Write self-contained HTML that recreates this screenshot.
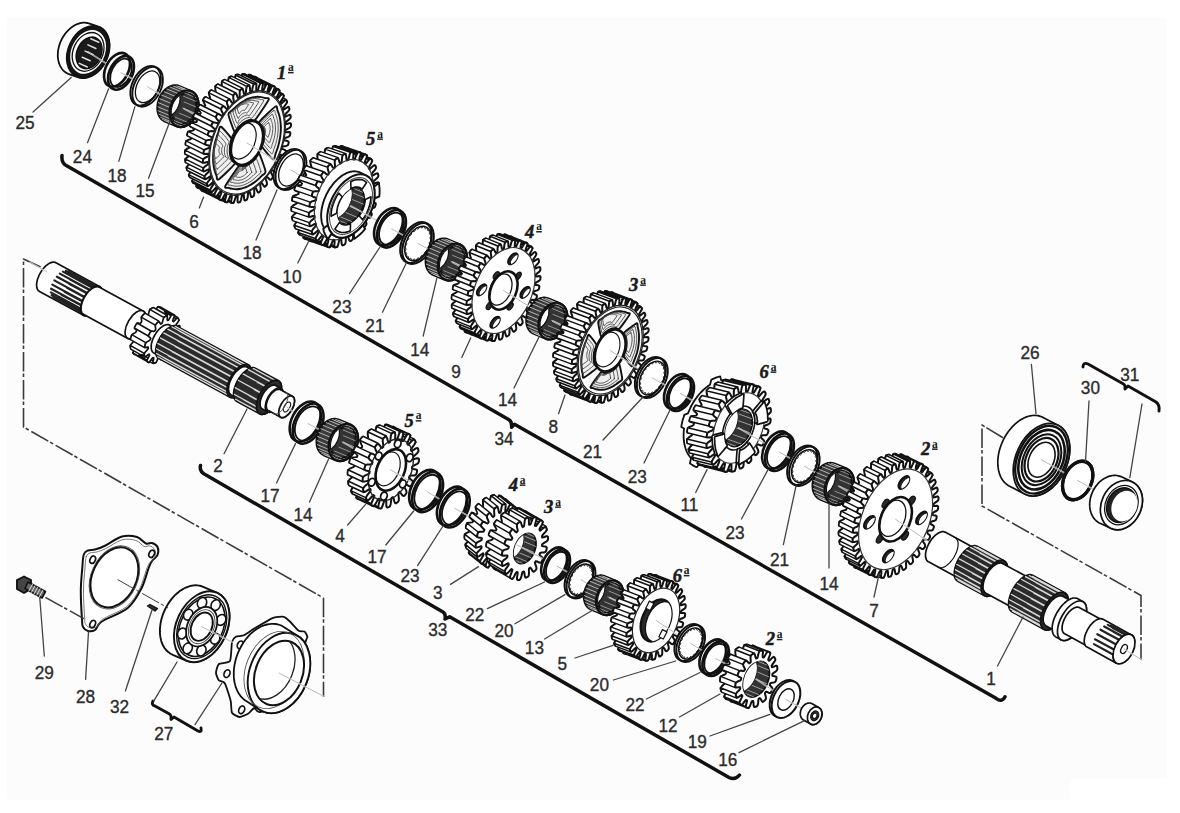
<!DOCTYPE html>
<html><head><meta charset="utf-8"><style>
html,body{margin:0;padding:0;background:#fff;}
svg{display:block;}
text{font-family:"Liberation Sans",sans-serif;}
</style></head><body>
<svg width="1180" height="813" viewBox="0 0 1180 813" stroke-linejoin="round" stroke-linecap="round">
<rect x="0" y="0" width="1180" height="813" fill="#fff"/>
<path d="M7,17.5 H1167 V778 H1070 V799.5 H7Z" fill="#fcfcfc"/>
<path d="M57.8,54.8 57.9,53 58,51.2 58.3,49.4 58.7,47.6 59.2,45.8 59.7,44 60.4,42.2 61.2,40.4 62,38.7 63,37.1 64,35.5 65,33.9 66.2,32.5 67.4,31.1 68.7,29.8 70,28.6 71.4,27.5 72.8,26.5 74.3,25.6 75.7,24.8 77.2,24.1 78.7,23.6 80.2,23.2 81.7,22.9 83.2,22.7 84.6,22.7 86.1,22.8 87.5,23 88.8,23.4 97.7,26.4 99,26.8 100.2,27.4 101.4,28.1 102.6,28.9 103.6,29.9 104.6,30.9 105.5,32 106.3,33.3 107.1,34.6 107.7,36 108.3,37.5 108.7,39.1 109.1,40.7 109.3,42.4 109.5,44.1 109.5,45.9 109.4,47.7 109.3,49.5 109,51.3 108.6,53.1 108.1,55 107.6,56.8 106.9,58.5 106.1,60.3 105.3,62 104.3,63.6 103.3,65.2 102.2,66.8 101.1,68.2 99.9,69.6 98.6,70.9 97.3,72.1 95.9,73.2 94.5,74.2 93,75.1 91.6,75.9 90.1,76.5 88.6,77.1 87.1,77.5 85.6,77.8 84.1,78 82.7,78 81.2,77.9 79.8,77.7 78.5,77.3 69.7,74.3 68.3,73.9 67.1,73.3 65.9,72.6 64.7,71.8 63.7,70.8 62.7,69.8 61.8,68.7 61,67.4 60.2,66.1 59.6,64.7 59,63.2 58.6,61.6 58.2,60 58,58.3 57.8,56.6Z" fill="#fff" stroke="#111" stroke-width="1.8" />
<ellipse cx="88.1" cy="51.9" rx="19.9" ry="27.3" transform="rotate(25 88.1 51.9)" fill="#151515" stroke="#111" stroke-width="1.6" />
<ellipse cx="88.1" cy="51.9" rx="16.7" ry="22.9" transform="rotate(25 88.1 51.9)" fill="#fff" stroke="none" stroke-width="0" />
<ellipse cx="88.1" cy="51.9" rx="14.8" ry="20.2" transform="rotate(25 88.1 51.9)" fill="none" stroke="#111" stroke-width="1.3" />
<ellipse cx="89.1" cy="52.9" rx="12" ry="16.4" transform="rotate(25 89.1 52.9)" fill="#1a1a1a" stroke="#111" stroke-width="1.6" />
<path d="M90.8,38.7 98.8,42.3M87.9,44.9 95.9,48.5M85.1,51.1 93.1,54.6M82.2,57.2 90.2,60.8M79.3,63.4 87.3,67" fill="none" stroke="#e0e0e0" stroke-width="1.5" />
<line x1="88.1" y1="51.9" x2="121" y2="72.8" stroke="#fff" stroke-width="1.8" opacity="0.6"/>
<line x1="88.1" y1="51.9" x2="121" y2="72.8" stroke="#a0a0a0" stroke-width="0.75" />
<ellipse cx="119" cy="71.3" rx="11.3" ry="18" transform="rotate(27 119 71.3)" fill="#fff" stroke="none" stroke-width="0" />
<ellipse cx="121" cy="72.8" rx="11.3" ry="18" transform="rotate(27 121 72.8)" fill="#fff" stroke="none" stroke-width="0" />
<ellipse cx="117" cy="69.8" rx="11.3" ry="18" transform="rotate(27 117 69.8)" fill="none" stroke="#111" stroke-width="2.6" />
<ellipse cx="121" cy="72.8" rx="11.3" ry="18" transform="rotate(27 121 72.8)" fill="none" stroke="#111" stroke-width="2.6" />
<ellipse cx="121" cy="72.8" rx="9.5" ry="15.1" transform="rotate(27 121 72.8)" fill="none" stroke="#111" stroke-width="1.8199999999999998" />
<line x1="121" y1="72.8" x2="147.6" y2="86.8" stroke="#fff" stroke-width="1.8" opacity="0.6"/>
<line x1="121" y1="72.8" x2="147.6" y2="86.8" stroke="#a0a0a0" stroke-width="0.75" />
<ellipse cx="146.6" cy="86.3" rx="13.3" ry="21.2" transform="rotate(27 146.6 86.3)" fill="#fff" stroke="none" stroke-width="0" />
<ellipse cx="147.6" cy="86.8" rx="13.3" ry="21.2" transform="rotate(27 147.6 86.8)" fill="#fff" stroke="none" stroke-width="0" />
<ellipse cx="145.6" cy="85.8" rx="13.3" ry="21.2" transform="rotate(27 145.6 85.8)" fill="none" stroke="#111" stroke-width="1.9" />
<ellipse cx="147.6" cy="86.8" rx="13.3" ry="21.2" transform="rotate(27 147.6 86.8)" fill="none" stroke="#111" stroke-width="1.9" />
<ellipse cx="147.6" cy="86.8" rx="10.7" ry="16.9" transform="rotate(27 147.6 86.8)" fill="none" stroke="#111" stroke-width="1.3299999999999998" />
<line x1="147.6" y1="86.8" x2="184" y2="108.7" stroke="#fff" stroke-width="1.8" opacity="0.6"/>
<line x1="147.6" y1="86.8" x2="184" y2="108.7" stroke="#a0a0a0" stroke-width="0.75" />
<path d="M157.5,107.4 157.6,106.2 157.7,104.9 157.9,103.6 158.1,102.3 158.5,101.1 158.9,99.8 159.3,98.6 159.9,97.4 160.4,96.2 161.1,95 161.8,93.9 162.5,92.9 163.3,91.9 164.2,90.9 165,90 165.9,89.2 166.9,88.5 167.8,87.8 168.8,87.2 169.8,86.7 170.8,86.3 171.8,85.9 172.8,85.7 173.8,85.5 174.8,85.4 175.8,85.4 176.8,85.5 177.7,85.7 178.7,86 179.5,86.3 191.5,91.3 192.4,91.8 193.2,92.3 193.9,92.9 194.7,93.6 195.3,94.3 195.9,95.2 196.5,96 196.9,97 197.4,98 197.7,99.1 198,100.2 198.2,101.3 198.4,102.5 198.5,103.7 198.5,105 198.4,106.2 198.3,107.5 198.1,108.8 197.8,110 197.5,111.3 197.1,112.6 196.6,113.8 196.1,115 195.5,116.2 194.9,117.3 194.2,118.5 193.4,119.5 192.7,120.5 191.8,121.5 191,122.3 190.1,123.2 189.1,123.9 188.2,124.6 187.2,125.2 186.2,125.7 185.2,126.1 184.2,126.5 183.2,126.7 182.2,126.9 181.2,127 180.2,127 179.2,126.9 178.2,126.7 177.3,126.4 176.5,126.1 164.5,121.1 163.6,120.6 162.8,120.1 162,119.5 161.3,118.8 160.7,118.1 160.1,117.2 159.5,116.4 159,115.4 158.6,114.4 158.2,113.3 158,112.2 157.7,111.1 157.6,109.9 157.5,108.7Z" fill="#3a3a3a" stroke="#111" stroke-width="2.4" />
<clipPath id="cl1"><path d="M157.5,107.4 157.6,106.2 157.7,104.9 157.9,103.6 158.1,102.3 158.5,101.1 158.9,99.8 159.3,98.6 159.9,97.4 160.4,96.2 161.1,95 161.8,93.9 162.5,92.9 163.3,91.9 164.2,90.9 165,90 165.9,89.2 166.9,88.5 167.8,87.8 168.8,87.2 169.8,86.7 170.8,86.3 171.8,85.9 172.8,85.7 173.8,85.5 174.8,85.4 175.8,85.4 176.8,85.5 177.7,85.7 178.7,86 179.5,86.3 191.5,91.3 192.4,91.8 193.2,92.3 193.9,92.9 194.7,93.6 195.3,94.3 195.9,95.2 196.5,96 196.9,97 197.4,98 197.7,99.1 198,100.2 198.2,101.3 198.4,102.5 198.5,103.7 198.5,105 198.4,106.2 198.3,107.5 198.1,108.8 197.8,110 197.5,111.3 197.1,112.6 196.6,113.8 196.1,115 195.5,116.2 194.9,117.3 194.2,118.5 193.4,119.5 192.7,120.5 191.8,121.5 191,122.3 190.1,123.2 189.1,123.9 188.2,124.6 187.2,125.2 186.2,125.7 185.2,126.1 184.2,126.5 183.2,126.7 182.2,126.9 181.2,127 180.2,127 179.2,126.9 178.2,126.7 177.3,126.4 176.5,126.1 164.5,121.1 163.6,120.6 162.8,120.1 162,119.5 161.3,118.8 160.7,118.1 160.1,117.2 159.5,116.4 159,115.4 158.6,114.4 158.2,113.3 158,112.2 157.7,111.1 157.6,109.9 157.5,108.7Z"/></clipPath>
<g clip-path="url(#cl1)">
<path d="M196.5,113.8 184.5,108.8M194.6,117.5 182.6,112.5M192.2,120.8 180.2,115.8M189.4,123.5 177.4,118.5M186.3,125.5 174.3,120.5M183.1,126.6 171.1,121.6M179.9,126.8 167.9,121.8M177,126.1 165,121.1M174.4,124.5 162.4,119.5M172.2,122.2 160.2,117.2M170.7,119.1 158.7,114.1M169.8,115.6 157.8,110.6M169.7,111.7 157.7,106.7M170.2,107.6 158.2,102.6M171.5,103.6 159.5,98.6M173.3,99.9 161.3,94.9M175.8,96.6 163.8,91.6M178.6,93.9 166.6,88.9M181.7,91.9 169.7,86.9M184.9,90.8 172.9,85.8M188.1,90.6 176.1,85.6M191,91.3 179,86.3M193.6,92.9 181.6,87.9M195.8,95.2 183.8,90.2M197.3,98.3 185.3,93.3M198.2,101.8 186.2,96.8M198.3,105.7 186.3,100.7M197.8,109.8 185.8,104.8" fill="none" stroke="#c4c4c4" stroke-width="0.9" />
</g>
<ellipse cx="184" cy="108.7" rx="13.6" ry="19" transform="rotate(22 184 108.7)" fill="none" stroke="#111" stroke-width="2.2" />
<ellipse cx="184" cy="108.7" rx="11.5" ry="15.9" transform="rotate(22 184 108.7)" fill="#333" stroke="#111" stroke-width="2.0" />
<clipPath id="cl2"><ellipse cx="184" cy="108.7" rx="11.5" ry="15.9" transform="rotate(22 184 108.7)" /></clipPath>
<g clip-path="url(#cl2)">
<path d="M194.6,113 182.6,108M191.5,118.3 179.5,113.3M187.3,122.2 175.3,117.2M182.5,124 170.5,119M178,123.5 166,118.5M174.4,120.7 162.4,115.7M172.3,116.1 160.3,111.1M171.9,110.4 159.9,105.4M173.4,104.4 161.4,99.4M176.5,99.1 164.5,94.1M180.7,95.2 168.7,90.2M185.4,93.4 173.4,88.4M190,93.9 178,88.9M193.6,96.7 181.6,91.7M195.7,101.3 183.7,96.3M196.1,107 184.1,102" fill="none" stroke="#b0b0b0" stroke-width="0.8" />
<ellipse cx="167.8" cy="102" rx="11.5" ry="15.9" transform="rotate(22 167.8 102)" fill="#fff" stroke="#111" stroke-width="1.2" />
</g>
<line x1="184" y1="108.7" x2="247" y2="143" stroke="#fff" stroke-width="1.8" opacity="0.6"/>
<line x1="184" y1="108.7" x2="247" y2="143" stroke="#a0a0a0" stroke-width="0.75" />
<defs><path id="g3" d="M278.8,156.5 279.8,157.5 281.6,159 282.4,160.1 282.4,161 281.4,163 280.7,163.6 279.5,163.6 277.3,162.9 275.9,162.8 275.1,164.3 275.9,165.5 277.4,167.4 278,168.8 277.8,169.8 276.7,171.6 276,172.1 274.8,171.8 272.9,170.5 271.6,170.1 270.6,171.5 271.2,173 272.4,175.3 272.8,176.8 272.5,177.8 271.3,179.5 270.6,179.8 269.5,179.3 267.8,177.5 266.7,176.8 265.6,178 266,179.7 266.8,182.4 267,184.1 266.6,185 265.2,186.5 264.5,186.7 263.6,185.8 262.2,183.6 261.3,182.6 260.1,183.7 260.3,185.5 260.7,188.5 260.7,190.3 260.2,191.2 258.8,192.4 258.1,192.5 257.3,191.4 256.3,188.8 255.5,187.5 254.3,188.3 254.2,190.3 254.3,193.5 254,195.3 253.5,196.2 252,197.1 251.3,197 250.7,195.7 250.1,192.8 249.5,191.3 248.3,191.9 248,193.8 247.7,197.3 247.2,199.1 246.6,199.9 245.1,200.5 244.5,200.2 244.1,198.7 243.9,195.5 243.5,193.9 242.3,194.2 241.8,196.2 241,199.7 240.4,201.5 239.7,202.2 238.2,202.5 237.7,202.1 237.5,200.4 237.7,197 237.6,195.2 236.4,195.3 235.6,197.2 234.5,200.7 233.7,202.5 233,203 231.6,203 231.1,202.4 231.2,200.6 231.8,197.2 231.8,195.2 230.7,195.1 229.8,196.9 228.4,200.3 227.4,201.9 226.6,202.3 225.3,202 225,201.3 225.2,199.5 226.2,196 226.5,194 225.5,193.6 224.4,195.3 222.6,198.5 221.5,200 220.8,200.2 219.6,199.6 219.3,198.8 219.8,196.9 221.1,193.5 221.7,191.5 220.8,190.9 219.5,192.4 217.5,195.3 216.3,196.6 215.6,196.7 214.5,195.7 214.4,194.9 215,193 216.7,189.8 217.4,187.8 216.7,186.9 215.4,188.3 213.1,190.8 211.8,191.9 211.1,191.9 210.3,190.6 210.3,189.7 211.1,187.9 213,184.9 214,183 213.4,181.9 212,183 209.6,185.2 208.2,186 207.6,185.8 206.9,184.3 207,183.3 208,181.7 210.2,179 211.3,177.2 210.9,176 209.4,176.8 206.9,178.5 205.5,179.1 205,178.7 204.5,177 204.8,176 205.9,174.5 208.2,172.2 209.5,170.6 209.2,169.2 207.8,169.7 205.3,170.9 203.9,171.2 203.4,170.7 203.2,168.9 203.5,167.9 204.8,166.6 207.3,164.7 208.6,163.3 208.6,161.8 207.1,162 204.6,162.7 203.3,162.7 202.9,162 203,160.1 203.4,159.1 204.7,158 207.3,156.6 208.7,155.5 208.8,153.9 207.5,153.8 205,154 203.8,153.7 203.5,152.9 203.8,150.9 204.3,150 205.7,149.1 208.2,148.2 209.7,147.4 210,145.8 208.8,145.4 206.5,145 205.4,144.4 205.2,143.5 205.7,141.5 206.3,140.6 207.7,140.1 210.2,139.7 211.6,139.2 212.1,137.6 211,136.8 208.9,135.9 208,135.1 207.9,134.1 208.6,132.1 209.3,131.4 210.6,131.1 213,131.3 214.4,131.1 215.1,129.5 214.1,128.5 212.3,127 211.5,125.9 211.6,125 212.5,123 213.2,122.4 214.5,122.4 216.7,123.1 218,123.2 218.8,121.7 218.1,120.5 216.5,118.6 215.9,117.2 216.1,116.2 217.2,114.4 217.9,113.9 219.1,114.2 221.1,115.5 222.3,115.9 223.3,114.5 222.7,113 221.5,110.7 221.1,109.2 221.4,108.2 222.6,106.5 223.4,106.2 224.5,106.7 226.1,108.5 227.3,109.2 228.3,108 228,106.3 227.1,103.6 226.9,101.9 227.3,101 228.7,99.5 229.4,99.3 230.4,100.2 231.7,102.4 232.7,103.4 233.8,102.3 233.7,100.5 233.2,97.5 233.3,95.7 233.7,94.8 235.2,93.6 235.9,93.5 236.7,94.6 237.6,97.2 238.4,98.5 239.6,97.7 239.7,95.7 239.7,92.5 239.9,90.7 240.5,89.8 242,88.9 242.6,89 243.2,90.3 243.8,93.2 244.4,94.7 245.6,94.1 245.9,92.2 246.3,88.7 246.7,86.9 247.3,86.1 248.9,85.5 249.5,85.8 249.9,87.3 250.1,90.5 250.4,92.1 251.6,91.8 252.2,89.8 252.9,86.3 253.6,84.5 254.2,83.8 255.7,83.5 256.3,83.9 256.4,85.6 256.2,89 256.4,90.8 257.5,90.7 258.3,88.8 259.4,85.3 260.2,83.5 260.9,83 262.4,83 262.8,83.6 262.8,85.4 262.2,88.8 262.1,90.8 263.2,90.9 264.1,89.1 265.6,85.7 266.6,84.1 267.3,83.7 268.6,84 269,84.7 268.7,86.5 267.8,90 267.4,92 268.4,92.4 269.5,90.7 271.3,87.5 272.4,86 273.2,85.8 274.4,86.4 274.6,87.2 274.1,89.1 272.8,92.5 272.3,94.5 273.2,95.1 274.4,93.6 276.4,90.7 277.7,89.4 278.4,89.3 279.4,90.3 279.5,91.1 278.9,93 277.2,96.2 276.5,98.2 277.2,99.1 278.6,97.7 280.8,95.2 282.1,94.1 282.8,94.1 283.7,95.4 283.7,96.3 282.9,98.1 280.9,101.1 280,103 280.6,104.1 282,103 284.4,100.8 285.7,100 286.4,100.2 287,101.7 286.9,102.7 285.9,104.3 283.8,107 282.6,108.8 283.1,110 284.5,109.2 287,107.5 288.4,106.9 289,107.3 289.4,109 289.2,110 288,111.5 285.7,113.8 284.4,115.4 284.7,116.8 286.1,116.3 288.7,115.1 290,114.8 290.5,115.3 290.7,117.1 290.4,118.1 289.2,119.4 286.7,121.3 285.3,122.7 285.4,124.2 286.8,124 289.3,123.3 290.6,123.3 291,124 291,125.9 290.5,126.9 289.2,128 286.7,129.4 285.2,130.5 285.1,132.1 286.5,132.2 288.9,132 290.1,132.3 290.4,133.1 290.1,135.1 289.6,136 288.3,136.9 285.7,137.8 284.2,138.6 283.9,140.2 285.2,140.6 287.5,141 288.5,141.6 288.7,142.5 288.2,144.5 287.6,145.4 286.3,145.9 283.8,146.3 282.3,146.8 281.8,148.4 282.9,149.2 285,150.1 286,150.9 286,151.9 285.3,153.9 284.7,154.6 283.3,154.9 281,154.7 279.5,154.9Z"/></defs>
<use href="#g3" x="-18" y="-9" fill="#fff" stroke="#111" stroke-width="2.0"/>
<use href="#g3" x="-16.2" y="-8.1" fill="#fff"/>
<use href="#g3" x="-14.4" y="-7.2" fill="#fff"/>
<use href="#g3" x="-12.6" y="-6.3" fill="#fff"/>
<use href="#g3" x="-10.8" y="-5.4" fill="#fff"/>
<use href="#g3" x="-9" y="-4.5" fill="#fff"/>
<use href="#g3" x="-7.2" y="-3.6" fill="#fff"/>
<use href="#g3" x="-5.4" y="-2.7" fill="#fff"/>
<use href="#g3" x="-3.6" y="-1.8" fill="#fff"/>
<use href="#g3" x="-1.8" y="-0.9" fill="#fff"/>
<path d="M286,99.5 287.3,102.4 269.3,93.4 268,90.5ZM233.7,203 230.9,202.9 212.9,193.9 215.7,194ZM282.4,93.6 284.1,96 266.1,87 264.4,84.6ZM227.3,202.5 224.6,201.8 206.6,192.8 209.3,193.5ZM277.8,88.8 279.9,90.8 261.9,81.8 259.8,79.8ZM221.4,200.5 219,199.2 201,190.2 203.4,191.5ZM272.5,85.5 275,86.8 257,77.8 254.5,76.5ZM216.1,197.2 214,195.2 196,186.2 198.1,188.2ZM266.6,83.5 269.3,84.2 251.3,75.2 248.6,74.5ZM211.6,192.4 209.8,190 191.8,181 193.6,183.4ZM260.2,83 263.1,83.1 245.1,74.1 242.2,74ZM207.9,186.5 206.6,183.6 188.6,174.6 189.9,177.5ZM253.5,84 256.5,83.4 238.5,74.4 235.5,75ZM205.2,179.5 204.3,176.1 186.3,167.1 187.2,170.5ZM246.6,86.4 249.6,85.2 231.6,76.2 228.6,77.4ZM203.5,171.6 203.1,167.9 185.1,158.9 185.5,162.6ZM239.7,90.3 242.7,88.4 224.7,79.4 221.7,81.3ZM233,95.4 235.9,93 217.9,84 215,86.4ZM202.9,163 203,159.1 185,150.1 184.9,154ZM226.6,101.7 229.4,98.8 211.4,89.8 208.6,92.7ZM203.4,153.9 204,149.8 186,140.8 185.4,144.9ZM220.8,109 223.3,105.7 205.3,96.7 202.8,100ZM205,144.6 206,140.4 188,131.4 187,135.6ZM215.6,117.2 217.8,113.5 199.8,104.5 197.6,108.2ZM207.6,135.2 209,131.1 191,122.1 189.6,126.2ZM211.1,126 213,122 195,113 193.1,117Z" fill="#fff" stroke="#111" stroke-width="1.5" />
<use href="#g3" fill="#fff" stroke="#111" stroke-width="2.0"/>
<ellipse cx="247" cy="143" rx="34.5" ry="54.8" transform="rotate(23 247 143)" fill="none" stroke="#222" stroke-width="1.2" />
<ellipse cx="247" cy="143" rx="33.7" ry="53.5" transform="rotate(23 247 143)" fill="none" stroke="#222" stroke-width="1.2" />
<path d="M265.5,171.4 C265.8,174 262.6,174.8 261.7,175.8 C260.8,176.7 258.7,178.8 257.8,179.6 C256.8,180.5 254.6,182.2 253.6,182.9 C252.6,183.6 250.3,185 249.3,185.5 C248.3,186.1 246,187.1 245,187.5 C244,187.8 241.7,188.5 240.7,188.7 C239.8,188.9 237.5,189.2 236.6,189.2 C235.6,189.2 233.5,189.1 232.6,188.9 C231.7,188.8 229.6,188.3 228.8,187.9 C227.9,187.6 224.1,188.8 225.3,186.2 C226.5,183.7 236.8,168.4 238.8,166.1 C240.9,163.8 241.9,166.4 242.9,166.3 C243.9,166.2 246.2,165.5 247.2,165 C248.2,164.5 250.6,163.1 251.5,162.3 C252.5,161.5 254.7,159.4 255.6,158.3 C256.4,157.3 257.9,151.9 259,153.4 C260.2,154.9 265.2,168.8 265.5,171.4Z" fill="#efefef" stroke="#111" stroke-width="1.9" />
<path d="M260.9,171.6 C261.1,173.8 258.6,174.5 257.8,175.2 C257.1,176 255.3,177.7 254.5,178.4 C253.8,179.1 251.9,180.5 251.1,181.1 C250.3,181.7 248.5,182.8 247.6,183.2 C246.8,183.7 244.9,184.5 244.1,184.8 C243.3,185.1 241.4,185.7 240.6,185.8 C239.8,186 238,186.2 237.2,186.2 C236.4,186.3 234.6,186.2 233.9,186 C233.1,185.9 231.5,185.5 230.8,185.2 C230.1,185 227,185.9 227.9,183.8 C228.9,181.7 237.4,169.2 239,167.3 C240.7,165.4 241.6,167.6 242.4,167.5 C243.2,167.4 245.1,166.8 245.9,166.4 C246.7,166 248.7,164.8 249.4,164.2 C250.2,163.6 252,161.8 252.7,161 C253.5,160.1 254.6,155.7 255.6,156.9 C256.5,158.2 260.6,169.5 260.9,171.6Z" fill="none" stroke="#444" stroke-width="0.9" />
<path d="M256.3,171.9 C256.5,173.6 254.5,174.1 253.9,174.7 C253.3,175.3 251.9,176.7 251.3,177.2 C250.7,177.7 249.3,178.8 248.7,179.3 C248,179.7 246.6,180.6 245.9,181 C245.3,181.3 243.8,182 243.2,182.2 C242.5,182.4 241.1,182.9 240.4,183 C239.8,183.1 238.4,183.3 237.8,183.3 C237.2,183.3 235.8,183.2 235.2,183.1 C234.6,183.1 233.3,182.7 232.8,182.5 C232.3,182.3 229.8,183 230.6,181.4 C231.3,179.8 237.9,170 239.2,168.5 C240.5,167 241.2,168.7 241.8,168.7 C242.5,168.6 244,168.1 244.6,167.8 C245.2,167.5 246.7,166.6 247.4,166.1 C248,165.6 249.4,164.2 249.9,163.6 C250.5,162.9 251.4,159.4 252.1,160.4 C252.9,161.4 256.1,170.2 256.3,171.9Z" fill="none" stroke="#444" stroke-width="0.9" />
<path d="M251.7,172.2 C251.8,173.4 250.4,173.7 250,174.2 C249.5,174.6 248.6,175.6 248.1,176 C247.7,176.4 246.7,177.2 246.2,177.5 C245.8,177.8 244.7,178.4 244.2,178.7 C243.8,178.9 242.7,179.4 242.3,179.6 C241.8,179.7 240.8,180 240.3,180.1 C239.8,180.2 238.8,180.4 238.4,180.4 C237.9,180.4 237,180.3 236.5,180.2 C236.1,180.2 235.2,179.9 234.8,179.8 C234.4,179.6 232.7,180.2 233.2,179 C233.7,177.8 238.5,170.8 239.4,169.7 C240.4,168.7 240.8,169.9 241.3,169.8 C241.7,169.8 242.8,169.5 243.3,169.2 C243.7,169 244.8,168.4 245.3,168 C245.7,167.6 246.7,166.7 247.1,166.2 C247.5,165.7 248.2,163.2 248.7,163.9 C249.2,164.6 251.5,171 251.7,172.2Z" fill="none" stroke="#444" stroke-width="0.9" />
<path d="M247.1,172.4 C247.2,173.2 246.3,173.4 246,173.7 C245.8,173.9 245.2,174.5 244.9,174.7 C244.6,175 244,175.5 243.7,175.7 C243.5,175.9 242.8,176.3 242.6,176.4 C242.3,176.6 241.6,176.8 241.3,176.9 C241.1,177 240.4,177.2 240.2,177.3 C239.9,177.3 239.3,177.4 239,177.4 C238.7,177.4 238.1,177.4 237.9,177.4 C237.6,177.3 237,177.2 236.8,177.1 C236.6,177 235.5,177.3 235.8,176.6 C236.2,175.9 239,171.6 239.6,171 C240.2,170.3 240.5,171.1 240.8,171 C241,171 241.7,170.8 242,170.7 C242.3,170.5 242.9,170.1 243.2,169.9 C243.4,169.7 244.1,169.1 244.3,168.8 C244.5,168.5 244.9,167 245.3,167.4 C245.6,167.8 247,171.7 247.1,172.4Z" fill="none" stroke="#444" stroke-width="0.9" />
<path d="M218.6,179.5 C216.4,180.8 216.9,176.5 216.5,175.6 C216,174.6 215.1,172.2 214.8,171.2 C214.5,170.1 213.9,167.5 213.7,166.3 C213.5,165.1 213.2,162.3 213.1,161 C213.1,159.8 213.1,156.8 213.1,155.5 C213.2,154.2 213.5,151.1 213.6,149.8 C213.8,148.4 214.4,145.3 214.7,143.9 C215,142.6 215.8,139.4 216.3,138.1 C216.7,136.7 217.8,133.6 218.3,132.3 C218.9,130.9 219.3,125.9 220.9,126.7 C222.5,127.5 230.7,137.1 231.8,139.2 C232.9,141.4 230.5,143.8 230.3,145.2 C230,146.5 229.8,149.7 229.8,151 C229.8,152.2 230.1,155.1 230.4,156.2 C230.7,157.4 231.6,159.8 232.1,160.7 C232.6,161.6 236.3,161.8 234.7,164 C233.2,166.1 220.7,178.1 218.6,179.5Z" fill="#efefef" stroke="#111" stroke-width="1.9" />
<path d="M217.9,174.3 C216.1,175.4 216.5,171.9 216.1,171.1 C215.8,170.3 215.1,168.3 214.8,167.4 C214.5,166.6 214,164.4 213.9,163.5 C213.7,162.5 213.5,160.2 213.4,159.2 C213.4,158.1 213.4,155.7 213.4,154.6 C213.4,153.5 213.7,151 213.8,149.9 C214,148.8 214.4,146.2 214.7,145.1 C214.9,144 215.6,141.4 216,140.3 C216.3,139.2 217.2,136.7 217.7,135.6 C218.1,134.5 218.5,130.3 219.8,131 C221.1,131.6 227.9,139.5 228.8,141.3 C229.6,143 227.7,145 227.5,146.1 C227.3,147.3 227.1,149.8 227.1,150.9 C227.1,151.9 227.4,154.3 227.6,155.2 C227.8,156.1 228.5,158.1 229,158.8 C229.4,159.6 232.4,159.7 231.1,161.5 C229.8,163.3 219.6,173.1 217.9,174.3Z" fill="none" stroke="#444" stroke-width="0.9" />
<path d="M217.2,169.1 C215.8,169.9 216.1,167.2 215.8,166.6 C215.5,165.9 215,164.4 214.8,163.7 C214.6,163 214.2,161.4 214.1,160.6 C213.9,159.9 213.7,158.1 213.7,157.3 C213.7,156.5 213.6,154.6 213.7,153.7 C213.7,152.9 213.9,150.9 214,150 C214.1,149.2 214.5,147.2 214.7,146.3 C214.9,145.4 215.4,143.4 215.7,142.6 C216,141.7 216.7,139.7 217,138.9 C217.4,138 217.6,134.7 218.6,135.3 C219.7,135.8 225,141.9 225.7,143.3 C226.4,144.7 224.8,146.2 224.7,147.1 C224.5,148 224.3,150 224.4,150.8 C224.4,151.6 224.6,153.5 224.7,154.2 C224.9,154.9 225.5,156.4 225.8,157 C226.1,157.6 228.5,157.7 227.5,159.1 C226.5,160.5 218.5,168.2 217.2,169.1Z" fill="none" stroke="#444" stroke-width="0.9" />
<path d="M216.5,163.8 C215.5,164.5 215.7,162.5 215.5,162.1 C215.3,161.6 214.9,160.5 214.7,160 C214.6,159.5 214.3,158.3 214.2,157.8 C214.1,157.2 214,156 214,155.4 C213.9,154.8 213.9,153.4 214,152.8 C214,152.2 214.1,150.8 214.2,150.2 C214.3,149.6 214.5,148.1 214.7,147.5 C214.8,146.9 215.2,145.4 215.4,144.8 C215.6,144.2 216.1,142.8 216.4,142.1 C216.6,141.5 216.8,139.2 217.5,139.6 C218.3,139.9 222.1,144.4 222.6,145.3 C223.1,146.3 222,147.4 221.9,148.1 C221.7,148.7 221.6,150.1 221.6,150.7 C221.6,151.3 221.8,152.6 221.9,153.2 C222,153.7 222.5,154.8 222.7,155.2 C222.9,155.6 224.6,155.7 223.9,156.7 C223.2,157.7 217.4,163.2 216.5,163.8Z" fill="none" stroke="#444" stroke-width="0.9" />
<path d="M215.8,158.6 C215.2,159 215.3,157.8 215.2,157.6 C215.1,157.3 214.8,156.6 214.7,156.3 C214.6,156 214.5,155.3 214.4,155 C214.4,154.6 214.3,153.8 214.2,153.5 C214.2,153.1 214.2,152.3 214.2,151.9 C214.3,151.6 214.3,150.7 214.4,150.3 C214.4,149.9 214.6,149.1 214.7,148.7 C214.8,148.3 215,147.4 215.1,147 C215.2,146.7 215.6,145.8 215.7,145.4 C215.9,145.1 216,143.6 216.4,143.9 C216.9,144.1 219.2,146.8 219.5,147.4 C219.8,148 219.1,148.7 219,149 C219,149.4 218.9,150.3 218.9,150.7 C218.9,151 219,151.8 219.1,152.1 C219.2,152.5 219.4,153.1 219.6,153.4 C219.7,153.6 220.7,153.7 220.3,154.3 C219.9,154.9 216.4,158.3 215.8,158.6Z" fill="none" stroke="#444" stroke-width="0.9" />
<path d="M228.4,114.6 C228.1,112 231.3,111.2 232.2,110.2 C233.1,109.3 235.2,107.2 236.2,106.4 C237.1,105.5 239.4,103.8 240.3,103.1 C241.3,102.4 243.6,101 244.6,100.5 C245.6,99.9 247.9,98.9 248.9,98.5 C249.9,98.2 252.2,97.5 253.2,97.3 C254.2,97.1 256.4,96.8 257.4,96.8 C258.3,96.8 260.5,96.9 261.4,97.1 C262.3,97.2 264.3,97.7 265.1,98.1 C266,98.4 269.8,97.2 268.6,99.8 C267.5,102.3 257.1,117.6 255.1,119.9 C253,122.2 252,119.6 251,119.7 C250,119.8 247.7,120.5 246.7,121 C245.7,121.5 243.4,122.9 242.4,123.7 C241.4,124.5 239.3,126.6 238.4,127.7 C237.5,128.7 236.1,134.1 234.9,132.6 C233.8,131.1 228.8,117.2 228.4,114.6Z" fill="#efefef" stroke="#111" stroke-width="1.9" />
<path d="M230.6,113.2 C230.4,111 233,110.3 233.7,109.6 C234.5,108.8 236.2,107.1 237,106.4 C237.8,105.7 239.6,104.3 240.4,103.7 C241.2,103.1 243.1,102 243.9,101.6 C244.7,101.1 246.6,100.3 247.4,100 C248.3,99.7 250.1,99.1 250.9,99 C251.7,98.8 253.6,98.6 254.4,98.6 C255.1,98.5 256.9,98.6 257.6,98.8 C258.4,98.9 260,99.3 260.7,99.6 C261.4,99.8 264.6,98.9 263.6,101 C262.6,103.1 254.2,115.6 252.5,117.5 C250.8,119.4 250,117.2 249.2,117.3 C248.4,117.4 246.4,118 245.6,118.4 C244.8,118.8 242.9,120 242.1,120.6 C241.3,121.2 239.5,123 238.8,123.8 C238.1,124.7 236.9,129.1 236,127.9 C235,126.6 230.9,115.3 230.6,113.2Z" fill="none" stroke="#444" stroke-width="0.9" />
<path d="M232.9,111.7 C232.6,110 234.7,109.5 235.3,108.9 C235.8,108.3 237.2,106.9 237.8,106.4 C238.4,105.9 239.8,104.8 240.5,104.3 C241.1,103.9 242.6,103 243.2,102.6 C243.8,102.3 245.3,101.6 246,101.4 C246.6,101.2 248.1,100.7 248.7,100.6 C249.3,100.5 250.7,100.3 251.4,100.3 C252,100.3 253.3,100.4 253.9,100.5 C254.5,100.5 255.8,100.9 256.3,101.1 C256.9,101.3 259.3,100.6 258.6,102.2 C257.8,103.8 251.2,113.6 249.9,115.1 C248.6,116.6 247.9,114.9 247.3,114.9 C246.7,115 245.2,115.5 244.5,115.8 C243.9,116.1 242.4,117 241.8,117.5 C241.2,118 239.8,119.4 239.2,120 C238.6,120.7 237.7,124.2 237,123.2 C236.3,122.2 233.1,113.4 232.9,111.7Z" fill="none" stroke="#444" stroke-width="0.9" />
<path d="M235.1,110.2 C234.9,109 236.4,108.7 236.8,108.2 C237.2,107.8 238.2,106.8 238.6,106.4 C239,106 240.1,105.2 240.5,104.9 C241,104.6 242,104 242.5,103.7 C242.9,103.5 244,103 244.5,102.8 C244.9,102.7 246,102.4 246.4,102.3 C246.9,102.2 247.9,102 248.4,102 C248.8,102 249.8,102.1 250.2,102.2 C250.6,102.2 251.5,102.5 251.9,102.6 C252.3,102.8 254.1,102.2 253.5,103.4 C253,104.6 248.3,111.6 247.3,112.7 C246.4,113.7 245.9,112.5 245.4,112.6 C245,112.6 243.9,112.9 243.5,113.2 C243,113.4 241.9,114 241.5,114.4 C241,114.8 240,115.7 239.6,116.2 C239.2,116.7 238.6,119.2 238,118.5 C237.5,117.8 235.2,111.4 235.1,110.2Z" fill="none" stroke="#444" stroke-width="0.9" />
<path d="M237.3,108.8 C237.2,108 238.1,107.8 238.3,107.5 C238.6,107.3 239.2,106.7 239.4,106.5 C239.7,106.2 240.3,105.7 240.6,105.5 C240.9,105.3 241.5,104.9 241.8,104.8 C242.1,104.6 242.7,104.4 243,104.3 C243.3,104.2 243.9,104 244.2,103.9 C244.5,103.9 245.1,103.8 245.4,103.8 C245.6,103.8 246.2,103.8 246.5,103.8 C246.7,103.9 247.3,104 247.5,104.1 C247.8,104.2 248.8,103.9 248.5,104.6 C248.2,105.3 245.3,109.6 244.7,110.2 C244.1,110.9 243.9,110.1 243.6,110.2 C243.3,110.2 242.6,110.4 242.4,110.5 C242.1,110.7 241.4,111.1 241.2,111.3 C240.9,111.5 240.3,112.1 240,112.4 C239.8,112.7 239.4,114.2 239.1,113.8 C238.7,113.4 237.3,109.5 237.3,108.8Z" fill="none" stroke="#444" stroke-width="0.9" />
<path d="M275.4,106.5 C277.5,105.2 277,109.5 277.5,110.4 C277.9,111.4 278.8,113.8 279.1,114.8 C279.4,115.9 280,118.5 280.2,119.7 C280.4,120.9 280.7,123.7 280.8,125 C280.9,126.2 280.9,129.2 280.8,130.5 C280.8,131.8 280.5,134.9 280.3,136.2 C280.1,137.6 279.5,140.7 279.2,142.1 C278.9,143.4 278.1,146.6 277.7,147.9 C277.2,149.3 276.1,152.4 275.6,153.7 C275.1,155.1 274.6,160.1 273.1,159.3 C271.5,158.5 263.2,148.9 262.1,146.8 C261,144.6 263.4,142.2 263.7,140.8 C263.9,139.5 264.2,136.3 264.1,135 C264.1,133.8 263.8,130.9 263.5,129.8 C263.3,128.6 262.3,126.2 261.8,125.3 C261.3,124.4 257.6,124.2 259.2,122 C260.8,119.9 273.2,107.9 275.4,106.5Z" fill="#efefef" stroke="#111" stroke-width="1.9" />
<path d="M273.7,110.5 C275.4,109.4 275,112.9 275.4,113.7 C275.8,114.5 276.5,116.5 276.7,117.4 C277,118.2 277.5,120.4 277.6,121.3 C277.8,122.3 278.1,124.6 278.1,125.6 C278.2,126.7 278.2,129.1 278.1,130.2 C278.1,131.3 277.9,133.8 277.7,134.9 C277.6,136 277.1,138.6 276.8,139.7 C276.6,140.8 275.9,143.4 275.5,144.5 C275.2,145.6 274.3,148.1 273.8,149.2 C273.4,150.3 273.1,154.5 271.8,153.8 C270.5,153.2 263.7,145.3 262.8,143.5 C261.9,141.8 263.9,139.8 264.1,138.7 C264.3,137.5 264.5,135 264.5,133.9 C264.4,132.9 264.2,130.5 264,129.6 C263.7,128.7 263,126.7 262.6,126 C262.2,125.2 259.1,125.1 260.4,123.3 C261.7,121.5 271.9,111.7 273.7,110.5Z" fill="none" stroke="#444" stroke-width="0.9" />
<path d="M272,114.5 C273.3,113.7 273,116.4 273.3,117 C273.6,117.7 274.2,119.2 274.4,119.9 C274.6,120.6 274.9,122.2 275.1,123 C275.2,123.7 275.4,125.5 275.4,126.3 C275.5,127.1 275.5,129 275.5,129.9 C275.4,130.7 275.2,132.7 275.1,133.6 C275,134.4 274.6,136.4 274.4,137.3 C274.2,138.2 273.7,140.2 273.4,141 C273.2,141.9 272.5,143.9 272.1,144.7 C271.8,145.6 271.5,148.9 270.5,148.3 C269.5,147.8 264.2,141.7 263.5,140.3 C262.8,138.9 264.3,137.4 264.5,136.5 C264.6,135.6 264.8,133.6 264.8,132.8 C264.8,132 264.6,130.1 264.4,129.4 C264.2,128.7 263.6,127.2 263.3,126.6 C263,126 260.6,125.9 261.6,124.5 C262.6,123.1 270.6,115.4 272,114.5Z" fill="none" stroke="#444" stroke-width="0.9" />
<path d="M270.3,118.6 C271.3,117.9 271,119.9 271.2,120.3 C271.4,120.8 271.8,121.9 272,122.4 C272.1,122.9 272.4,124.1 272.5,124.6 C272.6,125.2 272.7,126.4 272.8,127 C272.8,127.6 272.8,129 272.8,129.6 C272.7,130.2 272.6,131.6 272.5,132.2 C272.5,132.8 272.2,134.3 272.1,134.9 C271.9,135.5 271.5,137 271.3,137.6 C271.1,138.2 270.6,139.6 270.4,140.3 C270.1,140.9 269.9,143.2 269.2,142.8 C268.5,142.5 264.7,138 264.2,137.1 C263.7,136.1 264.8,135 264.9,134.3 C265,133.7 265.1,132.3 265.1,131.7 C265.1,131.1 264.9,129.8 264.8,129.2 C264.7,128.7 264.3,127.6 264,127.2 C263.8,126.8 262.1,126.7 262.8,125.7 C263.6,124.7 269.3,119.2 270.3,118.6Z" fill="none" stroke="#444" stroke-width="0.9" />
<path d="M268.6,122.6 C269.2,122.2 269,123.4 269.2,123.6 C269.3,123.9 269.5,124.6 269.6,124.9 C269.7,125.2 269.9,125.9 269.9,126.2 C270,126.6 270.1,127.4 270.1,127.7 C270.1,128.1 270.1,128.9 270.1,129.3 C270.1,129.6 270,130.5 269.9,130.9 C269.9,131.3 269.7,132.1 269.7,132.5 C269.6,132.9 269.3,133.8 269.2,134.2 C269.1,134.5 268.8,135.4 268.6,135.8 C268.5,136.1 268.4,137.6 267.9,137.3 C267.5,137.1 265.2,134.4 264.9,133.8 C264.5,133.2 265.2,132.5 265.3,132.2 C265.4,131.8 265.4,130.9 265.4,130.5 C265.4,130.2 265.3,129.4 265.3,129.1 C265.2,128.7 264.9,128.1 264.8,127.8 C264.6,127.6 263.6,127.5 264,126.9 C264.5,126.3 268,122.9 268.6,122.6Z" fill="none" stroke="#444" stroke-width="0.9" />
<ellipse cx="247" cy="143" rx="14.7" ry="23.3" transform="rotate(23 247 143)" fill="#fff" stroke="#111" stroke-width="3.0" />
<ellipse cx="243" cy="141" rx="11.9" ry="18.9" transform="rotate(23 243 141)" fill="none" stroke="#111" stroke-width="1.2" />
<line x1="247" y1="143" x2="291" y2="170" stroke="#fff" stroke-width="1.8" opacity="0.6"/>
<line x1="247" y1="143" x2="291" y2="170" stroke="#a0a0a0" stroke-width="0.75" />
<ellipse cx="290" cy="169.5" rx="13.5" ry="21.4" transform="rotate(27 290 169.5)" fill="#fff" stroke="none" stroke-width="0" />
<ellipse cx="291" cy="170" rx="13.5" ry="21.4" transform="rotate(27 291 170)" fill="#fff" stroke="none" stroke-width="0" />
<ellipse cx="289" cy="169" rx="13.5" ry="21.4" transform="rotate(27 289 169)" fill="none" stroke="#111" stroke-width="1.9" />
<ellipse cx="291" cy="170" rx="13.5" ry="21.4" transform="rotate(27 291 170)" fill="none" stroke="#111" stroke-width="1.9" />
<ellipse cx="291" cy="170" rx="10.8" ry="17.1" transform="rotate(27 291 170)" fill="none" stroke="#111" stroke-width="1.3299999999999998" />
<line x1="291" y1="170" x2="351" y2="206" stroke="#fff" stroke-width="1.8" opacity="0.6"/>
<line x1="291" y1="170" x2="351" y2="206" stroke="#a0a0a0" stroke-width="0.75" />
<defs><path id="g4" d="M368.4,210 369.3,211.1 371.1,212.6 371.8,213.8 371.7,214.9 370.6,217.1 369.9,217.8 368.6,217.8 366.4,216.9 365,216.8 364.1,218.4 364.7,219.8 366.1,222 366.5,223.5 366.3,224.6 364.9,226.6 364.1,227.1 362.9,226.6 361.1,225.1 359.9,224.5 358.8,225.9 359.1,227.5 360,230.3 360.1,232 359.7,233.1 358.1,234.7 357.3,235 356.3,234.1 355,231.9 354,230.9 352.7,232 352.8,233.9 353.1,237 352.9,238.9 352.3,239.8 350.6,241.1 349.8,241.1 349.1,239.9 348.3,237.1 347.6,235.8 346.3,236.5 345.9,238.5 345.7,241.9 345.2,243.8 344.5,244.6 342.8,245.4 342.1,245.1 341.6,243.6 341.4,240.5 341,238.8 339.6,239.2 339,241.1 338.2,244.6 337.4,246.5 336.7,247.1 335,247.4 334.4,246.9 334.3,245.2 334.6,241.8 334.5,239.9 333.3,239.8 332.4,241.7 331,245.1 330,246.8 329.2,247.3 327.6,247 327.2,246.3 327.4,244.4 328.3,241 328.5,238.9 327.4,238.5 326.3,240.2 324.5,243.3 323.3,244.8 322.5,245 321.1,244.2 320.8,243.3 321.3,241.4 322.7,238.1 323.3,236 322.4,235.2 321.1,236.6 318.9,239.4 317.6,240.5 316.8,240.5 315.7,239.2 315.6,238.2 316.4,236.4 318.2,233.3 319.1,231.3 318.4,230.2 317,231.2 314.6,233.4 313.2,234.2 312.5,233.9 311.8,232.2 311.9,231.1 312.8,229.4 315,226.8 316.1,225 315.7,223.6 314.3,224.2 311.7,225.7 310.3,226.1 309.8,225.6 309.4,223.6 309.7,222.5 310.9,221 313.3,218.9 314.6,217.4 314.5,215.8 313,216 310.5,216.8 309.2,216.7 308.8,216 308.8,213.8 309.2,212.7 310.5,211.5 313.1,210.1 314.5,208.9 314.7,207.1 313.3,206.9 310.9,206.9 309.8,206.5 309.5,205.6 309.9,203.2 310.5,202.3 311.9,201.4 314.4,200.7 315.9,200 316.3,198.2 315.2,197.5 313,196.7 312.1,195.9 312,194.9 312.7,192.5 313.4,191.7 314.8,191.3 317.2,191.3 318.7,191 319.4,189.3 318.5,188.2 316.7,186.7 315.9,185.5 316.1,184.4 317.1,182.2 317.9,181.5 319.2,181.5 321.4,182.4 322.7,182.5 323.7,180.9 323,179.5 321.7,177.3 321.2,175.8 321.5,174.7 322.9,172.7 323.7,172.2 324.9,172.7 326.6,174.2 327.9,174.8 329,173.4 328.6,171.8 327.8,169 327.7,167.3 328.1,166.2 329.7,164.6 330.5,164.3 331.5,165.2 332.8,167.4 333.8,168.4 335,167.3 335,165.4 334.7,162.3 334.9,160.4 335.5,159.5 337.2,158.2 337.9,158.2 338.7,159.4 339.5,162.2 340.2,163.5 341.5,162.8 341.8,160.8 342.1,157.4 342.6,155.5 343.3,154.7 345,153.9 345.7,154.2 346.1,155.7 346.4,158.8 346.8,160.5 348.1,160.1 348.7,158.2 349.6,154.7 350.3,152.8 351.1,152.2 352.8,151.9 353.4,152.4 353.5,154.1 353.2,157.5 353.3,159.4 354.5,159.5 355.4,157.6 356.8,154.2 357.8,152.5 358.6,152 360.1,152.3 360.6,153 360.4,154.9 359.5,158.3 359.3,160.4 360.4,160.8 361.5,159.1 363.3,156 364.5,154.5 365.3,154.3 366.6,155.1 366.9,156 366.5,157.9 365.1,161.2 364.5,163.3 365.4,164.1 366.7,162.7 368.9,159.9 370.2,158.8 371,158.8 372,160.1 372.1,161.1 371.4,162.9 369.5,166 368.7,168 369.4,169.1 370.8,168.1 373.2,165.9 374.6,165.1 375.3,165.4 376,167.1 375.9,168.2 374.9,169.9 372.7,172.5 371.6,174.3 372,175.7 373.5,175.1 376,173.6 377.4,173.2 378,173.7 378.4,175.7 378.1,176.8 376.9,178.3 374.5,180.4 373.2,181.9 373.3,183.5 374.7,183.3 377.3,182.5 378.6,182.6 379,183.3 379,185.5 378.6,186.6 377.2,187.8 374.7,189.2 373.3,190.4 373.1,192.2 374.4,192.4 376.8,192.4 378,192.8 378.3,193.7 377.9,196.1 377.3,197 375.9,197.9 373.4,198.6 371.9,199.3 371.4,201.1 372.6,201.8 374.7,202.6 375.7,203.4 375.8,204.4 375,206.8 374.3,207.6 373,208 370.6,208 369.1,208.3Z"/></defs>
<use href="#g4" x="-17.4" y="-6" fill="#fff" stroke="#111" stroke-width="2.0"/>
<use href="#g4" x="-15.6" y="-5.4" fill="#fff"/>
<use href="#g4" x="-13.9" y="-4.8" fill="#fff"/>
<use href="#g4" x="-12.2" y="-4.2" fill="#fff"/>
<use href="#g4" x="-10.4" y="-3.6" fill="#fff"/>
<use href="#g4" x="-8.7" y="-3" fill="#fff"/>
<use href="#g4" x="-6.9" y="-2.4" fill="#fff"/>
<use href="#g4" x="-5.2" y="-1.8" fill="#fff"/>
<use href="#g4" x="-3.5" y="-1.2" fill="#fff"/>
<use href="#g4" x="-1.7" y="-0.6" fill="#fff"/>
<path d="M370.4,158.2 372.5,160.8 355.2,154.8 353,152.2ZM337.5,247 334.1,247.4 316.8,241.4 320.2,241ZM364.6,153.9 367.3,155.5 349.9,149.5 347.2,147.9ZM330,247.4 326.9,246.8 309.5,240.8 312.6,241.4ZM357.8,151.9 360.9,152.5 343.5,146.5 340.4,145.9ZM323.2,245.4 320.5,243.8 303.1,237.8 305.8,239.4ZM350.2,152.3 353.6,151.9 336.3,145.9 332.9,146.3ZM317.4,241.1 315.2,238.5 297.9,232.5 300,235.1ZM342.4,155.1 345.9,153.6 328.5,147.6 325,149.1ZM312.9,234.7 311.4,231.3 294.1,225.3 295.5,228.7ZM334.6,160.1 338,157.6 320.7,151.6 317.3,154.1ZM310,226.6 309.3,222.6 291.9,216.6 292.6,220.6ZM327.3,167.1 330.5,163.8 313.1,157.8 310,161.1ZM308.8,217.1 308.8,212.6 291.5,206.6 291.4,211.1ZM320.9,175.7 323.6,171.7 306.2,165.7 303.5,169.7ZM309.4,206.8 310.1,202.1 292.8,196.1 292,200.8ZM315.5,185.5 317.7,181.1 300.3,175.1 298.2,179.5ZM311.6,196.1 313.2,191.4 295.8,185.4 294.3,190.1Z" fill="#fff" stroke="#111" stroke-width="1.5" />
<use href="#g4" fill="#fff" stroke="#111" stroke-width="2.0"/>
<ellipse cx="343.9" cy="199.7" rx="26.6" ry="42.2" transform="rotate(23 343.9 199.7)" fill="none" stroke="#333" stroke-width="1.2" />
<path d="M321.1,215.4 321.2,213.3 321.4,211.2 321.7,209 322.1,206.9 322.6,204.7 323.3,202.4 324,200.2 324.9,198 325.8,195.9 326.8,193.7 327.9,191.7 329.1,189.6 330.4,187.6 331.8,185.8 333.2,183.9 334.7,182.2 336.2,180.6 337.8,179.1 339.4,177.7 341,176.4 342.6,175.3 344.3,174.3 346,173.4 347.6,172.7 349.3,172.1 350.9,171.7 352.5,171.4 354.1,171.3 355.6,171.4 357,171.6 358.4,171.9 359.8,172.4 365.8,175.4 367.1,176.1 368.2,176.8 369.4,177.8 370.4,178.8 371.3,180.1 372.1,181.4 372.8,182.8 373.5,184.4 374,186.1 374.4,187.8 374.6,189.7 374.8,191.6 374.9,193.6 374.8,195.7 374.6,197.8 374.3,200 373.9,202.1 373.4,204.3 372.7,206.6 372,208.8 371.1,211 370.2,213.1 369.2,215.3 368.1,217.3 366.9,219.4 365.6,221.4 364.2,223.2 362.8,225.1 361.3,226.8 359.8,228.4 358.2,229.9 356.6,231.3 355,232.6 353.4,233.7 351.7,234.7 350,235.6 348.4,236.3 346.7,236.9 345.1,237.3 343.5,237.6 341.9,237.7 340.4,237.6 339,237.4 337.6,237.1 336.2,236.6 330.2,233.6 328.9,232.9 327.8,232.2 326.6,231.2 325.6,230.2 324.7,228.9 323.9,227.6 323.2,226.2 322.5,224.6 322,222.9 321.6,221.2 321.4,219.3 321.2,217.4Z" fill="#fff" stroke="#111" stroke-width="1.9" />
<ellipse cx="351" cy="206" rx="20.4" ry="34" transform="rotate(27 351 206)" fill="#fff" stroke="#111" stroke-width="2.0" />
<ellipse cx="351" cy="206" rx="18.4" ry="30.6" transform="rotate(27 351 206)" fill="none" stroke="#444" stroke-width="1.0" />
<path d="M374.1,186.7 374.6,189.4 374.8,192.1 374.8,195 374.6,198.1 379.3,196.5 379.6,192.8 379.6,189.4 379.3,186 378.8,182.9Z" fill="#fff" stroke="#111" stroke-width="1.9" />
<path d="M362.8,225.1 360.7,227.5 358.4,229.7 356.1,231.7 353.8,233.4 354.3,238.9 357.2,236.8 359.9,234.5 362.6,231.8 365.1,228.9Z" fill="#fff" stroke="#111" stroke-width="1.9" />
<path d="M331.8,233.4 330.5,231.7 329.4,229.7 328.5,227.5 327.8,225 323.2,228.9 324,231.8 325.1,234.4 326.4,236.8 328,238.9Z" fill="#fff" stroke="#111" stroke-width="1.9" />
<path d="M371,196.8 370.6,200.6 369.8,204.6 368.5,208.6 366.9,212.5 364.9,216.3 362.6,219.8 359.3,215.9 360.9,213.3 362.4,210.6 363.5,207.8 364.4,205 365,202.2 365.3,199.4Z" fill="#fff" stroke="#111" stroke-width="1.6" />
<path d="M350.3,230.8 347.4,231.9 344.4,232.5 341.7,232.5 339.1,231.9 336.9,230.8 334.9,229 339.5,222.4 340.9,223.7 342.5,224.5 344.4,225 346.3,225 348.4,224.5 350.5,223.7Z" fill="#fff" stroke="#111" stroke-width="1.6" />
<path d="M331,216.2 331.2,212.5 331.9,208.5 333.1,204.5 334.6,200.6 336.5,196.7 338.7,193.1 342.2,196.8 340.7,199.4 339.3,202.1 338.2,205 337.4,207.8 336.9,210.6 336.7,213.3Z" fill="#fff" stroke="#111" stroke-width="1.6" />
<path d="M350.8,181.7 353.8,180.3 356.8,179.6 359.6,179.4 362.2,179.8 364.5,180.9 366.6,182.5 362.1,189.2 360.7,188 359,187.3 357.1,187 355.1,187.1 353,187.7 350.9,188.6Z" fill="#fff" stroke="#111" stroke-width="1.6" />
<ellipse cx="351" cy="206" rx="11.4" ry="19" transform="rotate(27 351 206)" fill="#333" stroke="#111" stroke-width="1.8" />
<clipPath id="cl5"><ellipse cx="351" cy="206" rx="11.4" ry="19" transform="rotate(27 351 206)" /></clipPath>
<g clip-path="url(#cl5)">
<path d="M361.2,211.2 349.2,206.2M357.1,217.3 345.1,212.3M352.1,221.7 340.1,216.7M346.9,223.7 334.9,218.7M342.4,223 330.4,218M339.1,219.7 327.1,214.7M337.7,214.3 325.7,209.3M338.3,207.7 326.3,202.7M340.8,200.8 328.8,195.8M344.9,194.7 332.9,189.7M349.9,190.3 337.9,185.3M355.1,188.3 343.1,183.3M359.6,189 347.6,184M362.9,192.3 350.9,187.3M364.3,197.7 352.3,192.7M363.7,204.3 351.7,199.3" fill="none" stroke="#bbb" stroke-width="0.8" />
<ellipse cx="339" cy="201" rx="11.4" ry="19" transform="rotate(27 339 201)" fill="#fff" stroke="#222" stroke-width="1" />
</g>
<line x1="351" y1="206" x2="391.5" y2="228.8" stroke="#fff" stroke-width="1.8" opacity="0.6"/>
<line x1="351" y1="206" x2="391.5" y2="228.8" stroke="#a0a0a0" stroke-width="0.75" />
<ellipse cx="390" cy="227.8" rx="12.6" ry="20" transform="rotate(27 390 227.8)" fill="#fff" stroke="none" stroke-width="0" />
<ellipse cx="391.5" cy="228.8" rx="12.6" ry="20" transform="rotate(27 391.5 228.8)" fill="#fff" stroke="none" stroke-width="0" />
<ellipse cx="388.5" cy="226.8" rx="12.6" ry="20" transform="rotate(27 388.5 226.8)" fill="none" stroke="#111" stroke-width="2.6" />
<ellipse cx="391.5" cy="228.8" rx="12.6" ry="20" transform="rotate(27 391.5 228.8)" fill="none" stroke="#111" stroke-width="2.6" />
<ellipse cx="391.5" cy="228.8" rx="10.9" ry="17.2" transform="rotate(27 391.5 228.8)" fill="none" stroke="#111" stroke-width="1.8199999999999998" />
<line x1="391.5" y1="228.8" x2="418" y2="243.5" stroke="#fff" stroke-width="1.8" opacity="0.6"/>
<line x1="391.5" y1="228.8" x2="418" y2="243.5" stroke="#a0a0a0" stroke-width="0.75" />
<ellipse cx="417" cy="243" rx="13.8" ry="21.9" transform="rotate(27 417 243)" fill="#fff" stroke="none" stroke-width="0" />
<ellipse cx="418" cy="243.5" rx="13.8" ry="21.9" transform="rotate(27 418 243.5)" fill="#fff" stroke="none" stroke-width="0" />
<ellipse cx="416" cy="242.5" rx="13.8" ry="21.9" transform="rotate(27 416 242.5)" fill="none" stroke="#111" stroke-width="2.0" />
<ellipse cx="418" cy="243.5" rx="13.8" ry="21.9" transform="rotate(27 418 243.5)" fill="none" stroke="#111" stroke-width="2.0" />
<ellipse cx="418" cy="243.5" rx="11.6" ry="18.4" transform="rotate(27 418 243.5)" fill="none" stroke="#111" stroke-width="1.4" />
<path d="M427.3,248.2 427.6,250 426.9,251.3 425.3,251.6 424.5,252.6 424.3,254.6 423.4,255.6 422,255.3 421.1,256 420.4,258.2 419.4,258.8 418.3,257.8 417.4,258.3 416.3,260.2 415.2,260.5 414.6,259 413.7,259 412.3,260.7 411.3,260.5 411.2,258.6 410.4,258.3 408.8,259.4 408.1,258.9 408.5,256.8 407.9,256.1 406.3,256.6 405.9,255.7 406.7,253.6 406.4,252.7 404.9,252.5 404.8,251.4 406,249.5 406,248.4 404.8,247.6 405,246.3 406.5,244.8 406.8,243.6 406,242.2 406.5,240.9 408.1,239.9 408.7,238.8 408.3,237 409.1,235.7 410.7,235.4 411.5,234.4 411.6,232.4 412.6,231.4 414,231.7 414.9,231 415.6,228.8 416.6,228.2 417.7,229.2 418.6,228.7 419.7,226.8 420.7,226.5 421.4,228 422.3,228 423.7,226.3 424.6,226.5 424.8,228.4 425.5,228.7 427.1,227.6 427.9,228.1 427.5,230.2 428,230.9 429.7,230.4 430.1,231.3 429.3,233.4 429.6,234.3 431,234.5 431.2,235.6 430,237.5 430,238.6 431.2,239.4 431,240.7 429.5,242.2 429.2,243.4 430,244.8 429.5,246.1 427.9,247.1Z" fill="none" stroke="#111" stroke-width="0.9" />
<line x1="418" y1="243.5" x2="452.4" y2="262.1" stroke="#fff" stroke-width="1.8" opacity="0.6"/>
<line x1="418" y1="243.5" x2="452.4" y2="262.1" stroke="#a0a0a0" stroke-width="0.75" />
<path d="M425.8,260.8 425.8,259.6 425.9,258.3 426.1,257 426.4,255.7 426.8,254.4 427.1,253.1 427.6,251.9 428.1,250.7 428.7,249.5 429.4,248.3 430.1,247.2 430.8,246.2 431.6,245.1 432.5,244.2 433.4,243.3 434.3,242.5 435.2,241.7 436.2,241 437.2,240.4 438.2,239.9 439.2,239.5 440.2,239.1 441.2,238.9 442.2,238.7 443.2,238.6 444.2,238.6 445.2,238.7 446.2,238.9 447.1,239.2 448,239.5 460,244.5 460.8,245 461.6,245.5 462.4,246.1 463.1,246.8 463.8,247.6 464.4,248.4 464.9,249.3 465.4,250.2 465.9,251.3 466.2,252.3 466.5,253.4 466.8,254.6 466.9,255.8 467,257 467,258.3 466.9,259.6 466.8,260.8 466.6,262.1 466.3,263.4 466,264.7 465.6,266 465.1,267.2 464.6,268.4 464,269.6 463.4,270.8 462.7,271.9 461.9,272.9 461.1,274 460.3,274.9 459.4,275.8 458.5,276.6 457.5,277.4 456.6,278.1 455.6,278.7 454.6,279.2 453.6,279.6 452.6,280 451.5,280.2 450.5,280.4 449.5,280.5 448.5,280.5 447.5,280.4 446.6,280.2 445.7,279.9 444.8,279.6 432.8,274.6 431.9,274.1 431.1,273.6 430.3,273 429.6,272.3 429,271.6 428.4,270.7 427.8,269.8 427.3,268.9 426.9,267.8 426.5,266.8 426.2,265.6 426,264.5 425.9,263.3 425.8,262.1Z" fill="#3a3a3a" stroke="#111" stroke-width="2.4" />
<clipPath id="cl6"><path d="M425.8,260.8 425.8,259.6 425.9,258.3 426.1,257 426.4,255.7 426.8,254.4 427.1,253.1 427.6,251.9 428.1,250.7 428.7,249.5 429.4,248.3 430.1,247.2 430.8,246.2 431.6,245.1 432.5,244.2 433.4,243.3 434.3,242.5 435.2,241.7 436.2,241 437.2,240.4 438.2,239.9 439.2,239.5 440.2,239.1 441.2,238.9 442.2,238.7 443.2,238.6 444.2,238.6 445.2,238.7 446.2,238.9 447.1,239.2 448,239.5 460,244.5 460.8,245 461.6,245.5 462.4,246.1 463.1,246.8 463.8,247.6 464.4,248.4 464.9,249.3 465.4,250.2 465.9,251.3 466.2,252.3 466.5,253.4 466.8,254.6 466.9,255.8 467,257 467,258.3 466.9,259.6 466.8,260.8 466.6,262.1 466.3,263.4 466,264.7 465.6,266 465.1,267.2 464.6,268.4 464,269.6 463.4,270.8 462.7,271.9 461.9,272.9 461.1,274 460.3,274.9 459.4,275.8 458.5,276.6 457.5,277.4 456.6,278.1 455.6,278.7 454.6,279.2 453.6,279.6 452.6,280 451.5,280.2 450.5,280.4 449.5,280.5 448.5,280.5 447.5,280.4 446.6,280.2 445.7,279.9 444.8,279.6 432.8,274.6 431.9,274.1 431.1,273.6 430.3,273 429.6,272.3 429,271.6 428.4,270.7 427.8,269.8 427.3,268.9 426.9,267.8 426.5,266.8 426.2,265.6 426,264.5 425.9,263.3 425.8,262.1Z"/></clipPath>
<g clip-path="url(#cl6)">
<path d="M465,267.2 453,262.2M463.1,270.9 451.1,265.9M460.7,274.3 448.7,269.3M457.8,277 445.8,272M454.7,278.9 442.7,273.9M451.5,280.1 439.5,275.1M448.3,280.3 436.3,275.3M445.3,279.6 433.3,274.6M442.7,278 430.7,273M440.5,275.6 428.5,270.6M439,272.6 427,267.6M438.1,269 426.1,264M437.9,265.1 425.9,260.1M438.5,261 426.5,256M439.7,256.9 427.7,251.9M441.6,253.2 429.6,248.2M444.1,249.8 432.1,244.8M446.9,247.1 434.9,242.1M450,245.2 438,240.2M453.3,244 441.3,239M456.5,243.8 444.5,238.8M459.5,244.5 447.5,239.5M462.1,246.1 450.1,241.1M464.2,248.5 452.2,243.5M465.8,251.5 453.8,246.5M466.7,255.1 454.7,250.1M466.8,259 454.8,254M466.3,263.1 454.3,258.1" fill="none" stroke="#c4c4c4" stroke-width="0.9" />
</g>
<ellipse cx="452.4" cy="262.1" rx="13.8" ry="19.1" transform="rotate(22 452.4 262.1)" fill="none" stroke="#111" stroke-width="2.2" />
<ellipse cx="452.4" cy="262.1" rx="11.6" ry="16" transform="rotate(22 452.4 262.1)" fill="#333" stroke="#111" stroke-width="2.0" />
<clipPath id="cl7"><ellipse cx="452.4" cy="262.1" rx="11.6" ry="16" transform="rotate(22 452.4 262.1)" /></clipPath>
<g clip-path="url(#cl7)">
<path d="M463.1,266.4 451.1,261.4M460,271.7 448,266.7M455.7,275.6 443.7,270.6M450.9,277.5 438.9,272.5M446.4,276.9 434.4,271.9M442.7,274.1 430.7,269.1M440.5,269.5 428.5,264.5M440.2,263.7 428.2,258.7M441.7,257.7 429.7,252.7M444.8,252.4 432.8,247.4M449,248.5 437,243.5M453.8,246.6 441.8,241.6M458.4,247.2 446.4,242.2M462,250 450,245M464.2,254.6 452.2,249.6M464.6,260.4 452.6,255.4" fill="none" stroke="#b0b0b0" stroke-width="0.8" />
<ellipse cx="436.2" cy="255.3" rx="11.6" ry="16" transform="rotate(22 436.2 255.3)" fill="#fff" stroke="#111" stroke-width="1.2" />
</g>
<line x1="452.4" y1="262.1" x2="503.5" y2="290.5" stroke="#fff" stroke-width="1.8" opacity="0.6"/>
<line x1="452.4" y1="262.1" x2="503.5" y2="290.5" stroke="#a0a0a0" stroke-width="0.75" />
<defs><path id="g8" d="M530.2,301.8 531,302.8 532.6,304.1 533.2,305.2 533.1,306.2 532.1,308.3 531.4,308.9 530.2,309 528.3,308.3 527.1,308.3 526.2,309.9 526.8,311.1 528,312.9 528.4,314.3 528.2,315.3 526.9,317.1 526.2,317.6 525.1,317.4 523.5,316.2 522.3,315.8 521.3,317.2 521.7,318.6 522.5,320.9 522.7,322.4 522.3,323.4 520.9,325 520.1,325.3 519.2,324.7 517.9,323 516.9,322.3 515.7,323.4 515.8,325 516.3,327.7 516.2,329.3 515.7,330.2 514.2,331.5 513.4,331.7 512.7,330.8 511.7,328.6 510.9,327.6 509.7,328.4 509.5,330.2 509.5,333 509.2,334.7 508.6,335.5 507,336.5 506.4,336.4 505.8,335.3 505.2,332.7 504.7,331.4 503.4,332 503,333.7 502.6,336.8 502,338.4 501.4,339.1 499.8,339.7 499.2,339.4 498.8,338 498.7,335.2 498.4,333.7 497.1,334 496.5,335.7 495.6,338.7 494.9,340.3 494.2,340.9 492.6,341 492.1,340.5 492,339 492.4,336 492.3,334.3 491.1,334.2 490.3,335.9 489,338.8 488.1,340.3 487.4,340.6 485.9,340.3 485.5,339.7 485.7,338.1 486.4,335 486.6,333.3 485.6,332.8 484.6,334.3 483,337 481.9,338.3 481.2,338.5 479.9,337.8 479.6,337 480,335.3 481.2,332.4 481.6,330.5 480.7,329.8 479.6,331.1 477.7,333.5 476.5,334.5 475.8,334.5 474.8,333.4 474.7,332.5 475.2,330.9 476.8,328.1 477.4,326.3 476.7,325.3 475.5,326.3 473.4,328.3 472.2,329 471.6,328.8 470.8,327.4 470.8,326.4 471.6,324.9 473.4,322.3 474.3,320.7 473.8,319.4 472.5,320.1 470.3,321.6 469.1,322.1 468.5,321.7 468,319.9 468.2,318.9 469.1,317.5 471.2,315.4 472.2,313.9 472,312.4 470.7,312.8 468.5,313.8 467.3,313.9 466.8,313.3 466.6,311.4 466.9,310.4 468,309.1 470.2,307.5 471.4,306.2 471.4,304.6 470.2,304.6 468,305 466.9,304.8 466.5,304.1 466.7,302 467.1,301 468.3,300 470.5,298.9 471.8,297.9 472,296.2 470.9,295.9 468.8,295.7 467.9,295.2 467.7,294.4 468.1,292.2 468.6,291.3 469.9,290.6 472.1,290 473.4,289.4 473.9,287.7 472.9,287 471,286.2 470.2,285.4 470.2,284.5 470.9,282.3 471.5,281.5 472.8,281.1 474.9,281.2 476.2,280.8 476.9,279.2 476.1,278.2 474.5,276.9 473.9,275.8 474,274.8 475,272.7 475.7,272.1 476.8,272 478.8,272.7 480,272.7 480.9,271.1 480.3,269.9 479.1,268.1 478.7,266.7 478.9,265.7 480.1,263.9 480.9,263.4 481.9,263.6 483.6,264.8 484.7,265.2 485.8,263.8 485.4,262.4 484.6,260.1 484.4,258.6 484.8,257.6 486.2,256 486.9,255.7 487.9,256.3 489.2,258 490.2,258.7 491.3,257.6 491.2,256 490.8,253.3 490.9,251.7 491.4,250.8 492.9,249.5 493.6,249.3 494.4,250.2 495.4,252.4 496.2,253.4 497.4,252.6 497.5,250.8 497.6,248 497.9,246.3 498.5,245.5 500,244.5 500.7,244.6 501.3,245.7 501.8,248.3 502.4,249.6 503.7,249 504.1,247.3 504.5,244.2 505.1,242.6 505.7,241.9 507.3,241.3 507.9,241.6 508.3,243 508.4,245.8 508.7,247.3 509.9,247 510.6,245.3 511.4,242.3 512.2,240.7 512.9,240.1 514.4,240 515,240.5 515.1,242 514.7,245 514.8,246.7 516,246.8 516.8,245.1 518.1,242.2 519,240.7 519.7,240.4 521.1,240.7 521.5,241.3 521.4,242.9 520.6,246 520.5,247.7 521.5,248.2 522.5,246.7 524.1,244 525.2,242.7 525.9,242.5 527.2,243.2 527.4,244 527.1,245.7 525.9,248.6 525.5,250.5 526.4,251.2 527.5,249.9 529.4,247.5 530.5,246.5 531.2,246.5 532.3,247.6 532.4,248.5 531.8,250.1 530.3,252.9 529.6,254.7 530.4,255.7 531.6,254.7 533.7,252.7 534.9,252 535.5,252.2 536.3,253.6 536.3,254.6 535.5,256.1 533.7,258.7 532.8,260.3 533.3,261.6 534.6,260.9 536.8,259.4 538,258.9 538.6,259.3 539,261.1 538.9,262.1 537.9,263.5 535.9,265.6 534.8,267.1 535.1,268.6 536.4,268.2 538.6,267.2 539.8,267.1 540.3,267.7 540.4,269.6 540.1,270.6 539.1,271.9 536.9,273.5 535.7,274.8 535.7,276.4 536.9,276.4 539.1,276 540.2,276.2 540.5,276.9 540.4,279 540,280 538.8,281 536.6,282.1 535.3,283.1 535.1,284.8 536.2,285.1 538.2,285.3 539.2,285.8 539.4,286.6 539,288.8 538.4,289.7 537.2,290.4 535,291 533.7,291.6 533.2,293.3 534.2,294 536,294.8 536.9,295.6 536.9,296.5 536.2,298.7 535.5,299.5 534.3,299.9 532.2,299.8 530.9,300.2Z"/></defs>
<use href="#g8" x="-14.9" y="-6" fill="#fff" stroke="#111" stroke-width="2.0"/>
<use href="#g8" x="-13.4" y="-5.4" fill="#fff"/>
<use href="#g8" x="-11.9" y="-4.8" fill="#fff"/>
<use href="#g8" x="-10.4" y="-4.2" fill="#fff"/>
<use href="#g8" x="-8.9" y="-3.6" fill="#fff"/>
<use href="#g8" x="-7.4" y="-3" fill="#fff"/>
<use href="#g8" x="-6" y="-2.4" fill="#fff"/>
<use href="#g8" x="-4.5" y="-1.8" fill="#fff"/>
<use href="#g8" x="-3" y="-1.2" fill="#fff"/>
<use href="#g8" x="-1.5" y="-0.6" fill="#fff"/>
<path d="M530.7,246 532.8,248.2 517.9,242.2 515.8,240ZM495,340.8 491.9,341 477,335 480.1,334.8ZM525.3,242.2 527.8,243.6 512.9,237.6 510.4,236.2ZM488.1,340.8 485.2,340.1 470.4,334.1 473.2,334.8ZM519,240.2 521.8,240.9 507,234.9 504.1,234.2ZM481.8,338.8 479.3,337.4 464.4,331.4 466.9,332.8ZM512.1,240.2 515.2,240 500.3,234 497.2,234.2ZM476.4,335 474.3,332.8 459.4,326.8 461.5,329ZM504.9,242.2 508.1,241.1 493.2,235.1 490,236.2ZM472,329.5 470.4,326.6 455.5,320.6 457.1,323.5ZM497.7,246 500.8,244.1 486,238.1 482.8,240ZM468.8,322.5 467.8,319 452.9,313 453.9,316.5ZM466.9,314.3 466.6,310.4 451.7,304.4 452.1,308.3ZM490.6,251.5 493.7,248.8 478.8,242.8 475.8,245.5ZM466.5,305.2 466.8,300.9 451.9,294.9 451.6,299.2ZM484.1,258.5 486.9,255.2 472,249.2 469.2,252.5ZM467.5,295.4 468.4,291.1 453.5,285.1 452.6,289.4ZM478.3,266.7 480.8,262.9 465.9,256.9 463.4,260.7ZM469.9,285.5 471.3,281.2 456.4,275.2 455,279.5ZM473.5,275.8 475.5,271.7 460.6,265.7 458.6,269.8Z" fill="#fff" stroke="#111" stroke-width="1.5" />
<use href="#g8" fill="#fff" stroke="#111" stroke-width="2.0"/>
<ellipse cx="503.5" cy="290.5" rx="28.4" ry="45" transform="rotate(23 503.5 290.5)" fill="none" stroke="#333" stroke-width="1.2" />
<ellipse cx="512.9" cy="258.8" rx="3.2" ry="6.4" transform="rotate(38 512.9 258.8)" fill="#333" stroke="#111" stroke-width="2.2" />
<clipPath id="cl9"><ellipse cx="512.9" cy="258.8" rx="3.2" ry="6.4" transform="rotate(38 512.9 258.8)" /></clipPath>
<g clip-path="url(#cl9)">
<ellipse cx="514.9" cy="259.8" rx="3" ry="6" transform="rotate(38 514.9 259.8)" fill="#fff" stroke="#111" stroke-width="1.0" />
</g>
<ellipse cx="525.1" cy="292.4" rx="3.2" ry="6.4" transform="rotate(38 525.1 292.4)" fill="#333" stroke="#111" stroke-width="2.2" />
<clipPath id="cl10"><ellipse cx="525.1" cy="292.4" rx="3.2" ry="6.4" transform="rotate(38 525.1 292.4)" /></clipPath>
<g clip-path="url(#cl10)">
<ellipse cx="527.1" cy="293.4" rx="3" ry="6" transform="rotate(38 527.1 293.4)" fill="#fff" stroke="#111" stroke-width="1.0" />
</g>
<ellipse cx="495.1" cy="322.3" rx="3.2" ry="6.4" transform="rotate(38 495.1 322.3)" fill="#333" stroke="#111" stroke-width="2.2" />
<clipPath id="cl11"><ellipse cx="495.1" cy="322.3" rx="3.2" ry="6.4" transform="rotate(38 495.1 322.3)" /></clipPath>
<g clip-path="url(#cl11)">
<ellipse cx="497.1" cy="323.3" rx="3" ry="6" transform="rotate(38 497.1 323.3)" fill="#fff" stroke="#111" stroke-width="1.0" />
</g>
<ellipse cx="481.6" cy="289.9" rx="3.2" ry="6.4" transform="rotate(38 481.6 289.9)" fill="#333" stroke="#111" stroke-width="2.2" />
<clipPath id="cl12"><ellipse cx="481.6" cy="289.9" rx="3.2" ry="6.4" transform="rotate(38 481.6 289.9)" /></clipPath>
<g clip-path="url(#cl12)">
<ellipse cx="483.6" cy="290.9" rx="3" ry="6" transform="rotate(38 483.6 290.9)" fill="#fff" stroke="#111" stroke-width="1.0" />
</g>
<ellipse cx="518.2" cy="275.9" rx="2.3" ry="4.2" transform="rotate(33 518.2 275.9)" fill="#2a2a2a" stroke="#111" stroke-width="1.2" />
<ellipse cx="510.2" cy="306.2" rx="2.3" ry="4.2" transform="rotate(33 510.2 306.2)" fill="#2a2a2a" stroke="#111" stroke-width="1.2" />
<ellipse cx="489.2" cy="305.8" rx="2.3" ry="4.2" transform="rotate(33 489.2 305.8)" fill="#2a2a2a" stroke="#111" stroke-width="1.2" />
<ellipse cx="496.3" cy="275.4" rx="2.3" ry="4.2" transform="rotate(33 496.3 275.4)" fill="#2a2a2a" stroke="#111" stroke-width="1.2" />
<ellipse cx="503.5" cy="290.5" rx="12.7" ry="20.1" transform="rotate(23 503.5 290.5)" fill="#fff" stroke="#111" stroke-width="2.6" />
<ellipse cx="500.5" cy="289.5" rx="10.4" ry="16.4" transform="rotate(23 500.5 289.5)" fill="none" stroke="#111" stroke-width="1.3" />
<line x1="503.5" y1="290.5" x2="552.9" y2="321.1" stroke="#fff" stroke-width="1.8" opacity="0.6"/>
<line x1="503.5" y1="290.5" x2="552.9" y2="321.1" stroke="#a0a0a0" stroke-width="0.75" />
<path d="M526.4,319.8 526.5,318.6 526.6,317.3 526.8,316 527,314.8 527.4,313.5 527.8,312.2 528.2,311 528.8,309.8 529.4,308.6 530,307.4 530.7,306.3 531.4,305.3 532.2,304.3 533,303.3 533.9,302.4 534.8,301.6 535.8,300.9 536.7,300.2 537.7,299.6 538.7,299.1 539.7,298.7 540.7,298.3 541.7,298.1 542.7,297.9 543.7,297.8 544.7,297.8 545.7,297.9 546.6,298.1 547.5,298.4 548.4,298.7 560.4,303.7 561.3,304.2 562.1,304.7 562.8,305.3 563.5,306 564.2,306.7 564.8,307.6 565.4,308.4 565.9,309.4 566.3,310.4 566.6,311.5 566.9,312.6 567.1,313.7 567.3,314.9 567.4,316.1 567.4,317.4 567.3,318.6 567.2,319.9 567,321.2 566.7,322.4 566.4,323.7 566,325 565.5,326.2 565,327.4 564.4,328.6 563.8,329.8 563.1,330.9 562.4,331.9 561.6,332.9 560.7,333.9 559.9,334.8 559,335.6 558,336.3 557.1,337 556.1,337.6 555.1,338.1 554.1,338.5 553.1,338.9 552.1,339.1 551,339.3 550,339.4 549.1,339.4 548.1,339.3 547.1,339.1 546.2,338.8 545.4,338.5 533.4,333.5 532.5,333 531.7,332.5 530.9,331.9 530.2,331.2 529.6,330.5 529,329.6 528.4,328.8 527.9,327.8 527.5,326.8 527.1,325.7 526.9,324.6 526.6,323.5 526.5,322.3 526.4,321.1Z" fill="#3a3a3a" stroke="#111" stroke-width="2.4" />
<clipPath id="cl13"><path d="M526.4,319.8 526.5,318.6 526.6,317.3 526.8,316 527,314.8 527.4,313.5 527.8,312.2 528.2,311 528.8,309.8 529.4,308.6 530,307.4 530.7,306.3 531.4,305.3 532.2,304.3 533,303.3 533.9,302.4 534.8,301.6 535.8,300.9 536.7,300.2 537.7,299.6 538.7,299.1 539.7,298.7 540.7,298.3 541.7,298.1 542.7,297.9 543.7,297.8 544.7,297.8 545.7,297.9 546.6,298.1 547.5,298.4 548.4,298.7 560.4,303.7 561.3,304.2 562.1,304.7 562.8,305.3 563.5,306 564.2,306.7 564.8,307.6 565.4,308.4 565.9,309.4 566.3,310.4 566.6,311.5 566.9,312.6 567.1,313.7 567.3,314.9 567.4,316.1 567.4,317.4 567.3,318.6 567.2,319.9 567,321.2 566.7,322.4 566.4,323.7 566,325 565.5,326.2 565,327.4 564.4,328.6 563.8,329.8 563.1,330.9 562.4,331.9 561.6,332.9 560.7,333.9 559.9,334.8 559,335.6 558,336.3 557.1,337 556.1,337.6 555.1,338.1 554.1,338.5 553.1,338.9 552.1,339.1 551,339.3 550,339.4 549.1,339.4 548.1,339.3 547.1,339.1 546.2,338.8 545.4,338.5 533.4,333.5 532.5,333 531.7,332.5 530.9,331.9 530.2,331.2 529.6,330.5 529,329.6 528.4,328.8 527.9,327.8 527.5,326.8 527.1,325.7 526.9,324.6 526.6,323.5 526.5,322.3 526.4,321.1Z"/></clipPath>
<g clip-path="url(#cl13)">
<path d="M565.4,326.2 553.4,321.2M563.5,329.9 551.5,324.9M561.1,333.2 549.1,328.2M558.3,335.9 546.3,330.9M555.2,337.9 543.2,332.9M552,339 540,334M548.8,339.2 536.8,334.2M545.9,338.5 533.9,333.5M543.3,336.9 531.3,331.9M541.1,334.6 529.1,329.6M539.6,331.5 527.6,326.5M538.7,328 526.7,323M538.6,324.1 526.6,319.1M539.1,320 527.1,315M540.4,316 528.4,311M542.2,312.3 530.2,307.3M544.7,309 532.7,304M547.5,306.3 535.5,301.3M550.6,304.3 538.6,299.3M553.8,303.2 541.8,298.2M557,303 545,298M559.9,303.7 547.9,298.7M562.5,305.3 550.5,300.3M564.7,307.6 552.7,302.6M566.2,310.7 554.2,305.7M567.1,314.2 555.1,309.2M567.2,318.1 555.2,313.1M566.7,322.2 554.7,317.2" fill="none" stroke="#c4c4c4" stroke-width="0.9" />
</g>
<ellipse cx="552.9" cy="321.1" rx="13.6" ry="19" transform="rotate(22 552.9 321.1)" fill="none" stroke="#111" stroke-width="2.2" />
<ellipse cx="552.9" cy="321.1" rx="11.5" ry="15.9" transform="rotate(22 552.9 321.1)" fill="#333" stroke="#111" stroke-width="2.0" />
<clipPath id="cl14"><ellipse cx="552.9" cy="321.1" rx="11.5" ry="15.9" transform="rotate(22 552.9 321.1)" /></clipPath>
<g clip-path="url(#cl14)">
<path d="M563.5,325.4 551.5,320.4M560.4,330.7 548.4,325.7M556.2,334.6 544.2,329.6M551.4,336.4 539.4,331.4M546.9,335.9 534.9,330.9M543.3,333.1 531.3,328.1M541.2,328.5 529.2,323.5M540.8,322.8 528.8,317.8M542.3,316.8 530.3,311.8M545.4,311.5 533.4,306.5M549.6,307.6 537.6,302.6M554.3,305.8 542.3,300.8M558.9,306.3 546.9,301.3M562.5,309.1 550.5,304.1M564.6,313.7 552.6,308.7M565,319.4 553,314.4" fill="none" stroke="#b0b0b0" stroke-width="0.8" />
<ellipse cx="536.7" cy="314.4" rx="11.5" ry="15.9" transform="rotate(22 536.7 314.4)" fill="#fff" stroke="#111" stroke-width="1.2" />
</g>
<line x1="552.9" y1="321.1" x2="610.2" y2="350.5" stroke="#fff" stroke-width="1.8" opacity="0.6"/>
<line x1="552.9" y1="321.1" x2="610.2" y2="350.5" stroke="#a0a0a0" stroke-width="0.75" />
<defs><path id="g15" d="M638.1,362.3 638.9,363.3 640.4,364.6 641.1,365.7 641,366.7 640,368.7 639.3,369.3 638.2,369.4 636.2,368.7 635,368.7 634.1,370.3 634.7,371.5 636,373.3 636.4,374.6 636.2,375.6 635,377.4 634.3,377.9 633.2,377.7 631.5,376.5 630.4,376.1 629.4,377.5 629.8,378.9 630.7,381.2 630.9,382.6 630.5,383.6 629.2,385.2 628.5,385.6 627.5,385 626.1,383.4 625.1,382.7 624,383.9 624.1,385.4 624.6,388 624.6,389.6 624.2,390.5 622.7,391.9 622,392 621.2,391.2 620.2,389.1 619.3,388.1 618.1,389.1 618,390.8 618.1,393.6 617.9,395.3 617.3,396.1 615.8,397.1 615.1,397.1 614.5,396 613.8,393.5 613.2,392.3 612,393 611.7,394.7 611.3,397.7 610.9,399.4 610.3,400.1 608.7,400.8 608.1,400.6 607.7,399.3 607.4,396.5 607,395 605.8,395.4 605.2,397.1 604.5,400.2 603.9,401.8 603.2,402.4 601.6,402.7 601.1,402.3 600.9,400.8 601.1,397.9 600.9,396.3 599.7,396.3 599,398 597.9,401 597,402.5 596.3,403 594.9,402.8 594.4,402.3 594.5,400.7 595,397.7 595.1,395.9 594,395.7 593.1,397.2 591.7,400.1 590.7,401.5 590,401.7 588.6,401.2 588.3,400.5 588.6,398.9 589.5,395.8 589.9,394.1 588.9,393.5 587.8,394.9 586.1,397.5 585,398.6 584.3,398.7 583.1,397.9 582.9,397.1 583.4,395.4 584.7,392.5 585.3,390.7 584.5,389.8 583.3,391 581.3,393.3 580.1,394.2 579.5,394.1 578.6,392.9 578.5,392 579.1,390.4 580.8,387.7 581.5,386 580.9,384.9 579.7,385.8 577.5,387.6 576.3,388.3 575.7,388 575,386.5 575.1,385.5 576,384 577.8,381.6 578.8,380 578.4,378.7 577.1,379.3 574.9,380.7 573.6,381.1 573.1,380.6 572.7,378.8 572.9,377.9 573.9,376.5 576,374.5 577.1,373.1 576.9,371.6 575.6,371.9 573.4,372.7 572.2,372.8 571.8,372.2 571.7,370.2 572,369.3 573.1,368.1 575.3,366.6 576.5,365.4 576.6,363.7 575.4,363.7 573.2,364 572.1,363.8 571.8,363 572,361 572.4,360 573.6,359.1 575.8,358.1 577.1,357.1 577.4,355.5 576.3,355.1 574.2,354.8 573.3,354.3 573.1,353.5 573.5,351.3 574.1,350.5 575.3,349.8 577.5,349.3 578.8,348.7 579.3,347 578.3,346.3 576.5,345.5 575.7,344.7 575.6,343.8 576.4,341.7 577,340.9 578.2,340.5 580.3,340.6 581.6,340.3 582.3,338.7 581.5,337.7 579.9,336.4 579.3,335.3 579.4,334.3 580.3,332.3 581,331.7 582.2,331.6 584.1,332.3 585.4,332.3 586.2,330.7 585.6,329.5 584.3,327.7 583.9,326.4 584.2,325.4 585.3,323.6 586,323.1 587.1,323.3 588.8,324.5 589.9,324.9 591,323.5 590.6,322.1 589.7,319.8 589.5,318.4 589.8,317.4 591.2,315.8 591.9,315.4 592.9,316 594.2,317.6 595.2,318.3 596.4,317.1 596.2,315.6 595.7,313 595.7,311.4 596.2,310.5 597.6,309.1 598.4,309 599.2,309.8 600.2,311.9 601,312.9 602.2,311.9 602.3,310.2 602.2,307.4 602.5,305.7 603,304.9 604.6,303.9 605.2,303.9 605.9,305 606.5,307.5 607.1,308.7 608.4,308 608.7,306.3 609,303.3 609.5,301.6 610.1,300.9 611.7,300.2 612.3,300.4 612.7,301.7 612.9,304.5 613.3,306 614.6,305.6 615.1,303.9 615.8,300.8 616.5,299.2 617.2,298.6 618.7,298.3 619.2,298.7 619.4,300.2 619.3,303.1 619.4,304.7 620.6,304.7 621.4,303 622.5,300 623.3,298.5 624,298 625.5,298.2 625.9,298.7 625.9,300.3 625.3,303.3 625.2,305.1 626.3,305.3 627.2,303.8 628.7,300.9 629.7,299.5 630.4,299.3 631.7,299.8 632,300.5 631.8,302.1 630.8,305.2 630.5,306.9 631.5,307.5 632.5,306.1 634.3,303.5 635.4,302.4 636.1,302.3 637.2,303.1 637.4,303.9 636.9,305.6 635.6,308.5 635.1,310.3 635.9,311.2 637.1,310 639,307.7 640.2,306.8 640.9,306.9 641.8,308.1 641.9,309 641.2,310.6 639.6,313.3 638.8,315 639.4,316.1 640.7,315.2 642.8,313.4 644,312.7 644.6,313 645.3,314.5 645.2,315.5 644.4,317 642.5,319.4 641.6,321 642,322.3 643.3,321.7 645.5,320.3 646.7,319.9 647.2,320.4 647.6,322.2 647.4,323.1 646.4,324.5 644.3,326.5 643.2,327.9 643.4,329.4 644.7,329.1 646.9,328.3 648.1,328.2 648.5,328.8 648.6,330.8 648.3,331.7 647.2,332.9 645,334.4 643.8,335.6 643.8,337.3 645,337.3 647.2,337 648.3,337.2 648.5,338 648.4,340 647.9,341 646.8,341.9 644.5,342.9 643.2,343.9 643,345.5 644.1,345.9 646.1,346.2 647.1,346.7 647.3,347.5 646.8,349.7 646.3,350.5 645,351.2 642.8,351.7 641.5,352.3 641,354 642,354.7 643.9,355.5 644.7,356.3 644.7,357.2 644,359.3 643.4,360.1 642.1,360.5 640,360.4 638.7,360.7Z"/></defs>
<use href="#g15" x="-18.6" y="-7" fill="#fff" stroke="#111" stroke-width="2.0"/>
<use href="#g15" x="-16.8" y="-6.3" fill="#fff"/>
<use href="#g15" x="-14.9" y="-5.6" fill="#fff"/>
<use href="#g15" x="-13.1" y="-4.9" fill="#fff"/>
<use href="#g15" x="-11.2" y="-4.2" fill="#fff"/>
<use href="#g15" x="-9.3" y="-3.5" fill="#fff"/>
<use href="#g15" x="-7.5" y="-2.8" fill="#fff"/>
<use href="#g15" x="-5.6" y="-2.1" fill="#fff"/>
<use href="#g15" x="-3.7" y="-1.4" fill="#fff"/>
<use href="#g15" x="-1.9" y="-0.7" fill="#fff"/>
<path d="M640.4,306.3 642.2,308.7 623.6,301.7 621.7,299.3ZM603.9,402.2 600.9,402.8 582.2,395.8 585.3,395.2ZM635.5,301.8 637.8,303.6 619.1,296.6 616.8,294.8ZM597.1,403 594.2,402.8 575.5,395.8 578.4,396ZM629.7,299 632.3,300.1 613.7,293.1 611.1,292ZM590.6,402 588,400.9 569.4,393.9 572,395ZM623.3,298 626.2,298.2 607.5,291.2 604.6,291ZM584.9,399.2 582.6,397.4 563.9,390.4 566.2,392.2ZM616.4,298.8 619.5,298.2 600.8,291.2 597.8,291.8ZM580,394.7 578.1,392.3 559.5,385.3 561.3,387.7ZM609.3,301.3 612.4,299.9 593.8,292.9 590.7,294.3ZM576.1,388.7 574.7,385.7 556.1,378.7 557.4,381.7ZM602.2,305.4 605.3,303.4 586.7,296.4 583.6,298.4ZM573.4,381.5 572.6,377.9 553.9,370.9 554.7,374.5ZM595.4,311.2 598.4,308.5 579.7,301.5 576.8,304.2ZM571.9,373.2 571.7,369.2 553,362.2 553.3,366.2ZM589.2,318.2 591.9,315 573.2,308 570.5,311.2ZM571.7,364.1 572.1,359.9 553.4,352.9 553.1,357.1ZM583.6,326.4 585.9,322.7 567.3,315.7 564.9,319.4ZM572.9,354.5 573.8,350.3 555.2,343.3 554.2,347.5ZM578.9,335.4 580.8,331.3 562.2,324.3 560.3,328.4ZM575.3,344.8 576.8,340.6 558.1,333.6 556.7,337.8Z" fill="#fff" stroke="#111" stroke-width="1.5" />
<use href="#g15" fill="#fff" stroke="#111" stroke-width="2.0"/>
<ellipse cx="610.2" cy="350.5" rx="29.9" ry="47.4" transform="rotate(23 610.2 350.5)" fill="none" stroke="#222" stroke-width="1.2" />
<ellipse cx="610.2" cy="350.5" rx="28.8" ry="45.7" transform="rotate(23 610.2 350.5)" fill="none" stroke="#222" stroke-width="1.2" />
<path d="M622.2,379.1 C622.1,381.1 619.8,381.4 619,382 C618.3,382.7 616.5,384 615.7,384.6 C615,385.1 613.2,386.2 612.4,386.6 C611.6,387.1 609.8,387.9 609,388.2 C608.2,388.5 606.4,389.1 605.6,389.3 C604.9,389.5 603.1,389.7 602.3,389.8 C601.6,389.9 599.9,389.9 599.1,389.8 C598.4,389.7 596.8,389.4 596.1,389.3 C595.4,389.1 593.9,388.5 593.2,388.2 C592.6,387.9 589.7,388.4 590.6,386.6 C591.5,384.7 599.3,373.9 600.9,372.3 C602.5,370.7 603.5,373 604.4,373.1 C605.2,373.1 607.2,372.8 608.1,372.6 C609,372.3 611.1,371.4 612,370.9 C612.9,370.4 614.9,368.9 615.8,368.1 C616.6,367.4 618.5,363.1 619.2,364.4 C620,365.6 622.2,377 622.2,379.1Z" fill="#efefef" stroke="#111" stroke-width="1.9" />
<path d="M618.3,378.8 C618.3,380.5 616.3,380.7 615.7,381.2 C615.1,381.7 613.7,382.9 613,383.3 C612.4,383.7 610.9,384.7 610.3,385 C609.6,385.4 608.2,386 607.5,386.3 C606.9,386.5 605.4,387 604.8,387.2 C604.1,387.3 602.7,387.6 602,387.6 C601.4,387.7 600,387.6 599.4,387.6 C598.8,387.5 597.5,387.3 596.9,387.1 C596.4,387 595.1,386.5 594.6,386.3 C594.1,386 591.7,386.5 592.4,385 C593.2,383.4 599.6,374.5 600.9,373.2 C602.2,372 603,373.8 603.7,373.9 C604.4,373.9 606.1,373.7 606.8,373.5 C607.5,373.3 609.2,372.5 610,372.1 C610.7,371.7 612.4,370.4 613.1,369.8 C613.7,369.2 615.3,365.7 615.9,366.7 C616.5,367.8 618.3,377.1 618.3,378.8Z" fill="none" stroke="#444" stroke-width="0.9" />
<path d="M614.4,378.5 C614.4,379.8 612.9,380 612.4,380.4 C611.9,380.8 610.8,381.7 610.3,382 C609.8,382.4 608.7,383.1 608.2,383.4 C607.7,383.6 606.5,384.2 606,384.4 C605.5,384.6 604.4,384.9 603.9,385.1 C603.4,385.2 602.2,385.4 601.8,385.4 C601.3,385.4 600.2,385.4 599.7,385.4 C599.2,385.3 598.2,385.2 597.8,385 C597.3,384.9 596.3,384.5 595.9,384.4 C595.5,384.2 593.7,384.5 594.3,383.3 C594.8,382.1 599.8,375.2 600.8,374.2 C601.9,373.2 602.5,374.7 603,374.7 C603.6,374.7 604.9,374.5 605.5,374.4 C606,374.2 607.4,373.6 607.9,373.3 C608.5,373 609.8,372 610.3,371.5 C610.9,371 612.1,368.3 612.6,369.1 C613,369.9 614.5,377.2 614.4,378.5Z" fill="none" stroke="#444" stroke-width="0.9" />
<path d="M610.6,378.2 C610.6,379.2 609.5,379.3 609.1,379.6 C608.8,379.9 608,380.5 607.6,380.8 C607.3,381 606.5,381.5 606.1,381.7 C605.7,381.9 604.9,382.3 604.5,382.5 C604.2,382.6 603.3,382.9 603,382.9 C602.6,383 601.8,383.2 601.5,383.2 C601.1,383.2 600.3,383.2 600,383.2 C599.7,383.2 598.9,383 598.6,382.9 C598.3,382.8 597.6,382.6 597.3,382.4 C597,382.3 595.7,382.6 596.1,381.7 C596.5,380.8 600.1,375.9 600.8,375.1 C601.6,374.4 602,375.5 602.4,375.5 C602.8,375.5 603.7,375.4 604.1,375.3 C604.5,375.1 605.5,374.7 605.9,374.5 C606.3,374.3 607.3,373.6 607.6,373.2 C608,372.9 608.9,370.9 609.2,371.5 C609.6,372.1 610.6,377.3 610.6,378.2Z" fill="none" stroke="#444" stroke-width="0.9" />
<path d="M583.9,377.6 C582.3,378.3 582.9,374.9 582.7,374.1 C582.4,373.2 582,371.2 581.8,370.2 C581.7,369.3 581.4,367.1 581.4,366.1 C581.3,365.1 581.3,362.8 581.3,361.8 C581.3,360.8 581.5,358.4 581.6,357.3 C581.8,356.3 582.1,353.8 582.4,352.7 C582.6,351.7 583.2,349.2 583.5,348.1 C583.8,347.1 584.6,344.6 584.9,343.6 C585.3,342.5 586.3,340.1 586.8,339.1 C587.2,338.1 587.8,334.1 588.9,334.8 C590,335.4 595.8,342.9 596.4,344.7 C597.1,346.4 595,348.7 594.7,349.9 C594.3,351.1 593.8,353.9 593.7,355.1 C593.6,356.3 593.6,359 593.7,360.1 C593.8,361.2 594.3,363.7 594.6,364.6 C594.9,365.6 597.5,366.8 596.3,368.3 C595,369.8 585.5,376.9 583.9,377.6Z" fill="#efefef" stroke="#111" stroke-width="1.9" />
<path d="M583.3,373.3 C582,373.8 582.5,371.1 582.3,370.4 C582.1,369.7 581.8,368 581.6,367.3 C581.5,366.5 581.3,364.7 581.3,363.9 C581.2,363.1 581.2,361.2 581.2,360.3 C581.3,359.5 581.4,357.5 581.5,356.7 C581.6,355.8 581.9,353.8 582.1,352.9 C582.3,352 582.8,350 583,349.1 C583.2,348.2 583.9,346.2 584.2,345.4 C584.5,344.5 585.3,342.5 585.7,341.7 C586.1,340.9 586.5,337.6 587.4,338.2 C588.4,338.7 593.1,344.8 593.6,346.3 C594.2,347.7 592.4,349.6 592.2,350.6 C591.9,351.6 591.5,353.9 591.4,354.9 C591.3,355.8 591.3,358.1 591.4,359 C591.5,359.9 591.9,361.9 592.1,362.6 C592.4,363.4 594.5,364.4 593.5,365.7 C592.5,366.9 584.6,372.7 583.3,373.3Z" fill="none" stroke="#444" stroke-width="0.9" />
<path d="M582.8,369 C581.8,369.4 582.2,367.3 582,366.7 C581.9,366.2 581.6,364.9 581.5,364.3 C581.4,363.7 581.2,362.3 581.2,361.6 C581.2,361 581.1,359.5 581.2,358.9 C581.2,358.2 581.3,356.7 581.4,356 C581.4,355.3 581.7,353.7 581.8,353.1 C582,352.4 582.3,350.8 582.5,350.1 C582.7,349.4 583.2,347.9 583.5,347.2 C583.7,346.5 584.3,345 584.6,344.3 C584.9,343.7 585.3,341.1 586,341.5 C586.7,342 590.4,346.8 590.8,347.9 C591.3,349 589.9,350.5 589.7,351.2 C589.5,352 589.2,353.8 589.1,354.6 C589,355.4 589,357.1 589.1,357.8 C589.2,358.5 589.5,360 589.6,360.7 C589.8,361.3 591.5,362.1 590.7,363 C590,364 583.8,368.5 582.8,369Z" fill="none" stroke="#444" stroke-width="0.9" />
<path d="M582.3,364.7 C581.5,365 581.8,363.4 581.7,363 C581.6,362.6 581.4,361.7 581.3,361.3 C581.2,360.8 581.1,359.8 581.1,359.4 C581.1,358.9 581.1,357.9 581.1,357.4 C581.1,356.9 581.2,355.8 581.2,355.3 C581.3,354.8 581.5,353.7 581.6,353.2 C581.7,352.7 581.9,351.6 582.1,351.1 C582.2,350.6 582.6,349.5 582.8,349 C582.9,348.5 583.4,347.4 583.6,346.9 C583.8,346.5 584,344.6 584.6,344.9 C585.1,345.2 587.7,348.7 588,349.5 C588.3,350.3 587.4,351.3 587.2,351.9 C587.1,352.5 586.8,353.8 586.8,354.3 C586.7,354.9 586.7,356.1 586.8,356.6 C586.8,357.1 587,358.2 587.2,358.7 C587.3,359.1 588.5,359.7 588,360.4 C587.4,361.1 583,364.3 582.3,364.7Z" fill="none" stroke="#444" stroke-width="0.9" />
<path d="M598.2,321.9 C598.2,319.9 600.6,319.6 601.3,319 C602.1,318.3 603.8,317 604.6,316.4 C605.4,315.9 607.2,314.8 608,314.4 C608.7,313.9 610.6,313.1 611.3,312.8 C612.1,312.5 613.9,311.9 614.7,311.7 C615.5,311.5 617.2,311.3 618,311.2 C618.8,311.1 620.5,311.1 621.2,311.2 C621.9,311.3 623.6,311.6 624.2,311.7 C624.9,311.9 626.5,312.5 627.1,312.8 C627.7,313.1 630.6,312.6 629.7,314.4 C628.8,316.3 621,327.1 619.4,328.7 C617.8,330.3 616.8,328 616,327.9 C615.1,327.9 613.1,328.2 612.2,328.4 C611.3,328.7 609.3,329.6 608.4,330.1 C607.5,330.6 605.4,332.1 604.6,332.9 C603.7,333.6 601.9,337.9 601.1,336.6 C600.4,335.4 598.2,324 598.2,321.9Z" fill="#efefef" stroke="#111" stroke-width="1.9" />
<path d="M599.6,321 C599.7,319.3 601.6,319.1 602.2,318.6 C602.8,318.1 604.3,316.9 604.9,316.5 C605.5,316.1 607,315.1 607.7,314.8 C608.3,314.4 609.8,313.8 610.4,313.5 C611.1,313.3 612.6,312.8 613.2,312.6 C613.8,312.5 615.3,312.2 615.9,312.2 C616.5,312.1 617.9,312.2 618.5,312.2 C619.1,312.3 620.4,312.5 621,312.7 C621.6,312.8 622.8,313.3 623.4,313.5 C623.9,313.8 626.2,313.3 625.5,314.8 C624.8,316.4 618.4,325.3 617.1,326.6 C615.7,327.8 614.9,326 614.2,325.9 C613.6,325.9 611.9,326.1 611.2,326.3 C610.4,326.5 608.7,327.3 608,327.7 C607.3,328.1 605.6,329.4 604.9,330 C604.2,330.6 602.7,334.1 602.1,333.1 C601.4,332 599.6,322.7 599.6,321Z" fill="none" stroke="#444" stroke-width="0.9" />
<path d="M601.1,320.1 C601.1,318.8 602.6,318.6 603.1,318.2 C603.6,317.8 604.7,316.9 605.2,316.6 C605.7,316.2 606.9,315.5 607.4,315.2 C607.9,315 609,314.4 609.5,314.2 C610,314 611.2,313.7 611.7,313.5 C612.2,313.4 613.3,313.2 613.8,313.2 C614.3,313.2 615.4,313.2 615.8,313.2 C616.3,313.3 617.3,313.4 617.8,313.6 C618.2,313.7 619.2,314.1 619.6,314.2 C620,314.4 621.9,314.1 621.3,315.3 C620.7,316.5 615.7,323.4 614.7,324.4 C613.7,325.4 613,323.9 612.5,323.9 C612,323.9 610.7,324.1 610.1,324.2 C609.5,324.4 608.2,325 607.6,325.3 C607,325.6 605.7,326.6 605.2,327.1 C604.7,327.6 603.5,330.3 603,329.5 C602.5,328.7 601.1,321.4 601.1,320.1Z" fill="none" stroke="#444" stroke-width="0.9" />
<path d="M602.6,319.2 C602.6,318.2 603.7,318.1 604,317.8 C604.4,317.5 605.2,316.9 605.5,316.6 C605.9,316.4 606.7,315.9 607.1,315.7 C607.4,315.5 608.2,315.1 608.6,314.9 C609,314.8 609.8,314.5 610.2,314.5 C610.5,314.4 611.3,314.2 611.7,314.2 C612,314.2 612.8,314.2 613.1,314.2 C613.5,314.2 614.2,314.4 614.5,314.5 C614.9,314.6 615.6,314.8 615.9,315 C616.2,315.1 617.5,314.8 617.1,315.7 C616.7,316.6 613.1,321.5 612.3,322.3 C611.6,323 611.1,321.9 610.7,321.9 C610.4,321.9 609.4,322 609,322.1 C608.6,322.3 607.6,322.7 607.2,322.9 C606.8,323.1 605.9,323.8 605.5,324.2 C605.1,324.5 604.3,326.5 603.9,325.9 C603.6,325.3 602.5,320.1 602.6,319.2Z" fill="none" stroke="#444" stroke-width="0.9" />
<path d="M636.5,323.4 C638.1,322.7 637.4,326.1 637.7,326.9 C637.9,327.8 638.4,329.8 638.5,330.8 C638.7,331.7 638.9,333.9 639,334.9 C639,335.9 639.1,338.2 639,339.2 C639,340.2 638.8,342.6 638.7,343.7 C638.6,344.7 638.2,347.2 638,348.3 C637.8,349.3 637.2,351.8 636.9,352.9 C636.6,353.9 635.8,356.4 635.4,357.4 C635,358.5 634.1,360.9 633.6,361.9 C633.1,362.9 632.6,366.9 631.5,366.2 C630.3,365.6 624.6,358.1 623.9,356.3 C623.2,354.6 625.4,352.3 625.7,351.1 C626,349.9 626.5,347.1 626.6,345.9 C626.7,344.7 626.7,342 626.6,340.9 C626.5,339.8 626.1,337.3 625.8,336.4 C625.5,335.4 622.8,334.2 624,332.7 C625.3,331.2 634.9,324.1 636.5,323.4Z" fill="#efefef" stroke="#111" stroke-width="1.9" />
<path d="M634.6,326.5 C635.9,326 635.4,328.7 635.6,329.4 C635.8,330.1 636.2,331.8 636.3,332.5 C636.4,333.3 636.6,335.1 636.7,335.9 C636.7,336.7 636.7,338.6 636.7,339.5 C636.7,340.3 636.5,342.3 636.4,343.1 C636.3,344 636,346 635.8,346.9 C635.7,347.8 635.2,349.8 634.9,350.7 C634.7,351.6 634.1,353.6 633.7,354.4 C633.4,355.3 632.6,357.3 632.2,358.1 C631.9,358.9 631.4,362.2 630.5,361.6 C629.6,361.1 624.9,355 624.3,353.5 C623.8,352.1 625.5,350.2 625.8,349.2 C626,348.2 626.4,345.9 626.5,344.9 C626.6,344 626.6,341.7 626.5,340.8 C626.5,339.9 626.1,337.9 625.8,337.2 C625.6,336.4 623.4,335.4 624.4,334.1 C625.4,332.9 633.3,327.1 634.6,326.5Z" fill="none" stroke="#444" stroke-width="0.9" />
<path d="M632.7,329.6 C633.8,329.2 633.4,331.3 633.5,331.9 C633.7,332.4 634,333.7 634.1,334.3 C634.2,334.9 634.3,336.3 634.4,337 C634.4,337.6 634.4,339.1 634.4,339.7 C634.4,340.4 634.3,341.9 634.2,342.6 C634.1,343.3 633.9,344.9 633.7,345.5 C633.6,346.2 633.2,347.8 633,348.5 C632.8,349.2 632.3,350.7 632.1,351.4 C631.8,352.1 631.2,353.6 630.9,354.3 C630.6,354.9 630.3,357.5 629.5,357.1 C628.8,356.6 625.1,351.8 624.7,350.7 C624.3,349.6 625.6,348.1 625.8,347.4 C626,346.6 626.4,344.8 626.4,344 C626.5,343.2 626.5,341.5 626.5,340.8 C626.4,340.1 626.1,338.6 625.9,337.9 C625.7,337.3 624,336.5 624.8,335.6 C625.6,334.6 631.7,330.1 632.7,329.6Z" fill="none" stroke="#444" stroke-width="0.9" />
<path d="M630.9,332.7 C631.6,332.4 631.3,334 631.4,334.4 C631.6,334.8 631.8,335.7 631.8,336.1 C631.9,336.6 632,337.6 632,338 C632.1,338.5 632.1,339.5 632.1,340 C632.1,340.5 632,341.6 631.9,342.1 C631.9,342.6 631.7,343.7 631.6,344.2 C631.5,344.7 631.2,345.8 631.1,346.3 C630.9,346.8 630.6,347.9 630.4,348.4 C630.2,348.9 629.8,350 629.6,350.5 C629.3,350.9 629.1,352.8 628.6,352.5 C628.1,352.2 625.4,348.7 625.1,347.9 C624.8,347.1 625.8,346.1 625.9,345.5 C626.1,344.9 626.3,343.6 626.3,343.1 C626.4,342.5 626.4,341.3 626.4,340.8 C626.3,340.3 626.1,339.2 626,338.7 C625.8,338.3 624.6,337.7 625.2,337 C625.7,336.3 630.1,333.1 630.9,332.7Z" fill="none" stroke="#444" stroke-width="0.9" />
<ellipse cx="610.2" cy="350.5" rx="13.9" ry="22" transform="rotate(23 610.2 350.5)" fill="#fff" stroke="#111" stroke-width="2.6" />
<ellipse cx="607.2" cy="349.5" rx="11.5" ry="18.2" transform="rotate(23 607.2 349.5)" fill="none" stroke="#111" stroke-width="1.1" />
<line x1="610.2" y1="350.5" x2="652.3" y2="378" stroke="#fff" stroke-width="1.8" opacity="0.6"/>
<line x1="610.2" y1="350.5" x2="652.3" y2="378" stroke="#a0a0a0" stroke-width="0.75" />
<ellipse cx="651.3" cy="377.5" rx="13.5" ry="21.4" transform="rotate(27 651.3 377.5)" fill="#fff" stroke="none" stroke-width="0" />
<ellipse cx="652.3" cy="378" rx="13.5" ry="21.4" transform="rotate(27 652.3 378)" fill="#fff" stroke="none" stroke-width="0" />
<ellipse cx="650.3" cy="377" rx="13.5" ry="21.4" transform="rotate(27 650.3 377)" fill="none" stroke="#111" stroke-width="2.0" />
<ellipse cx="652.3" cy="378" rx="13.5" ry="21.4" transform="rotate(27 652.3 378)" fill="none" stroke="#111" stroke-width="2.0" />
<ellipse cx="652.3" cy="378" rx="11.3" ry="18" transform="rotate(27 652.3 378)" fill="none" stroke="#111" stroke-width="1.4" />
<path d="M661.3,382.6 661.7,384.4 660.9,385.6 659.4,385.9 658.6,386.8 658.5,388.9 657.5,389.8 656.2,389.5 655.3,390.2 654.6,392.3 653.6,392.9 652.6,391.9 651.7,392.4 650.6,394.3 649.6,394.6 649,393.1 648.1,393.1 646.7,394.8 645.8,394.6 645.7,392.7 644.9,392.4 643.4,393.5 642.6,393 643,390.9 642.5,390.3 640.9,390.8 640.4,389.9 641.3,387.9 641,386.9 639.5,386.8 639.4,385.7 640.6,383.8 640.6,382.7 639.4,382 639.6,380.7 641.1,379.2 641.4,378.1 640.6,376.7 641,375.4 642.7,374.5 643.2,373.4 642.9,371.6 643.6,370.4 645.2,370.1 645.9,369.2 646.1,367.1 647,366.2 648.4,366.5 649.2,365.8 649.9,363.7 650.9,363.1 652,364.1 652.9,363.6 654,361.7 655,361.4 655.6,362.9 656.4,362.9 657.8,361.2 658.7,361.4 658.9,363.3 659.6,363.6 661.2,362.5 661.9,363 661.5,365.1 662,365.7 663.7,365.2 664.1,366.1 663.3,368.1 663.5,369.1 665,369.2 665.2,370.3 663.9,372.2 663.9,373.3 665.1,374 664.9,375.3 663.5,376.8 663.2,377.9 664,379.3 663.5,380.6 661.9,381.5Z" fill="none" stroke="#111" stroke-width="0.9" />
<line x1="652.3" y1="378" x2="680.5" y2="393.5" stroke="#fff" stroke-width="1.8" opacity="0.6"/>
<line x1="652.3" y1="378" x2="680.5" y2="393.5" stroke="#a0a0a0" stroke-width="0.75" />
<ellipse cx="679" cy="392.5" rx="11.8" ry="18.7" transform="rotate(27 679 392.5)" fill="#fff" stroke="none" stroke-width="0" />
<ellipse cx="680.5" cy="393.5" rx="11.8" ry="18.7" transform="rotate(27 680.5 393.5)" fill="#fff" stroke="none" stroke-width="0" />
<ellipse cx="677.5" cy="391.5" rx="11.8" ry="18.7" transform="rotate(27 677.5 391.5)" fill="none" stroke="#111" stroke-width="2.6" />
<ellipse cx="680.5" cy="393.5" rx="11.8" ry="18.7" transform="rotate(27 680.5 393.5)" fill="none" stroke="#111" stroke-width="2.6" />
<ellipse cx="680.5" cy="393.5" rx="10.1" ry="16.1" transform="rotate(27 680.5 393.5)" fill="none" stroke="#111" stroke-width="1.8199999999999998" />
<line x1="680.5" y1="393.5" x2="738.7" y2="428" stroke="#fff" stroke-width="1.8" opacity="0.6"/>
<line x1="680.5" y1="393.5" x2="738.7" y2="428" stroke="#a0a0a0" stroke-width="0.75" />
<path d="M739.7,432.8 738.8,434.9 737.8,437 736.7,439 735.6,441 736.5,445.1 735.2,447.1 733.8,449.1 732.3,451.1 730.7,452.9 729.2,454.7 726.3,453 724.8,454.5 723.3,455.8 721.7,457 720.2,458.2 718.6,459.2 717,460.2 715.4,461 713.8,461.7 712.2,462.4 710.6,462.9 709,463.3 707.4,463.6 705.8,463.7 704.3,463.8 702.8,463.7 701.3,463.6 699.9,463.3 696.8,467.2 695.3,466.6 693.9,465.9 692.5,465.1 691.2,464.2 689.9,463.2 691.1,458.2 690.1,457.1 689.2,455.8 688.3,454.5 687.5,453.1 686.7,451.6 686.1,450 685.5,448.3 685,446.6 684.5,444.8 684.2,442.9 683.9,441 683.7,439 683.6,437 683.6,434.9 683.7,432.8 683.8,430.7 684.1,428.6 681.3,426.9 681.7,424.4 682.2,422 682.8,419.6 683.6,417.2 684.3,414.8 688,413.3 688.9,411.2 689.8,409.1 690.8,407 691.8,405 693,403 694.2,401.1 695.4,399.3 696.7,397.4 698,395.7 699.4,394 700.8,392.5 702.3,391 703.8,389.5 705.3,388.2 706.9,387 708.4,385.8 710,384.8 711.3,379.8 713.1,378.9 714.9,378.1 716.6,377.4 718.4,376.8 720.2,376.4 721.2,380.4 722.7,380.3 724.3,380.2 725.8,380.3 727.2,380.4 728.7,380.7 730.1,381.1 731.4,381.6 732.7,382.2 734,383 735.2,383.8 736.3,384.7 737.4,385.8 738.5,386.9 739.4,388.2 740.3,389.5 741.1,390.9 741.9,392.4 745.5,391.1 746.1,392.9 746.7,394.8 747.2,396.8 747.6,398.9 747.9,401 744.8,405 744.9,407 745,409.1 744.9,411.2 744.7,413.3 744.5,415.4 744.2,417.6 743.8,419.8 743.3,422 742.7,424.2 742.1,426.3 741.4,428.5 740.6,430.7Z" fill="#fff" stroke="#111" stroke-width="1.8" />
<defs><path id="g16" d="M760.8,437.4 761.8,438.5 763.5,440 764.2,441.3 764.1,442.4 762.9,444.8 762.1,445.6 760.8,445.5 758.7,444.6 757.3,444.5 756.2,446.2 756.8,447.6 758.1,450 758.4,451.6 758.1,452.7 756.5,454.8 755.7,455.2 754.5,454.7 752.9,453 751.7,452.3 750.4,453.7 750.6,455.5 751.3,458.4 751.3,460.2 750.7,461.3 749,462.9 748.1,463.1 747.2,462.1 746.1,459.7 745.2,458.5 743.8,459.5 743.7,461.4 743.6,464.8 743.2,466.7 742.5,467.6 740.7,468.6 739.9,468.5 739.3,467.2 738.8,464.1 738.3,462.6 736.9,463.1 736.3,465.1 735.6,468.6 734.9,470.5 734.1,471.2 732.3,471.6 731.6,471.2 731.4,469.5 731.5,466.2 731.4,464.3 730,464.4 729.2,466.3 727.9,469.7 726.9,471.4 726,471.9 724.3,471.6 723.8,471 723.9,469.1 724.8,465.6 725,463.6 723.8,463.1 722.6,464.8 720.8,467.9 719.6,469.4 718.8,469.6 717.3,468.7 717,467.8 717.5,465.8 718.9,462.5 719.5,460.4 718.6,459.5 717.2,460.9 715,463.5 713.6,464.5 712.9,464.4 711.8,462.9 711.7,461.9 712.5,460 714.4,457 715.4,455 714.7,453.7 713.3,454.7 710.8,456.6 709.4,457.2 708.7,456.8 708.1,454.8 708.2,453.7 709.3,452 711.6,449.5 712.8,447.8 712.5,446.2 711.1,446.6 708.5,447.7 707.1,447.9 706.6,447.2 706.5,444.9 706.8,443.7 708.1,442.4 710.6,440.6 712,439.3 712.1,437.4 710.7,437.3 708.3,437.5 707,437.2 706.7,436.3 707.1,433.8 707.6,432.7 709,431.7 711.5,430.8 713,429.9 713.5,428 712.3,427.4 710.1,426.7 709.1,425.9 709,424.8 709.8,422.3 710.5,421.3 711.9,420.8 714.3,420.8 715.8,420.5 716.6,418.6 715.7,417.5 713.9,416 713.2,414.7 713.3,413.6 714.5,411.2 715.3,410.4 716.6,410.5 718.8,411.4 720.2,411.5 721.2,409.8 720.6,408.4 719.3,406 719,404.4 719.4,403.3 720.9,401.2 721.7,400.8 722.9,401.3 724.6,403 725.8,403.7 727,402.3 726.8,400.5 726.1,397.6 726.2,395.8 726.7,394.7 728.4,393.1 729.3,392.9 730.2,393.9 731.3,396.3 732.2,397.5 733.6,396.5 733.8,394.6 733.8,391.2 734.2,389.3 734.9,388.4 736.7,387.4 737.5,387.5 738.1,388.8 738.6,391.9 739.2,393.4 740.6,392.9 741.1,390.9 741.8,387.4 742.5,385.5 743.3,384.8 745.1,384.4 745.8,384.8 746,386.5 745.9,389.8 746.1,391.7 747.4,391.6 748.3,389.7 749.6,386.3 750.6,384.6 751.4,384.1 753.1,384.4 753.6,385 753.5,386.9 752.7,390.4 752.4,392.4 753.6,392.9 754.8,391.2 756.6,388.1 757.8,386.6 758.7,386.4 760.1,387.3 760.4,388.2 759.9,390.2 758.5,393.5 757.9,395.6 758.8,396.5 760.2,395.1 762.4,392.5 763.8,391.5 764.6,391.6 765.6,393.1 765.7,394.1 764.9,396 763,399 762.1,401 762.7,402.3 764.1,401.3 766.6,399.4 768,398.8 768.7,399.2 769.3,401.2 769.2,402.3 768.1,404 765.8,406.5 764.6,408.2 764.9,409.8 766.4,409.4 768.9,408.3 770.3,408.1 770.8,408.8 770.9,411.1 770.6,412.3 769.3,413.6 766.8,415.4 765.4,416.7 765.3,418.6 766.7,418.7 769.2,418.5 770.4,418.8 770.7,419.7 770.4,422.2 769.8,423.3 768.4,424.3 765.9,425.2 764.4,426.1 764,428 765.1,428.6 767.3,429.3 768.3,430.1 768.4,431.2 767.6,433.7 766.9,434.7 765.5,435.2 763.1,435.2 761.6,435.5Z"/></defs>
<use href="#g16" x="-19.5" y="-4.8" fill="#fff" stroke="#111" stroke-width="2.0"/>
<use href="#g16" x="-17.6" y="-4.3" fill="#fff"/>
<use href="#g16" x="-15.6" y="-3.8" fill="#fff"/>
<use href="#g16" x="-13.7" y="-3.4" fill="#fff"/>
<use href="#g16" x="-11.7" y="-2.9" fill="#fff"/>
<use href="#g16" x="-9.8" y="-2.4" fill="#fff"/>
<use href="#g16" x="-7.8" y="-1.9" fill="#fff"/>
<use href="#g16" x="-5.9" y="-1.4" fill="#fff"/>
<use href="#g16" x="-3.9" y="-1" fill="#fff"/>
<use href="#g16" x="-2" y="-0.5" fill="#fff"/>
<path d="M757.9,386 760.8,387.8 741.2,383 738.4,381.2ZM735,471 731.4,471.8 711.8,467 715.5,466.2ZM750.6,384 753.9,384.6 734.4,379.8 731,379.2ZM726.9,472 723.5,471.4 704,466.6 707.3,467.2ZM742.4,385 746,384.2 726.5,379.4 722.8,380.2ZM719.5,470 716.6,468.2 697.1,463.4 700,465.2ZM733.9,389 737.7,386.9 718.1,382.1 714.4,384.2ZM713.4,465.1 711.3,462.1 691.8,457.3 693.9,460.3ZM725.8,395.5 729.3,392.3 709.8,387.5 706.3,390.7ZM709.1,457.7 707.8,453.8 688.3,449 689.6,452.9ZM706.8,448.3 706.4,443.7 686.9,438.9 687.2,443.5ZM718.6,404.3 721.7,400.2 702.1,395.4 699.1,399.5ZM706.6,437.5 707.3,432.5 687.7,427.7 687.1,432.7ZM712.8,414.8 715.1,410 695.6,405.2 693.2,410ZM708.7,426.1 710.2,421 690.7,416.2 689.1,421.3Z" fill="#fff" stroke="#111" stroke-width="1.5" />
<use href="#g16" fill="#fff" stroke="#111" stroke-width="2.0"/>
<ellipse cx="738.7" cy="428" rx="23.3" ry="36.9" transform="rotate(23 738.7 428)" fill="none" stroke="#333" stroke-width="1.2" />
<ellipse cx="738.7" cy="428" rx="14.5" ry="23.1" transform="rotate(23 738.7 428)" fill="#fff" stroke="#111" stroke-width="1.6" />
<path d="M761.6,400.7 C762.4,400 762.7,402.9 762.9,403.4 C763.1,403.8 763.8,405.8 763.9,406.3 C764,406.8 764.5,408.9 764.6,409.5 C764.7,410 765,412.3 765.1,412.9 C765.1,413.5 765.2,415.9 765.2,416.5 C765.2,417.1 765.9,419.6 765,420.2 C764.1,420.7 755.6,423.2 754.8,423.2 C753.9,423.3 754.9,421.3 754.9,421 C754.9,420.6 754.8,419.1 754.8,418.8 C754.7,418.4 754.6,417 754.5,416.7 C754.5,416.4 754.2,415.1 754.1,414.8 C754,414.5 753.6,413.3 753.4,413 C753.3,412.7 752,412.4 752.7,411.3 C753.3,410.3 760.7,401.4 761.6,400.7Z" fill="#fff" stroke="#111" stroke-width="1.7" />
<path d="M764.1,401.9 C764.9,401.2 765.2,404.1 765.4,404.6 C765.6,405 766.3,407 766.4,407.5 C766.5,408 767,410.1 767.1,410.7 C767.2,411.2 767.5,413.5 767.6,414.1 C767.6,414.7 767.7,417.1 767.7,417.7 C767.7,418.3 768.4,420.8 767.5,421.4 C766.6,421.9 758.1,424.4 757.3,424.4 C756.4,424.5 757.4,422.5 757.4,422.2 C757.4,421.8 757.3,420.3 757.3,420 C757.2,419.6 757.1,418.2 757,417.9 C757,417.6 756.7,416.3 756.6,416 C756.5,415.7 756.1,414.5 755.9,414.2 C755.8,413.9 754.5,413.6 755.2,412.5 C755.8,411.5 763.2,402.6 764.1,401.9Z" fill="#fff" stroke="#111" stroke-width="1.7" />
<path d="M752.5,451 C752.7,452 750.4,453.4 750,453.8 C749.6,454.3 747.8,456 747.4,456.4 C747,456.8 745.1,458.2 744.7,458.6 C744.2,458.9 742.4,460.2 741.9,460.4 C741.4,460.7 739.6,461.7 739.1,461.9 C738.6,462.2 736.4,464.1 736.3,463.1 C736.1,462 737,450.6 737.2,449.4 C737.4,448.2 738.7,448.8 738.9,448.7 C739.2,448.6 740.4,448 740.7,447.8 C740.9,447.6 742.1,446.9 742.4,446.6 C742.6,446.4 743.7,445.5 744,445.3 C744.3,445.1 745.3,444 745.6,443.8 C745.9,443.5 746.5,441.4 747.1,442 C747.7,442.6 752.3,450 752.5,451Z" fill="#fff" stroke="#111" stroke-width="1.7" />
<path d="M755,452.2 C755.2,453.2 752.9,454.6 752.5,455 C752.1,455.5 750.3,457.2 749.9,457.6 C749.5,458 747.6,459.4 747.2,459.8 C746.7,460.1 744.9,461.4 744.4,461.6 C743.9,461.9 742.1,462.9 741.6,463.1 C741.1,463.4 738.9,465.3 738.8,464.3 C738.6,463.2 739.5,451.8 739.7,450.6 C739.9,449.4 741.2,450 741.4,449.9 C741.7,449.8 742.9,449.2 743.2,449 C743.4,448.8 744.6,448.1 744.9,447.8 C745.1,447.6 746.2,446.7 746.5,446.5 C746.8,446.3 747.8,445.2 748.1,445 C748.4,444.7 749,442.6 749.6,443.2 C750.2,443.8 754.8,451.2 755,452.2Z" fill="#fff" stroke="#111" stroke-width="1.7" />
<path d="M715.7,455.1 C714.9,455.8 714.6,452.9 714.4,452.4 C714.3,452 713.6,450 713.5,449.5 C713.3,448.9 712.8,446.8 712.8,446.2 C712.7,445.7 712.4,443.4 712.3,442.8 C712.3,442.2 712.2,439.9 712.2,439.2 C712.2,438.6 711.6,436.1 712.4,435.5 C713.3,435 721.8,432.6 722.7,432.6 C723.5,432.5 722.6,434.5 722.6,434.9 C722.6,435.2 722.6,436.7 722.6,437 C722.7,437.4 722.8,438.8 722.9,439.1 C722.9,439.5 723.2,440.8 723.3,441.1 C723.4,441.4 723.8,442.6 723.9,442.9 C724,443.2 725.4,443.5 724.7,444.5 C724,445.6 716.6,454.5 715.7,455.1Z" fill="#fff" stroke="#111" stroke-width="1.7" />
<path d="M718.2,456.3 C717.4,457 717.1,454.1 716.9,453.6 C716.8,453.2 716.1,451.2 716,450.7 C715.8,450.1 715.3,448 715.3,447.4 C715.2,446.9 714.9,444.6 714.8,444 C714.8,443.4 714.7,441.1 714.7,440.4 C714.7,439.8 714.1,437.3 714.9,436.7 C715.8,436.2 724.3,433.8 725.2,433.8 C726,433.7 725.1,435.7 725.1,436.1 C725.1,436.4 725.1,437.9 725.1,438.2 C725.2,438.6 725.3,440 725.4,440.3 C725.4,440.7 725.7,442 725.8,442.3 C725.9,442.6 726.3,443.8 726.4,444.1 C726.5,444.4 727.9,444.7 727.2,445.7 C726.5,446.8 719.1,455.7 718.2,456.3Z" fill="#fff" stroke="#111" stroke-width="1.7" />
<path d="M725.1,404.8 C724.9,403.8 727.2,402.4 727.6,402 C728,401.5 729.8,399.8 730.2,399.4 C730.7,399.1 732.5,397.6 732.9,397.3 C733.4,396.9 735.3,395.7 735.7,395.4 C736.2,395.1 738.1,394.2 738.5,394 C739,393.7 741.2,391.8 741.4,392.9 C741.5,393.9 740.6,405.4 740.3,406.6 C740.1,407.8 738.9,407.1 738.6,407.2 C738.3,407.4 737.2,408 736.9,408.1 C736.6,408.3 735.5,409.1 735.2,409.3 C734.9,409.5 733.8,410.4 733.5,410.6 C733.3,410.8 732.2,411.9 731.9,412.1 C731.7,412.4 731,414.4 730.4,413.8 C729.8,413.2 725.3,405.8 725.1,404.8Z" fill="#fff" stroke="#111" stroke-width="1.7" />
<path d="M727.6,406 C727.4,405 729.7,403.6 730.1,403.2 C730.5,402.7 732.3,401 732.7,400.6 C733.2,400.3 735,398.8 735.4,398.5 C735.9,398.1 737.8,396.9 738.2,396.6 C738.7,396.3 740.6,395.4 741,395.2 C741.5,394.9 743.7,393 743.9,394.1 C744,395.1 743.1,406.6 742.8,407.8 C742.6,409 741.4,408.3 741.1,408.4 C740.8,408.6 739.7,409.2 739.4,409.3 C739.1,409.5 738,410.3 737.7,410.5 C737.4,410.7 736.3,411.6 736,411.8 C735.8,412 734.7,413.1 734.4,413.3 C734.2,413.6 733.5,415.6 732.9,415 C732.3,414.4 727.8,407 727.6,406Z" fill="#fff" stroke="#111" stroke-width="1.7" />
<ellipse cx="738.7" cy="428" rx="12.2" ry="19.4" transform="rotate(23 738.7 428)" fill="#333" stroke="#111" stroke-width="1.8" />
<clipPath id="cl17"><ellipse cx="738.7" cy="428" rx="12.2" ry="19.4" transform="rotate(23 738.7 428)" /></clipPath>
<g clip-path="url(#cl17)">
<path d="M750,432.8 736,427.8M746.2,439.2 732.2,434.2M741.3,444 727.3,439M736,446.3 722,441.3M731.1,445.9 717.1,440.9M727.4,442.7 713.4,437.7M725.4,437.2 711.4,432.2M725.4,430.4 711.4,425.4M727.5,423.2 713.5,418.2M731.2,416.8 717.2,411.8M736.1,412 722.1,407M741.4,409.7 727.4,404.7M746.3,410.1 732.3,405.1M750,413.3 736,408.3M752,418.8 738,413.8M752,425.6 738,420.6" fill="none" stroke="#bbb" stroke-width="0.8" />
<ellipse cx="724.7" cy="423" rx="12.2" ry="19.4" transform="rotate(23 724.7 423)" fill="#fff" stroke="#222" stroke-width="1" />
</g>
<line x1="738.7" y1="428" x2="779.5" y2="452.2" stroke="#fff" stroke-width="1.8" opacity="0.6"/>
<line x1="738.7" y1="428" x2="779.5" y2="452.2" stroke="#a0a0a0" stroke-width="0.75" />
<ellipse cx="778" cy="451.2" rx="12.6" ry="20" transform="rotate(27 778 451.2)" fill="#fff" stroke="none" stroke-width="0" />
<ellipse cx="779.5" cy="452.2" rx="12.6" ry="20" transform="rotate(27 779.5 452.2)" fill="#fff" stroke="none" stroke-width="0" />
<ellipse cx="776.5" cy="450.2" rx="12.6" ry="20" transform="rotate(27 776.5 450.2)" fill="none" stroke="#111" stroke-width="2.6" />
<ellipse cx="779.5" cy="452.2" rx="12.6" ry="20" transform="rotate(27 779.5 452.2)" fill="none" stroke="#111" stroke-width="2.6" />
<ellipse cx="779.5" cy="452.2" rx="10.9" ry="17.2" transform="rotate(27 779.5 452.2)" fill="none" stroke="#111" stroke-width="1.8199999999999998" />
<line x1="779.5" y1="452.2" x2="804.4" y2="466.2" stroke="#fff" stroke-width="1.8" opacity="0.6"/>
<line x1="779.5" y1="452.2" x2="804.4" y2="466.2" stroke="#a0a0a0" stroke-width="0.75" />
<ellipse cx="803.4" cy="465.8" rx="13.3" ry="21.1" transform="rotate(27 803.4 465.8)" fill="#fff" stroke="none" stroke-width="0" />
<ellipse cx="804.4" cy="466.2" rx="13.3" ry="21.1" transform="rotate(27 804.4 466.2)" fill="#fff" stroke="none" stroke-width="0" />
<ellipse cx="802.4" cy="465.2" rx="13.3" ry="21.1" transform="rotate(27 802.4 465.2)" fill="none" stroke="#111" stroke-width="2.0" />
<ellipse cx="804.4" cy="466.2" rx="13.3" ry="21.1" transform="rotate(27 804.4 466.2)" fill="none" stroke="#111" stroke-width="2.0" />
<ellipse cx="804.4" cy="466.2" rx="11.2" ry="17.7" transform="rotate(27 804.4 466.2)" fill="none" stroke="#111" stroke-width="1.4" />
<path d="M813.3,470.8 813.7,472.5 812.9,473.7 811.4,474 810.6,475 810.5,477 809.6,477.9 808.2,477.5 807.3,478.3 806.7,480.4 805.7,481 804.7,480 803.8,480.4 802.7,482.4 801.7,482.6 801.1,481.1 800.2,481.2 798.9,482.8 798,482.6 797.9,480.8 797.1,480.4 795.6,481.6 794.9,481.1 795.2,479 794.7,478.3 793.1,478.9 792.7,478 793.5,476 793.3,475.1 791.8,475 791.6,473.8 792.9,472 792.9,470.9 791.7,470.2 791.8,468.9 793.3,467.5 793.6,466.3 792.8,465 793.3,463.7 794.9,462.8 795.4,461.7 795.1,460 795.8,458.8 797.4,458.5 798.1,457.5 798.2,455.5 799.2,454.6 800.5,455 801.4,454.2 802,452.1 803,451.5 804.1,452.5 805,452.1 806,450.1 807,449.9 807.6,451.4 808.5,451.3 809.9,449.7 810.8,449.9 810.9,451.7 811.6,452.1 813.2,450.9 813.9,451.4 813.5,453.5 814,454.2 815.6,453.6 816.1,454.5 815.2,456.5 815.5,457.4 816.9,457.5 817.1,458.7 815.9,460.5 815.8,461.6 817.1,462.3 816.9,463.6 815.4,465 815.1,466.2 815.9,467.5 815.5,468.8 813.8,469.7Z" fill="none" stroke="#111" stroke-width="0.9" />
<line x1="804.4" y1="466.2" x2="839.3" y2="486.5" stroke="#fff" stroke-width="1.8" opacity="0.6"/>
<line x1="804.4" y1="466.2" x2="839.3" y2="486.5" stroke="#a0a0a0" stroke-width="0.75" />
<path d="M812.7,485.3 812.7,484 812.9,482.7 813.1,481.4 813.3,480.1 813.7,478.9 814.1,477.6 814.5,476.3 815.1,475.1 815.7,473.9 816.3,472.8 817,471.6 817.8,470.6 818.6,469.6 819.4,468.6 820.3,467.7 821.2,466.9 822.1,466.1 823.1,465.4 824.1,464.8 825.1,464.3 826.1,463.9 827.1,463.5 828.2,463.3 829.2,463.1 830.2,463 831.2,463 832.2,463.1 833.1,463.3 834.1,463.6 835,463.9 847,468.9 847.8,469.4 848.6,469.9 849.4,470.5 850.1,471.2 850.8,472 851.4,472.8 851.9,473.7 852.4,474.7 852.9,475.7 853.2,476.8 853.5,477.9 853.7,479 853.9,480.2 854,481.5 854,482.7 853.9,484 853.8,485.3 853.6,486.6 853.3,487.9 853,489.1 852.6,490.4 852.1,491.7 851.6,492.9 851,494.1 850.4,495.2 849.6,496.4 848.9,497.4 848.1,498.4 847.3,499.4 846.4,500.3 845.5,501.1 844.5,501.9 843.5,502.6 842.6,503.2 841.5,503.7 840.5,504.1 839.5,504.5 838.5,504.7 837.5,504.9 836.5,505 835.5,505 834.5,504.9 833.5,504.7 832.6,504.4 831.7,504.1 819.7,499.1 818.9,498.6 818,498.1 817.3,497.5 816.6,496.8 815.9,496 815.3,495.2 814.7,494.3 814.2,493.3 813.8,492.3 813.4,491.2 813.1,490.1 812.9,489 812.8,487.8 812.7,486.5Z" fill="#3a3a3a" stroke="#111" stroke-width="2.4" />
<clipPath id="cl18"><path d="M812.7,485.3 812.7,484 812.9,482.7 813.1,481.4 813.3,480.1 813.7,478.9 814.1,477.6 814.5,476.3 815.1,475.1 815.7,473.9 816.3,472.8 817,471.6 817.8,470.6 818.6,469.6 819.4,468.6 820.3,467.7 821.2,466.9 822.1,466.1 823.1,465.4 824.1,464.8 825.1,464.3 826.1,463.9 827.1,463.5 828.2,463.3 829.2,463.1 830.2,463 831.2,463 832.2,463.1 833.1,463.3 834.1,463.6 835,463.9 847,468.9 847.8,469.4 848.6,469.9 849.4,470.5 850.1,471.2 850.8,472 851.4,472.8 851.9,473.7 852.4,474.7 852.9,475.7 853.2,476.8 853.5,477.9 853.7,479 853.9,480.2 854,481.5 854,482.7 853.9,484 853.8,485.3 853.6,486.6 853.3,487.9 853,489.1 852.6,490.4 852.1,491.7 851.6,492.9 851,494.1 850.4,495.2 849.6,496.4 848.9,497.4 848.1,498.4 847.3,499.4 846.4,500.3 845.5,501.1 844.5,501.9 843.5,502.6 842.6,503.2 841.5,503.7 840.5,504.1 839.5,504.5 838.5,504.7 837.5,504.9 836.5,505 835.5,505 834.5,504.9 833.5,504.7 832.6,504.4 831.7,504.1 819.7,499.1 818.9,498.6 818,498.1 817.3,497.5 816.6,496.8 815.9,496 815.3,495.2 814.7,494.3 814.2,493.3 813.8,492.3 813.4,491.2 813.1,490.1 812.9,489 812.8,487.8 812.7,486.5Z"/></clipPath>
<g clip-path="url(#cl18)">
<path d="M852,491.6 840,486.6M850.1,495.4 838.1,490.4M847.7,498.7 835.7,493.7M844.8,501.5 832.8,496.5M841.7,503.4 829.7,498.4M838.4,504.6 826.4,499.6M835.2,504.8 823.2,499.8M832.2,504.1 820.2,499.1M829.6,502.5 817.6,497.5M827.4,500.1 815.4,495.1M825.9,497.1 813.9,492.1M825,493.5 813,488.5M824.8,489.5 812.8,484.5M825.4,485.4 813.4,480.4M826.7,481.4 814.7,476.4M828.6,477.6 816.6,472.6M831,474.3 819,469.3M833.9,471.5 821.9,466.5M837,469.6 825,464.6M840.2,468.4 828.2,463.4M843.4,468.2 831.4,463.2M846.4,468.9 834.4,463.9M849.1,470.5 837.1,465.5M851.2,472.9 839.2,467.9M852.8,475.9 840.8,470.9M853.7,479.5 841.7,474.5M853.8,483.5 841.8,478.5M853.3,487.6 841.3,482.6" fill="none" stroke="#c4c4c4" stroke-width="0.9" />
</g>
<ellipse cx="839.3" cy="486.5" rx="13.8" ry="19.2" transform="rotate(22 839.3 486.5)" fill="none" stroke="#111" stroke-width="2.2" />
<ellipse cx="839.3" cy="486.5" rx="11.6" ry="16.1" transform="rotate(22 839.3 486.5)" fill="#333" stroke="#111" stroke-width="2.0" />
<clipPath id="cl19"><ellipse cx="839.3" cy="486.5" rx="11.6" ry="16.1" transform="rotate(22 839.3 486.5)" /></clipPath>
<g clip-path="url(#cl19)">
<path d="M850.1,490.8 838.1,485.8M847,496.2 835,491.2M842.7,500.1 830.7,495.1M837.9,501.9 825.9,496.9M833.3,501.4 821.3,496.4M829.7,498.6 817.7,493.6M827.5,494 815.5,489M827.1,488.2 815.1,483.2M828.6,482.2 816.6,477.2M831.7,476.8 819.7,471.8M836,472.9 824,467.9M840.8,471.1 828.8,466.1M845.4,471.6 833.4,466.6M849,474.4 837,469.4M851.2,479 839.2,474M851.6,484.8 839.6,479.8" fill="none" stroke="#b0b0b0" stroke-width="0.8" />
<ellipse cx="823.1" cy="479.8" rx="11.6" ry="16.1" transform="rotate(22 823.1 479.8)" fill="#fff" stroke="#111" stroke-width="1.2" />
</g>
<line x1="839.3" y1="486.5" x2="895.6" y2="519.3" stroke="#fff" stroke-width="1.8" opacity="0.6"/>
<line x1="839.3" y1="486.5" x2="895.6" y2="519.3" stroke="#a0a0a0" stroke-width="0.75" />
<defs><path id="g20" d="M927.1,532.7 927.9,533.7 929.5,535 930.1,536.1 930,537.2 928.9,539.3 928.3,540 927.1,540.1 925.1,539.5 923.8,539.5 922.9,541.2 923.5,542.4 924.8,544.2 925.2,545.5 925,546.6 923.8,548.5 923,549.1 921.9,548.9 920.2,547.8 919,547.5 917.9,549 918.3,550.4 919.2,552.6 919.5,554.1 919.1,555.1 917.7,556.9 916.9,557.3 915.9,556.8 914.5,555.2 913.4,554.6 912.3,555.9 912.4,557.5 913,560.1 913,561.7 912.5,562.6 911,564.1 910.2,564.3 909.4,563.6 908.2,561.6 907.3,560.7 906.1,561.7 906,563.4 906.2,566.2 906,567.9 905.4,568.8 903.8,569.9 903.1,570 902.4,569 901.6,566.6 900.9,565.5 899.6,566.3 899.3,568 899.1,571 898.6,572.7 898,573.5 896.3,574.3 895.7,574.1 895.2,572.9 894.8,570.2 894.3,568.9 892.9,569.4 892.4,571.1 891.8,574.2 891.2,575.8 890.5,576.5 888.9,576.9 888.3,576.6 888,575.2 888,572.3 887.7,570.7 886.4,570.9 885.7,572.6 884.7,575.7 883.9,577.2 883.2,577.8 881.6,577.8 881.1,577.3 881,575.8 881.4,572.8 881.3,571.1 880.1,570.9 879.2,572.5 877.9,575.5 877,576.9 876.2,577.3 874.8,576.9 874.4,576.3 874.5,574.7 875.2,571.6 875.4,569.8 874.3,569.4 873.3,570.8 871.7,573.6 870.6,574.8 869.9,575 868.6,574.3 868.3,573.5 868.6,571.8 869.7,568.8 870.1,567 869.2,566.3 868,567.6 866.2,570 865,571.1 864.3,571.1 863.2,570 863,569.1 863.5,567.4 865,564.6 865.6,562.8 864.8,561.8 863.6,562.8 861.5,564.9 860.3,565.7 859.7,565.5 858.8,564.1 858.7,563.2 859.5,561.6 861.2,558.9 862,557.2 861.4,556 860.1,556.7 857.9,558.4 856.7,559 856.1,558.6 855.5,556.9 855.6,555.9 856.5,554.4 858.4,552.1 859.4,550.5 859,549 857.7,549.5 855.5,550.8 854.3,551 853.8,550.5 853.4,548.6 853.6,547.5 854.7,546.2 856.8,544.3 857.9,542.9 857.7,541.2 856.5,541.4 854.3,542.1 853.1,542.1 852.7,541.4 852.6,539.3 853,538.3 854.1,537.2 856.3,535.7 857.6,534.5 857.6,532.7 856.4,532.6 854.3,532.8 853.2,532.5 852.9,531.7 853.2,529.5 853.6,528.5 854.8,527.6 857.1,526.6 858.4,525.6 858.7,523.8 857.6,523.4 855.6,523.1 854.6,522.5 854.5,521.6 855,519.3 855.5,518.4 856.7,517.8 859,517.3 860.3,516.6 860.8,514.8 859.9,514.1 858,513.2 857.2,512.4 857.2,511.4 858,509.2 858.6,508.4 859.9,508 862,508 863.3,507.7 864,505.9 863.2,504.9 861.7,503.6 861.1,502.5 861.2,501.4 862.2,499.3 862.9,498.6 864.1,498.5 866,499.1 867.3,499.1 868.2,497.4 867.6,496.2 866.3,494.4 865.9,493.1 866.2,492 867.4,490.1 868.1,489.5 869.2,489.7 871,490.8 872.1,491.1 873.2,489.6 872.8,488.2 871.9,486 871.7,484.5 872,483.5 873.4,481.7 874.2,481.3 875.2,481.8 876.6,483.4 877.7,484 878.9,482.7 878.7,481.1 878.2,478.5 878.2,476.9 878.6,476 880.2,474.5 880.9,474.3 881.8,475 882.9,477 883.8,477.9 885.1,476.9 885.1,475.2 885,472.4 885.2,470.7 885.7,469.8 887.4,468.7 888.1,468.6 888.8,469.6 889.5,472 890.3,473.1 891.6,472.3 891.9,470.6 892.1,467.6 892.5,465.9 893.2,465.1 894.8,464.3 895.5,464.5 896,465.7 896.4,468.4 896.9,469.7 898.2,469.2 898.7,467.5 899.3,464.4 899.9,462.8 900.6,462.1 902.3,461.7 902.9,462 903.2,463.4 903.2,466.3 903.5,467.9 904.8,467.7 905.4,466 906.4,462.9 907.2,461.4 908,460.8 909.5,460.8 910,461.3 910.1,462.8 909.7,465.8 909.8,467.5 911,467.7 911.9,466.1 913.2,463.1 914.2,461.7 914.9,461.3 916.4,461.7 916.8,462.3 916.7,463.9 915.9,467 915.7,468.8 916.8,469.2 917.8,467.8 919.5,465 920.5,463.8 921.3,463.6 922.6,464.3 922.9,465.1 922.5,466.8 921.4,469.8 921,471.6 922,472.3 923.1,471 925,468.6 926.1,467.5 926.8,467.5 928,468.6 928.1,469.5 927.6,471.2 926.2,474 925.5,475.8 926.3,476.8 927.6,475.8 929.6,473.7 930.8,472.9 931.5,473.1 932.4,474.5 932.4,475.4 931.7,477 930,479.7 929.1,481.4 929.7,482.6 931,481.9 933.2,480.2 934.4,479.6 935,480 935.6,481.7 935.6,482.7 934.7,484.2 932.7,486.5 931.7,488.1 932.1,489.6 933.4,489.1 935.7,487.8 936.9,487.6 937.4,488.1 937.7,490 937.5,491.1 936.5,492.4 934.4,494.3 933.2,495.7 933.4,497.4 934.7,497.2 936.9,496.5 938,496.5 938.4,497.2 938.5,499.3 938.2,500.3 937,501.4 934.8,502.9 933.6,504.1 933.5,505.9 934.7,506 936.9,505.8 937.9,506.1 938.2,506.9 938,509.1 937.5,510.1 936.3,511 934.1,512 932.8,513 932.5,514.8 933.6,515.2 935.6,515.5 936.5,516.1 936.7,517 936.2,519.3 935.6,520.2 934.4,520.8 932.2,521.3 930.8,522 930.3,523.8 931.3,524.5 933.1,525.4 933.9,526.2 933.9,527.2 933.1,529.4 932.5,530.2 931.3,530.6 929.2,530.6 927.8,530.9Z"/></defs>
<use href="#g20" x="-14" y="-7" fill="#fff" stroke="#111" stroke-width="2.0"/>
<use href="#g20" x="-12.6" y="-6.3" fill="#fff"/>
<use href="#g20" x="-11.2" y="-5.6" fill="#fff"/>
<use href="#g20" x="-9.8" y="-4.9" fill="#fff"/>
<use href="#g20" x="-8.4" y="-4.2" fill="#fff"/>
<use href="#g20" x="-7" y="-3.5" fill="#fff"/>
<use href="#g20" x="-5.6" y="-2.8" fill="#fff"/>
<use href="#g20" x="-4.2" y="-2.1" fill="#fff"/>
<use href="#g20" x="-2.8" y="-1.4" fill="#fff"/>
<use href="#g20" x="-1.4" y="-0.7" fill="#fff"/>
<path d="M884,577.7 880.8,577.8 866.8,570.8 869.9,570.7ZM931,472.4 932.8,475.2 918.7,468.2 917,465.4ZM877,577.4 874.1,576.7 860,569.7 862.9,570.4ZM926.3,467 928.5,469.2 914.5,462.2 912.2,460ZM870.5,575.3 867.9,573.9 853.9,566.9 856.5,568.3ZM920.6,463.3 923.2,464.7 909.2,457.7 906.6,456.3ZM864.9,571.6 862.6,569.4 848.6,562.4 850.8,564.6ZM914.2,461.2 917.1,461.9 903,454.9 900.1,454.2ZM860.1,566.2 858.4,563.4 844.3,556.4 846.1,559.2ZM907.2,460.9 910.3,460.8 896.3,453.8 893.1,453.9ZM856.4,559.4 855.2,556.1 841.2,549.1 842.4,552.4ZM899.8,462.4 903.1,461.5 889,454.5 885.8,455.4ZM854,551.4 853.3,547.6 839.2,540.6 839.9,544.4ZM892.3,465.6 895.6,464 881.6,457 878.3,458.6ZM884.9,470.4 888.2,468.1 874.1,461.1 870.9,463.4ZM852.8,542.5 852.6,538.3 838.6,531.3 838.7,535.5ZM877.9,476.7 880.9,473.8 866.9,466.8 863.8,469.7ZM852.8,532.8 853.3,528.4 839.3,521.4 838.8,525.8ZM871.4,484.4 874.1,480.9 860.1,473.9 857.3,477.4ZM854.2,522.7 855.2,518.2 841.2,511.2 840.2,515.7ZM865.6,493 868,489.1 854,482.1 851.5,486ZM856.9,512.5 858.4,508.1 844.4,501.1 842.8,505.5ZM860.7,502.5 862.7,498.3 848.7,491.3 846.7,495.5Z" fill="#fff" stroke="#111" stroke-width="1.5" />
<use href="#g20" fill="#fff" stroke="#111" stroke-width="2.0"/>
<ellipse cx="895.6" cy="519.3" rx="33.3" ry="52.8" transform="rotate(23 895.6 519.3)" fill="none" stroke="#333" stroke-width="1.2" />
<ellipse cx="903.9" cy="482.5" rx="3.7" ry="7.4" transform="rotate(38 903.9 482.5)" fill="#333" stroke="#111" stroke-width="2.2" />
<clipPath id="cl21"><ellipse cx="903.9" cy="482.5" rx="3.7" ry="7.4" transform="rotate(38 903.9 482.5)" /></clipPath>
<g clip-path="url(#cl21)">
<ellipse cx="905.9" cy="483.5" rx="3.5" ry="7" transform="rotate(38 905.9 483.5)" fill="#fff" stroke="#111" stroke-width="1.0" />
</g>
<ellipse cx="921.5" cy="517.9" rx="3.7" ry="7.4" transform="rotate(38 921.5 517.9)" fill="#333" stroke="#111" stroke-width="2.2" />
<clipPath id="cl22"><ellipse cx="921.5" cy="517.9" rx="3.7" ry="7.4" transform="rotate(38 921.5 517.9)" /></clipPath>
<g clip-path="url(#cl22)">
<ellipse cx="923.5" cy="518.9" rx="3.5" ry="7" transform="rotate(38 923.5 518.9)" fill="#fff" stroke="#111" stroke-width="1.0" />
</g>
<ellipse cx="888.3" cy="556.1" rx="3.7" ry="7.4" transform="rotate(38 888.3 556.1)" fill="#333" stroke="#111" stroke-width="2.2" />
<clipPath id="cl23"><ellipse cx="888.3" cy="556.1" rx="3.7" ry="7.4" transform="rotate(38 888.3 556.1)" /></clipPath>
<g clip-path="url(#cl23)">
<ellipse cx="890.3" cy="557.1" rx="3.5" ry="7" transform="rotate(38 890.3 557.1)" fill="#fff" stroke="#111" stroke-width="1.0" />
</g>
<ellipse cx="869.4" cy="522.3" rx="3.7" ry="7.4" transform="rotate(38 869.4 522.3)" fill="#333" stroke="#111" stroke-width="2.2" />
<clipPath id="cl24"><ellipse cx="869.4" cy="522.3" rx="3.7" ry="7.4" transform="rotate(38 869.4 522.3)" /></clipPath>
<g clip-path="url(#cl24)">
<ellipse cx="871.4" cy="523.3" rx="3.5" ry="7" transform="rotate(38 871.4 523.3)" fill="#fff" stroke="#111" stroke-width="1.0" />
</g>
<ellipse cx="911.7" cy="500.6" rx="2.7" ry="4.9" transform="rotate(33 911.7 500.6)" fill="#2a2a2a" stroke="#111" stroke-width="1.2" />
<ellipse cx="904.9" cy="535.7" rx="2.7" ry="4.9" transform="rotate(33 904.9 535.7)" fill="#2a2a2a" stroke="#111" stroke-width="1.2" />
<ellipse cx="879.8" cy="538.7" rx="2.7" ry="4.9" transform="rotate(33 879.8 538.7)" fill="#2a2a2a" stroke="#111" stroke-width="1.2" />
<ellipse cx="885.6" cy="503.7" rx="2.7" ry="4.9" transform="rotate(33 885.6 503.7)" fill="#2a2a2a" stroke="#111" stroke-width="1.2" />
<ellipse cx="895.6" cy="519.3" rx="14.7" ry="23.3" transform="rotate(23 895.6 519.3)" fill="#fff" stroke="#111" stroke-width="2.6" />
<ellipse cx="892.6" cy="518.3" rx="12" ry="19" transform="rotate(23 892.6 518.3)" fill="none" stroke="#111" stroke-width="1.3" />
<line x1="895.6" y1="519.3" x2="935" y2="546" stroke="#fff" stroke-width="1.8" opacity="0.6"/>
<line x1="895.6" y1="519.3" x2="935" y2="546" stroke="#a0a0a0" stroke-width="0.75" />
<path d="M925.5,555 925.6,554.1 925.6,553.2 925.8,552.2 926,551.1 926.3,550.1 926.6,549.1 926.9,548 927.3,546.9 927.8,545.9 928.3,544.8 928.8,543.7 929.4,542.7 930,541.7 930.6,540.7 931.3,539.7 932,538.8 932.8,537.9 933.5,537.1 934.2,536.3 935,535.5 935.8,534.9 936.6,534.2 937.4,533.7 938.1,533.2 938.9,532.7 939.7,532.4 940.4,532.1 941.2,531.9 941.9,531.7 942.6,531.6 943.2,531.6 943.9,531.7 944.4,531.9 945,532.1 975.7,548.8 976.2,549.1 976.7,549.5 977.1,549.9 977.5,550.5 977.9,551 978.1,551.6 978.4,552.3 978.5,553.1 978.6,553.9 978.7,554.7 978.7,555.6 978.7,556.5 978.6,557.5 978.4,558.5 978.2,559.5 978,560.5 977.7,561.6 977.3,562.7 976.9,563.7 976.5,564.8 976,565.9 975.4,566.9 974.9,568 974.2,569 973.6,570 972.9,570.9 972.2,571.9 971.5,572.7 970.8,573.6 970,574.4 969.2,575.1 968.5,575.8 967.7,576.4 966.9,577 966.1,577.5 965.3,577.9 964.6,578.3 963.8,578.6 963.1,578.8 962.4,579 961.7,579 961,579 960.4,578.9 959.8,578.8 959.2,578.6 928.5,561.8 928,561.5 927.5,561.1 927.1,560.7 926.7,560.2 926.4,559.6 926.1,559 925.9,558.3 925.7,557.6 925.6,556.8 925.5,555.9Z" fill="#fff" stroke="#111" stroke-width="1.7" />
<ellipse cx="967.5" cy="563.7" rx="8.5" ry="17" transform="rotate(30 967.5 563.7)" fill="#fff" stroke="#111" stroke-width="1.7" />
<path d="M954.3,573.2 954.3,572.1 954.4,571 954.6,569.8 954.9,568.6 955.1,567.4 955.5,566.2 955.9,564.9 956.4,563.7 956.9,562.4 957.5,561.2 958.1,559.9 958.8,558.7 959.5,557.5 960.3,556.3 961.1,555.2 961.9,554.1 962.8,553.1 963.6,552.1 964.5,551.2 965.4,550.3 966.4,549.5 967.3,548.7 968.2,548.1 969.1,547.5 970,547 970.9,546.5 971.8,546.2 972.7,546 973.5,545.8 974.3,545.7 975.1,545.7 975.8,545.8 976.5,546 977.2,546.2 1004,560.8 1004.6,561.2 1005.1,561.6 1005.6,562.1 1006.1,562.7 1006.5,563.4 1006.8,564.1 1007,564.9 1007.3,565.8 1007.4,566.7 1007.5,567.7 1007.5,568.8 1007.5,569.9 1007.3,571 1007.1,572.2 1006.9,573.4 1006.6,574.6 1006.2,575.8 1005.8,577.1 1005.4,578.3 1004.8,579.6 1004.2,580.8 1003.6,582.1 1002.9,583.3 1002.2,584.5 1001.5,585.7 1000.7,586.8 999.8,587.9 999,588.9 998.1,589.9 997.2,590.9 996.3,591.7 995.4,592.5 994.5,593.3 993.5,593.9 992.6,594.5 991.7,595 990.8,595.5 989.9,595.8 989.1,596.1 988.2,596.2 987.4,596.3 986.7,596.3 985.9,596.2 985.2,596 984.6,595.8 957.8,581.2 957.2,580.8 956.6,580.4 956.1,579.9 955.7,579.3 955.3,578.6 955,577.9 954.7,577.1 954.5,576.2 954.4,575.3 954.3,574.3Z" fill="#2b2b2b" stroke="#111" stroke-width="1.7" />
<clipPath id="cl25"><path d="M954.3,573.2 954.3,572.1 954.4,571 954.6,569.8 954.9,568.6 955.1,567.4 955.5,566.2 955.9,564.9 956.4,563.7 956.9,562.4 957.5,561.2 958.1,559.9 958.8,558.7 959.5,557.5 960.3,556.3 961.1,555.2 961.9,554.1 962.8,553.1 963.6,552.1 964.5,551.2 965.4,550.3 966.4,549.5 967.3,548.7 968.2,548.1 969.1,547.5 970,547 970.9,546.5 971.8,546.2 972.7,546 973.5,545.8 974.3,545.7 975.1,545.7 975.8,545.8 976.5,546 977.2,546.2 1004,560.8 1004.6,561.2 1005.1,561.6 1005.6,562.1 1006.1,562.7 1006.5,563.4 1006.8,564.1 1007,564.9 1007.3,565.8 1007.4,566.7 1007.5,567.7 1007.5,568.8 1007.5,569.9 1007.3,571 1007.1,572.2 1006.9,573.4 1006.6,574.6 1006.2,575.8 1005.8,577.1 1005.4,578.3 1004.8,579.6 1004.2,580.8 1003.6,582.1 1002.9,583.3 1002.2,584.5 1001.5,585.7 1000.7,586.8 999.8,587.9 999,588.9 998.1,589.9 997.2,590.9 996.3,591.7 995.4,592.5 994.5,593.3 993.5,593.9 992.6,594.5 991.7,595 990.8,595.5 989.9,595.8 989.1,596.1 988.2,596.2 987.4,596.3 986.7,596.3 985.9,596.2 985.2,596 984.6,595.8 957.8,581.2 957.2,580.8 956.6,580.4 956.1,579.9 955.7,579.3 955.3,578.6 955,577.9 954.7,577.1 954.5,576.2 954.4,575.3 954.3,574.3Z"/></clipPath>
<g clip-path="url(#cl25)">
<path d="M1002.6,583.1 975.8,568.5M999.2,588 972.4,573.4M995.4,592 968.6,577.4M991.4,594.6 964.6,580M987.7,595.6 960.9,581M984.7,594.9 957.9,580.3M982.6,592.6 955.8,578M981.6,588.9 954.8,574.3M981.9,584.2 955.1,569.6M983.4,578.9 956.6,564.3M986,573.5 959.2,558.9M989.3,568.6 962.5,554M993.2,564.6 966.4,550M997.1,562 970.4,547.4M1000.8,561 974,546.4M1003.9,561.7 977.1,547.1M1006,564 979.2,549.4M1006.9,567.7 980.1,553.1M1006.6,572.4 979.9,557.8M1005.1,577.7 978.4,563.1" fill="none" stroke="#d8d8d8" stroke-width="1.3" />
</g>
<ellipse cx="994.3" cy="578.3" rx="10" ry="20" transform="rotate(30 994.3 578.3)" fill="#2b2b2b" stroke="#111" stroke-width="1.7" />
<path d="M983,586.4 983.1,585.5 983.2,584.5 983.3,583.5 983.5,582.5 983.8,581.5 984.1,580.4 984.5,579.3 984.9,578.3 985.3,577.2 985.8,576.1 986.3,575.1 986.9,574 987.5,573 988.2,572 988.8,571.1 989.5,570.2 990.3,569.3 991,568.4 991.8,567.6 992.5,566.9 993.3,566.2 994.1,565.6 994.9,565 995.7,564.5 996.4,564.1 997.2,563.7 998,563.4 998.7,563.2 999.4,563.1 1000.1,563 1000.7,563 1001.4,563.1 1002,563.2 1002.5,563.4 1030.7,578.8 1031.2,579.1 1031.7,579.5 1032.1,579.9 1032.5,580.4 1032.8,581 1033.1,581.6 1033.3,582.3 1033.5,583 1033.6,583.8 1033.7,584.7 1033.7,585.6 1033.7,586.5 1033.6,587.5 1033.4,588.5 1033.2,589.5 1033,590.5 1032.6,591.6 1032.3,592.6 1031.9,593.7 1031.4,594.8 1030.9,595.8 1030.4,596.9 1029.8,597.9 1029.2,598.9 1028.6,599.9 1027.9,600.9 1027.2,601.8 1026.5,602.7 1025.7,603.5 1025,604.3 1024.2,605.1 1023.4,605.8 1022.6,606.4 1021.9,607 1021.1,607.5 1020.3,607.9 1019.5,608.2 1018.8,608.5 1018,608.8 1017.3,608.9 1016.6,609 1016,609 1015.4,608.9 1014.8,608.8 1014.2,608.5 986,593.2 985.5,592.9 985,592.5 984.6,592.1 984.2,591.6 983.9,591 983.6,590.4 983.4,589.7 983.2,588.9 983.1,588.1 983,587.3Z" fill="#fff" stroke="#111" stroke-width="1.7" />
<ellipse cx="1022.5" cy="593.7" rx="8.5" ry="17" transform="rotate(30 1022.5 593.7)" fill="#fff" stroke="#111" stroke-width="1.7" />
<path d="M1008.6,603.7 1008.6,602.5 1008.7,601.3 1008.9,600.1 1009.2,598.9 1009.5,597.6 1009.9,596.3 1010.3,595 1010.8,593.6 1011.4,592.3 1012,591 1012.6,589.7 1013.4,588.4 1014.1,587.2 1014.9,585.9 1015.7,584.7 1016.6,583.6 1017.5,582.5 1018.4,581.5 1019.4,580.5 1020.3,579.6 1021.3,578.7 1022.2,578 1023.2,577.2 1024.2,576.6 1025.1,576.1 1026.1,575.6 1027,575.3 1027.9,575 1028.8,574.8 1029.6,574.7 1030.4,574.7 1031.2,574.8 1032,575 1032.6,575.3 1064.6,592.7 1065.2,593.1 1065.8,593.5 1066.3,594.1 1066.8,594.7 1067.2,595.4 1067.6,596.2 1067.8,597 1068.1,598 1068.2,598.9 1068.3,600 1068.3,601.1 1068.2,602.2 1068.1,603.4 1068,604.6 1067.7,605.9 1067.4,607.2 1067,608.5 1066.5,609.8 1066,611.1 1065.5,612.4 1064.9,613.8 1064.2,615 1063.5,616.3 1062.8,617.6 1062,618.8 1061.1,620 1060.3,621.1 1059.4,622.2 1058.5,623.3 1057.5,624.2 1056.6,625.2 1055.6,626 1054.6,626.8 1053.7,627.5 1052.7,628.1 1051.7,628.6 1050.8,629.1 1049.9,629.5 1049,629.7 1048.1,629.9 1047.2,630 1046.4,630 1045.7,629.9 1044.9,629.7 1044.2,629.4 1012.3,612 1011.6,611.6 1011.1,611.2 1010.5,610.7 1010.1,610 1009.7,609.3 1009.3,608.6 1009,607.7 1008.8,606.8 1008.7,605.8 1008.6,604.8Z" fill="#2b2b2b" stroke="#111" stroke-width="1.7" />
<clipPath id="cl26"><path d="M1008.6,603.7 1008.6,602.5 1008.7,601.3 1008.9,600.1 1009.2,598.9 1009.5,597.6 1009.9,596.3 1010.3,595 1010.8,593.6 1011.4,592.3 1012,591 1012.6,589.7 1013.4,588.4 1014.1,587.2 1014.9,585.9 1015.7,584.7 1016.6,583.6 1017.5,582.5 1018.4,581.5 1019.4,580.5 1020.3,579.6 1021.3,578.7 1022.2,578 1023.2,577.2 1024.2,576.6 1025.1,576.1 1026.1,575.6 1027,575.3 1027.9,575 1028.8,574.8 1029.6,574.7 1030.4,574.7 1031.2,574.8 1032,575 1032.6,575.3 1064.6,592.7 1065.2,593.1 1065.8,593.5 1066.3,594.1 1066.8,594.7 1067.2,595.4 1067.6,596.2 1067.8,597 1068.1,598 1068.2,598.9 1068.3,600 1068.3,601.1 1068.2,602.2 1068.1,603.4 1068,604.6 1067.7,605.9 1067.4,607.2 1067,608.5 1066.5,609.8 1066,611.1 1065.5,612.4 1064.9,613.8 1064.2,615 1063.5,616.3 1062.8,617.6 1062,618.8 1061.1,620 1060.3,621.1 1059.4,622.2 1058.5,623.3 1057.5,624.2 1056.6,625.2 1055.6,626 1054.6,626.8 1053.7,627.5 1052.7,628.1 1051.7,628.6 1050.8,629.1 1049.9,629.5 1049,629.7 1048.1,629.9 1047.2,630 1046.4,630 1045.7,629.9 1044.9,629.7 1044.2,629.4 1012.3,612 1011.6,611.6 1011.1,611.2 1010.5,610.7 1010.1,610 1009.7,609.3 1009.3,608.6 1009,607.7 1008.8,606.8 1008.7,605.8 1008.6,604.8Z"/></clipPath>
<g clip-path="url(#cl26)">
<path d="M1063.1,616.1 1031.2,598.7M1059.6,621.3 1027.6,603.8M1055.6,625.4 1023.6,608M1051.4,628.2 1019.4,610.7M1047.5,629.2 1015.6,611.8M1044.3,628.5 1012.4,611.1M1042.1,626.1 1010.2,608.7M1041.1,622.2 1009.2,604.8M1041.4,617.3 1009.5,599.8M1043,611.7 1011,594.3M1045.7,606 1013.7,588.6M1049.2,600.9 1017.3,583.5M1053.3,596.7 1021.3,579.3M1057.4,594 1025.5,576.6M1061.3,592.9 1029.3,575.5M1064.5,593.6 1032.5,576.2M1066.7,596 1034.7,578.6M1067.7,599.9 1035.7,582.5M1067.4,604.9 1035.4,587.5M1065.8,610.5 1033.9,593.1" fill="none" stroke="#d8d8d8" stroke-width="1.3" />
</g>
<ellipse cx="1054.4" cy="611.1" rx="10.5" ry="21" transform="rotate(30 1054.4 611.1)" fill="#2b2b2b" stroke="#111" stroke-width="1.7" />
<path d="M1043.2,619.2 1043.2,618.2 1043.3,617.3 1043.5,616.3 1043.7,615.3 1043.9,614.2 1044.2,613.2 1044.6,612.1 1045,611 1045.5,610 1046,608.9 1046.5,607.9 1047.1,606.8 1047.7,605.8 1048.3,604.8 1049,603.9 1049.7,602.9 1050.4,602 1051.2,601.2 1051.9,600.4 1052.7,599.7 1053.5,599 1054.2,598.4 1055,597.8 1055.8,597.3 1056.6,596.9 1057.3,596.5 1058.1,596.2 1058.8,596 1059.5,595.8 1060.2,595.8 1060.9,595.8 1061.5,595.8 1062.1,596 1062.7,596.2 1075,602.9 1075.5,603.2 1075.9,603.6 1076.4,604 1076.7,604.5 1077.1,605.1 1077.3,605.7 1077.6,606.4 1077.8,607.1 1077.9,608 1077.9,608.8 1078,609.7 1077.9,610.6 1077.8,611.6 1077.7,612.6 1077.5,613.6 1077.2,614.6 1076.9,615.7 1076.5,616.7 1076.1,617.8 1075.7,618.9 1075.2,619.9 1074.7,621 1074.1,622 1073.5,623 1072.8,624 1072.1,625 1071.4,625.9 1070.7,626.8 1070,627.6 1069.2,628.4 1068.5,629.2 1067.7,629.9 1066.9,630.5 1066.1,631.1 1065.3,631.6 1064.5,632 1063.8,632.4 1063,632.6 1062.3,632.9 1061.6,633 1060.9,633.1 1060.2,633.1 1059.6,633 1059,632.9 1058.5,632.6 1046.2,625.9 1045.7,625.6 1045.2,625.3 1044.8,624.8 1044.4,624.3 1044.1,623.8 1043.8,623.1 1043.5,622.5 1043.4,621.7 1043.2,620.9 1043.2,620.1Z" fill="#fff" stroke="#111" stroke-width="1.7" />
<ellipse cx="1066.7" cy="617.8" rx="8.5" ry="17" transform="rotate(30 1066.7 617.8)" fill="#fff" stroke="#111" stroke-width="1.7" />
<path d="M1052.2,628.3 1052.2,627.1 1052.3,625.8 1052.5,624.5 1052.8,623.2 1053.1,621.9 1053.5,620.5 1054,619.1 1054.5,617.7 1055.1,616.4 1055.8,615 1056.4,613.6 1057.2,612.3 1058,611 1058.8,609.7 1059.7,608.4 1060.6,607.2 1061.5,606.1 1062.5,605 1063.5,604 1064.5,603 1065.5,602.1 1066.5,601.3 1067.5,600.6 1068.5,599.9 1069.5,599.4 1070.5,598.9 1071.5,598.5 1072.4,598.2 1073.3,598 1074.2,598 1075.1,598 1075.9,598.1 1076.7,598.3 1077.4,598.5 1082.6,601.4 1083.3,601.8 1083.9,602.3 1084.5,602.8 1085,603.5 1085.4,604.2 1085.8,605 1086,605.9 1086.3,606.9 1086.4,607.9 1086.5,609 1086.5,610.2 1086.5,611.4 1086.3,612.6 1086.2,613.9 1085.9,615.2 1085.5,616.6 1085.2,617.9 1084.7,619.3 1084.2,620.7 1083.6,622.1 1082.9,623.5 1082.2,624.8 1081.5,626.1 1080.7,627.5 1079.9,628.8 1079,630 1078.1,631.2 1077.2,632.3 1076.2,633.4 1075.2,634.5 1074.2,635.4 1073.2,636.3 1072.2,637.1 1071.2,637.8 1070.2,638.5 1069.2,639 1068.2,639.5 1067.2,639.9 1066.3,640.2 1065.3,640.4 1064.5,640.5 1063.6,640.5 1062.8,640.4 1062,640.2 1061.3,639.9 1056,637 1055.4,636.6 1054.8,636.1 1054.2,635.6 1053.7,634.9 1053.3,634.2 1052.9,633.4 1052.7,632.5 1052.4,631.5 1052.3,630.5 1052.2,629.4Z" fill="#fff" stroke="#111" stroke-width="1.7" />
<ellipse cx="1072" cy="620.7" rx="11" ry="22" transform="rotate(30 1072 620.7)" fill="#fff" stroke="#111" stroke-width="1.7" />
<path d="M1062.1,627.8 1062.1,627 1062.2,626.1 1062.3,625.2 1062.5,624.4 1062.7,623.4 1063,622.5 1063.3,621.6 1063.7,620.6 1064.1,619.7 1064.5,618.7 1065,617.8 1065.5,616.9 1066,616 1066.6,615.1 1067.2,614.3 1067.8,613.5 1068.4,612.7 1069.1,611.9 1069.8,611.2 1070.5,610.6 1071.1,610 1071.8,609.4 1072.5,608.9 1073.2,608.5 1073.9,608.1 1074.6,607.8 1075.2,607.5 1075.9,607.3 1076.5,607.2 1077.1,607.1 1077.7,607.1 1078.2,607.2 1078.8,607.3 1079.2,607.5 1102.1,620 1102.5,620.2 1103,620.6 1103.3,621 1103.7,621.4 1104,621.9 1104.2,622.5 1104.4,623.1 1104.5,623.7 1104.7,624.4 1104.7,625.2 1104.7,626 1104.7,626.8 1104.6,627.6 1104.5,628.5 1104.3,629.4 1104.1,630.3 1103.8,631.2 1103.5,632.2 1103.1,633.1 1102.7,634.1 1102.3,635 1101.8,635.9 1101.3,636.8 1100.8,637.7 1100.2,638.6 1099.6,639.5 1099,640.3 1098.3,641.1 1097.7,641.8 1097,642.5 1096.3,643.2 1095.7,643.8 1095,644.3 1094.3,644.8 1093.6,645.2 1092.9,645.6 1092.2,646 1091.6,646.2 1090.9,646.4 1090.3,646.5 1089.7,646.6 1089.1,646.6 1088.5,646.5 1088,646.4 1087.5,646.2 1064.7,633.8 1064.3,633.5 1063.8,633.2 1063.5,632.8 1063.1,632.4 1062.8,631.9 1062.6,631.3 1062.4,630.7 1062.2,630 1062.1,629.3 1062.1,628.6Z" fill="#fff" stroke="#111" stroke-width="1.7" />
<ellipse cx="1094.8" cy="633.1" rx="7.5" ry="15" transform="rotate(30 1094.8 633.1)" fill="#fff" stroke="#111" stroke-width="1.7" />
<path d="M1084.2,640.7 1084.3,639.8 1084.4,638.9 1084.5,638 1084.7,637 1084.9,636.1 1085.2,635.1 1085.6,634.1 1085.9,633.1 1086.4,632.1 1086.8,631.1 1087.3,630.1 1087.9,629.1 1088.5,628.1 1089.1,627.2 1089.7,626.3 1090.3,625.4 1091,624.6 1091.7,623.8 1092.5,623 1093.2,622.4 1093.9,621.7 1094.6,621.1 1095.4,620.6 1096.1,620.1 1096.8,619.7 1097.6,619.4 1098.3,619.1 1099,618.9 1099.6,618.8 1100.3,618.7 1100.9,618.7 1101.5,618.8 1102,618.9 1102.6,619.1 1131.5,634.9 1132,635.2 1132.5,635.5 1132.9,635.9 1133.2,636.4 1133.5,636.9 1133.8,637.5 1134,638.2 1134.2,638.9 1134.3,639.6 1134.4,640.4 1134.4,641.3 1134.3,642.1 1134.2,643 1134.1,644 1133.9,644.9 1133.7,645.9 1133.4,646.9 1133,647.9 1132.7,648.9 1132.2,649.9 1131.8,650.9 1131.3,651.9 1130.7,652.9 1130.1,653.8 1129.5,654.8 1128.9,655.7 1128.2,656.5 1127.6,657.4 1126.9,658.2 1126.2,658.9 1125.4,659.6 1124.7,660.3 1124,660.9 1123.2,661.4 1122.5,661.9 1121.8,662.3 1121,662.6 1120.3,662.9 1119.6,663.1 1119,663.2 1118.3,663.3 1117.7,663.3 1117.1,663.2 1116.5,663.1 1116,662.9 1087.1,647.1 1086.6,646.8 1086.1,646.5 1085.7,646 1085.4,645.6 1085.1,645 1084.8,644.4 1084.6,643.8 1084.4,643.1 1084.3,642.3 1084.2,641.5Z" fill="#fff" stroke="#111" stroke-width="1.7" />
<clipPath id="cl27"><path d="M1084.2,640.7 1084.3,639.8 1084.4,638.9 1084.5,638 1084.7,637 1084.9,636.1 1085.2,635.1 1085.6,634.1 1085.9,633.1 1086.4,632.1 1086.8,631.1 1087.3,630.1 1087.9,629.1 1088.5,628.1 1089.1,627.2 1089.7,626.3 1090.3,625.4 1091,624.6 1091.7,623.8 1092.5,623 1093.2,622.4 1093.9,621.7 1094.6,621.1 1095.4,620.6 1096.1,620.1 1096.8,619.7 1097.6,619.4 1098.3,619.1 1099,618.9 1099.6,618.8 1100.3,618.7 1100.9,618.7 1101.5,618.8 1102,618.9 1102.6,619.1 1131.5,634.9 1132,635.2 1132.5,635.5 1132.9,635.9 1133.2,636.4 1133.5,636.9 1133.8,637.5 1134,638.2 1134.2,638.9 1134.3,639.6 1134.4,640.4 1134.4,641.3 1134.3,642.1 1134.2,643 1134.1,644 1133.9,644.9 1133.7,645.9 1133.4,646.9 1133,647.9 1132.7,648.9 1132.2,649.9 1131.8,650.9 1131.3,651.9 1130.7,652.9 1130.1,653.8 1129.5,654.8 1128.9,655.7 1128.2,656.5 1127.6,657.4 1126.9,658.2 1126.2,658.9 1125.4,659.6 1124.7,660.3 1124,660.9 1123.2,661.4 1122.5,661.9 1121.8,662.3 1121,662.6 1120.3,662.9 1119.6,663.1 1119,663.2 1118.3,663.3 1117.7,663.3 1117.1,663.2 1116.5,663.1 1116,662.9 1087.1,647.1 1086.6,646.8 1086.1,646.5 1085.7,646 1085.4,645.6 1085.1,645 1084.8,644.4 1084.6,643.8 1084.4,643.1 1084.3,642.3 1084.2,641.5Z"/></clipPath>
<g clip-path="url(#cl27)">
<path d="M1114.3,655.2 1094,644.1M1115.3,650.3 1095,639.3M1117.6,645.3 1097.3,634.2M1120.8,640.8 1100.5,629.7M1124.5,637.5 1104.2,626.5M1128.1,636 1107.8,624.9M1131,636.4 1110.7,625.4M1132.8,638.7 1112.5,627.7M1133.3,642.6 1113,631.6" fill="none" stroke="#222" stroke-width="2.2" />
</g>
<ellipse cx="1123.8" cy="648.9" rx="8" ry="16" transform="rotate(30 1123.8 648.9)" fill="#fff" stroke="#111" stroke-width="1.7" />
<ellipse cx="1124" cy="649" rx="9.3" ry="16" transform="rotate(27 1124 649)" fill="#fff" stroke="#111" stroke-width="1.7" />
<ellipse cx="1124" cy="649" rx="2.8" ry="4.8" transform="rotate(27 1124 649)" fill="#fff" stroke="#111" stroke-width="1.3" />
<path d="M955.4,537.7 956.4,538.6 957.2,539.8 957.8,541.3 958.1,543 958.1,545 957.8,547.2 957.3,549.6 956.5,551.9 955.5,554.3 954.2,556.7 952.8,559 951.2,561 949.6,562.9 947.8,564.5 946,565.9 944.3,566.9 942.6,567.5 941,567.8 939.6,567.7 938.4,567.2" fill="none" stroke="#111" stroke-width="1.2" />
<path d="M36.6,284.9 36.6,284 36.7,283 36.9,282.1 37.1,281.1 37.3,280.1 37.6,279 38,278 38.4,277 38.8,275.9 39.3,274.9 39.8,273.9 40.4,272.9 41,271.9 41.6,270.9 42.2,270 42.9,269.1 43.6,268.2 44.3,267.4 45.1,266.6 45.8,265.9 46.6,265.3 47.3,264.7 48.1,264.1 48.9,263.6 49.6,263.2 50.3,262.9 51.1,262.6 51.8,262.4 52.5,262.2 53.1,262.1 53.8,262.1 54.4,262.2 55,262.4 55.5,262.6 99.4,286.4 99.9,286.7 100.4,287.1 100.8,287.5 101.2,288 101.5,288.5 101.8,289.1 102,289.8 102.2,290.5 102.3,291.3 102.3,292.1 102.4,293 102.3,293.9 102.2,294.8 102.1,295.8 101.9,296.8 101.6,297.8 101.3,298.8 101,299.8 100.6,300.9 100.2,301.9 99.7,302.9 99.2,304 98.6,305 98,306 97.4,306.9 96.7,307.9 96,308.8 95.3,309.6 94.6,310.4 93.9,311.2 93.1,311.9 92.4,312.6 91.6,313.2 90.8,313.8 90.1,314.2 89.3,314.6 88.6,315 87.9,315.3 87.2,315.5 86.5,315.6 85.8,315.7 85.2,315.7 84.6,315.6 84,315.5 83.5,315.3 39.5,291.4 39,291.1 38.5,290.8 38.1,290.4 37.8,289.9 37.5,289.3 37.2,288.7 37,288 36.8,287.3 36.7,286.5 36.6,285.7Z" fill="#fff" stroke="#111" stroke-width="1.7" />
<clipPath id="cl28"><path d="M36.6,284.9 36.6,284 36.7,283 36.9,282.1 37.1,281.1 37.3,280.1 37.6,279 38,278 38.4,277 38.8,275.9 39.3,274.9 39.8,273.9 40.4,272.9 41,271.9 41.6,270.9 42.2,270 42.9,269.1 43.6,268.2 44.3,267.4 45.1,266.6 45.8,265.9 46.6,265.3 47.3,264.7 48.1,264.1 48.9,263.6 49.6,263.2 50.3,262.9 51.1,262.6 51.8,262.4 52.5,262.2 53.1,262.1 53.8,262.1 54.4,262.2 55,262.4 55.5,262.6 99.4,286.4 99.9,286.7 100.4,287.1 100.8,287.5 101.2,288 101.5,288.5 101.8,289.1 102,289.8 102.2,290.5 102.3,291.3 102.3,292.1 102.4,293 102.3,293.9 102.2,294.8 102.1,295.8 101.9,296.8 101.6,297.8 101.3,298.8 101,299.8 100.6,300.9 100.2,301.9 99.7,302.9 99.2,304 98.6,305 98,306 97.4,306.9 96.7,307.9 96,308.8 95.3,309.6 94.6,310.4 93.9,311.2 93.1,311.9 92.4,312.6 91.6,313.2 90.8,313.8 90.1,314.2 89.3,314.6 88.6,315 87.9,315.3 87.2,315.5 86.5,315.6 85.8,315.7 85.2,315.7 84.6,315.6 84,315.5 83.5,315.3 39.5,291.4 39,291.1 38.5,290.8 38.1,290.4 37.8,289.9 37.5,289.3 37.2,288.7 37,288 36.8,287.3 36.7,286.5 36.6,285.7Z"/></clipPath>
<g clip-path="url(#cl28)">
<path d="M97.9,304.6 67.1,287.9M95.3,308.4 64.5,291.7M92.3,311.4 61.5,294.7M89.2,313.4 58.5,296.7M86.4,314.2 55.6,297.5M84,313.7 53.3,297M82.4,311.9 51.6,295.2M81.7,309.1 50.9,292.4M81.9,305.4 51.1,288.7M83,301.3 52.3,284.6M85,297.1 54.3,280.4M87.6,293.3 56.9,276.7M90.6,290.3 59.8,273.6M93.7,288.3 62.9,271.6M96.5,287.5 65.8,270.8M98.9,288 68.1,271.3M100.5,289.8 69.7,273.1M101.2,292.6 70.5,275.9M101,296.3 70.2,279.6M99.9,300.4 69.1,283.7" fill="none" stroke="#222" stroke-width="2.2" />
</g>
<ellipse cx="91.4" cy="300.9" rx="8.2" ry="16.5" transform="rotate(30 91.4 300.9)" fill="#fff" stroke="#111" stroke-width="1.7" />
<path d="M81.1,308.3 81.1,307.5 81.2,306.6 81.3,305.7 81.5,304.7 81.8,303.8 82,302.8 82.4,301.8 82.8,300.8 83.2,299.8 83.6,298.9 84.1,297.9 84.7,296.9 85.2,296 85.8,295.1 86.4,294.2 87.1,293.3 87.7,292.5 88.4,291.7 89.1,291 89.8,290.3 90.6,289.7 91.3,289.1 92,288.6 92.7,288.1 93.4,287.7 94.2,287.4 94.8,287.1 95.5,286.9 96.2,286.8 96.8,286.7 97.4,286.7 98,286.8 98.5,286.9 99,287.1 143,311 143.5,311.2 143.9,311.6 144.3,312 144.7,312.5 144.9,313 145.2,313.6 145.4,314.2 145.6,314.9 145.7,315.6 145.8,316.4 145.8,317.2 145.7,318.1 145.6,319 145.5,319.9 145.3,320.8 145.1,321.8 144.8,322.8 144.5,323.7 144.1,324.7 143.7,325.7 143.2,326.7 142.7,327.7 142.2,328.6 141.6,329.6 141,330.5 140.4,331.4 139.8,332.2 139.1,333 138.4,333.8 137.7,334.6 137,335.2 136.3,335.9 135.6,336.4 134.8,337 134.1,337.4 133.4,337.8 132.7,338.2 132,338.4 131.3,338.6 130.7,338.8 130,338.9 129.4,338.9 128.8,338.8 128.3,338.6 127.8,338.4 83.8,314.6 83.4,314.3 82.9,314 82.5,313.6 82.2,313.1 81.9,312.6 81.6,312 81.4,311.4 81.2,310.7 81.1,309.9 81.1,309.1Z" fill="#fff" stroke="#111" stroke-width="1.7" />
<ellipse cx="135.4" cy="324.7" rx="7.8" ry="15.7" transform="rotate(30 135.4 324.7)" fill="#fff" stroke="#111" stroke-width="1.7" />
<defs><path id="g29" d="M171.1,344.2 171.4,345.2 172.2,346.6 172.2,347.7 171.8,348.8 170.1,351.1 169.3,351.9 168.4,351.8 167.3,350.9 166.5,350.7 165.2,352.1 165,353.5 164.9,355.6 164.4,357.1 163.7,358.1 161.8,359.6 161,359.8 160.5,359.1 160.3,357.2 159.8,356.3 158.5,356.9 157.9,358.4 156.9,360.9 156.1,362.3 155.2,362.9 153.5,363.3 153,362.9 153,361.7 153.6,359.3 153.7,357.9 152.7,357.7 151.7,358.9 150.1,361.2 149,362.2 148.3,362.3 147.2,361.4 147,360.6 147.5,359.2 148.8,356.7 149.5,355.2 149,354.1 147.9,354.9 146,356.4 145,356.8 144.6,356.3 144.2,354.4 144.5,353.3 145.3,352 147.1,350.1 148.1,348.7 148.2,347.1 147.3,347.2 145.6,347.6 144.9,347.3 144.8,346.4 145.4,343.9 145.9,342.8 147,341.8 148.8,340.9 149.9,340.1 150.7,338.3 150.1,337.6 149,336.8 148.6,335.9 148.9,334.8 150.3,332.2 151.1,331.4 152.1,331 153.5,331.3 154.5,331.2 155.7,329.6 155.6,328.4 155.3,326.5 155.5,325.2 156.1,324.1 157.9,322.2 158.7,321.7 159.5,322.1 160.2,323.5 160.8,324.1 162.2,323 162.6,321.6 163.2,319.1 163.8,317.7 164.6,316.9 166.5,315.9 167.1,316 167.4,317 167.2,319.2 167.4,320.4 168.6,320.1 169.4,318.7 170.7,316.3 171.7,315 172.5,314.7 174,315 174.4,315.5 174.1,316.9 173.1,319.4 172.7,320.9 173.5,321.6 174.6,320.6 176.3,318.6 177.4,317.9 178,318.1 178.8,319.5 178.8,320.5 178,321.9 176.4,324.2 175.6,325.7 175.8,327 176.8,326.6 178.6,325.7 179.6,325.6 179.9,326.3 179.7,328.5 179.3,329.7 178.3,330.9 176.5,332.3 175.4,333.4 174.9,335.2 175.7,335.5 177.1,335.7 177.7,336.4 177.6,337.4 176.6,340 175.9,341 174.8,341.6 173.2,341.9 172.1,342.5Z"/></defs>
<use href="#g29" x="-14" y="-8" fill="#fff" stroke="#111" stroke-width="1.7"/>
<use href="#g29" x="-12.6" y="-7.2" fill="#fff"/>
<use href="#g29" x="-11.2" y="-6.4" fill="#fff"/>
<use href="#g29" x="-9.8" y="-5.6" fill="#fff"/>
<use href="#g29" x="-8.4" y="-4.8" fill="#fff"/>
<use href="#g29" x="-7" y="-4" fill="#fff"/>
<use href="#g29" x="-5.6" y="-3.2" fill="#fff"/>
<use href="#g29" x="-4.2" y="-2.4" fill="#fff"/>
<use href="#g29" x="-2.8" y="-1.6" fill="#fff"/>
<use href="#g29" x="-1.4" y="-0.8" fill="#fff"/>
<path d="M156.1,362.6 152.7,363.3 138.7,355.3 142.1,354.6ZM177.6,317.5 179.1,320.3 165.1,312.3 163.6,309.5ZM149,362.6 146.7,360.9 132.7,352.9 135,354.6ZM171.7,314.7 174.7,315.2 160.7,307.2 157.7,306.7ZM144.8,357.2 144.2,353.4 130.2,345.4 130.8,349.2ZM163.7,317.4 167.4,315.5 153.4,307.5 149.7,309.4ZM144.5,347.6 145.7,342.6 131.7,334.6 130.5,339.6ZM155.2,325.2 158.9,321.2 144.9,313.2 141.2,317.2ZM148.3,336 151,331 137,323 134.3,328Z" fill="#fff" stroke="#111" stroke-width="1.5" />
<use href="#g29" fill="#fff" stroke="#111" stroke-width="1.7"/>
<path d="M151.2,346.6 151.2,345.8 151.3,344.9 151.4,343.9 151.6,343 151.9,342 152.2,341 152.5,340 152.9,339 153.3,338 153.8,337 154.3,336 154.8,335 155.4,334.1 156,333.1 156.6,332.2 157.3,331.4 158,330.5 158.7,329.7 159.4,329 160.1,328.3 160.8,327.6 161.6,327.1 162.3,326.5 163.1,326 163.8,325.6 164.5,325.3 165.2,325 165.9,324.8 166.6,324.7 167.2,324.6 167.8,324.6 168.4,324.7 169,324.8 169.5,325 175.7,328.4 176.1,328.6 176.6,329 177,329.4 177.3,329.9 177.7,330.4 177.9,331 178.1,331.7 178.3,332.4 178.4,333.1 178.5,333.9 178.5,334.7 178.4,335.6 178.4,336.5 178.2,337.4 178,338.4 177.8,339.4 177.5,340.4 177.2,341.4 176.8,342.4 176.3,343.4 175.9,344.4 175.4,345.4 174.8,346.4 174.3,347.3 173.7,348.2 173,349.1 172.4,350 171.7,350.9 171,351.6 170.3,352.4 169.5,353.1 168.8,353.7 168.1,354.3 167.3,354.9 166.6,355.3 165.9,355.7 165.2,356.1 164.4,356.4 163.8,356.6 163.1,356.7 162.4,356.8 161.8,356.8 161.2,356.7 160.7,356.6 160.2,356.3 154,353 153.5,352.7 153.1,352.4 152.7,352 152.3,351.5 152,351 151.7,350.4 151.5,349.7 151.4,349 151.2,348.3 151.2,347.5Z" fill="#fff" stroke="#111" stroke-width="1.7" />
<ellipse cx="167.9" cy="342.4" rx="8" ry="16" transform="rotate(30 167.9 342.4)" fill="#fff" stroke="#111" stroke-width="1.7" />
<path d="M155.7,351.2 155.7,350.2 155.8,349.1 156,348 156.2,346.9 156.5,345.8 156.8,344.6 157.2,343.5 157.7,342.3 158.2,341.2 158.7,340 159.3,338.9 159.9,337.7 160.6,336.6 161.3,335.6 162,334.5 162.8,333.5 163.5,332.5 164.3,331.6 165.2,330.8 166,329.9 166.9,329.2 167.7,328.5 168.6,327.9 169.4,327.4 170.3,326.9 171.1,326.5 171.9,326.2 172.7,325.9 173.5,325.8 174.2,325.7 174.9,325.7 175.6,325.8 176.3,325.9 176.9,326.2 248.1,364.8 248.6,365.1 249.1,365.6 249.6,366 250,366.6 250.4,367.2 250.7,367.9 250.9,368.6 251.1,369.4 251.2,370.3 251.3,371.2 251.3,372.2 251.3,373.2 251.2,374.2 251,375.3 250.8,376.4 250.5,377.6 250.2,378.7 249.8,379.9 249.3,381 248.8,382.2 248.3,383.4 247.7,384.5 247.1,385.6 246.4,386.7 245.7,387.8 245,388.9 244.2,389.9 243.5,390.8 242.7,391.7 241.8,392.6 241,393.4 240.1,394.2 239.3,394.8 238.4,395.4 237.6,396 236.7,396.5 235.9,396.9 235.1,397.2 234.3,397.4 233.5,397.6 232.8,397.7 232.1,397.7 231.4,397.6 230.7,397.4 230.1,397.2 158.9,358.5 158.4,358.2 157.9,357.8 157.4,357.3 157,356.8 156.6,356.2 156.3,355.5 156.1,354.7 155.9,353.9 155.8,353.1 155.7,352.1Z" fill="#2b2b2b" stroke="#111" stroke-width="1.7" />
<clipPath id="cl30"><path d="M155.7,351.2 155.7,350.2 155.8,349.1 156,348 156.2,346.9 156.5,345.8 156.8,344.6 157.2,343.5 157.7,342.3 158.2,341.2 158.7,340 159.3,338.9 159.9,337.7 160.6,336.6 161.3,335.6 162,334.5 162.8,333.5 163.5,332.5 164.3,331.6 165.2,330.8 166,329.9 166.9,329.2 167.7,328.5 168.6,327.9 169.4,327.4 170.3,326.9 171.1,326.5 171.9,326.2 172.7,325.9 173.5,325.8 174.2,325.7 174.9,325.7 175.6,325.8 176.3,325.9 176.9,326.2 248.1,364.8 248.6,365.1 249.1,365.6 249.6,366 250,366.6 250.4,367.2 250.7,367.9 250.9,368.6 251.1,369.4 251.2,370.3 251.3,371.2 251.3,372.2 251.3,373.2 251.2,374.2 251,375.3 250.8,376.4 250.5,377.6 250.2,378.7 249.8,379.9 249.3,381 248.8,382.2 248.3,383.4 247.7,384.5 247.1,385.6 246.4,386.7 245.7,387.8 245,388.9 244.2,389.9 243.5,390.8 242.7,391.7 241.8,392.6 241,393.4 240.1,394.2 239.3,394.8 238.4,395.4 237.6,396 236.7,396.5 235.9,396.9 235.1,397.2 234.3,397.4 233.5,397.6 232.8,397.7 232.1,397.7 231.4,397.6 230.7,397.4 230.1,397.2 158.9,358.5 158.4,358.2 157.9,357.8 157.4,357.3 157,356.8 156.6,356.2 156.3,355.5 156.1,354.7 155.9,353.9 155.8,353.1 155.7,352.1Z"/></clipPath>
<g clip-path="url(#cl30)">
<path d="M246.8,385.4 175.6,346.8M243.3,390.4 172.1,351.8M239.3,394.3 168.1,355.6M235.2,396.5 164.1,357.9M231.7,396.9 160.5,358.3M229,395.4 157.8,356.7M227.6,392.1 156.4,353.5M227.5,387.5 156.3,348.8M228.8,382.1 157.6,343.4M231.4,376.6 160.2,337.9M234.9,371.6 163.7,332.9M238.9,367.7 167.7,329.1M242.9,365.5 171.8,326.8M246.5,365.1 175.3,326.4M249.2,366.6 178,328M250.6,369.9 179.4,331.3M250.7,374.5 179.5,335.9M249.4,379.9 178.2,341.3" fill="none" stroke="#d8d8d8" stroke-width="1.3" />
</g>
<ellipse cx="239.1" cy="381" rx="9.2" ry="18.5" transform="rotate(30 239.1 381)" fill="#2b2b2b" stroke="#111" stroke-width="1.7" />
<path d="M228.5,388.6 228.6,387.8 228.7,386.8 228.8,385.9 229,384.9 229.2,384 229.5,383 229.8,382 230.2,381 230.7,380 231.1,379 231.6,378 232.2,377 232.7,376 233.3,375.1 234,374.2 234.6,373.3 235.3,372.5 236,371.7 236.7,371 237.5,370.3 238.2,369.6 238.9,369 239.7,368.5 240.4,368 241.1,367.6 241.8,367.3 242.6,367 243.2,366.8 243.9,366.6 244.6,366.6 245.2,366.6 245.8,366.7 246.3,366.8 246.8,367 253.9,370.8 254.4,371.1 254.8,371.4 255.2,371.9 255.6,372.3 255.9,372.9 256.1,373.5 256.4,374.1 256.5,374.8 256.6,375.6 256.7,376.4 256.7,377.2 256.7,378.1 256.6,379 256.4,379.9 256.2,380.9 256,381.8 255.7,382.8 255.4,383.8 255,384.8 254.6,385.9 254.1,386.9 253.6,387.8 253.1,388.8 252.5,389.8 251.9,390.7 251.2,391.6 250.6,392.5 249.9,393.3 249.2,394.1 248.5,394.9 247.8,395.6 247,396.2 246.3,396.8 245.6,397.3 244.8,397.8 244.1,398.2 243.4,398.5 242.7,398.8 242,399 241.3,399.2 240.7,399.2 240,399.2 239.4,399.1 238.9,399 238.4,398.8 231.3,395 230.9,394.7 230.4,394.4 230,393.9 229.7,393.5 229.3,392.9 229.1,392.4 228.9,391.7 228.7,391 228.6,390.2 228.5,389.4Z" fill="#fff" stroke="#111" stroke-width="1.7" />
<ellipse cx="246.1" cy="384.8" rx="8" ry="16" transform="rotate(30 246.1 384.8)" fill="#fff" stroke="#111" stroke-width="1.7" />
<path d="M233.6,393.9 233.6,392.8 233.7,391.8 233.9,390.6 234.1,389.5 234.4,388.3 234.8,387.2 235.2,386 235.6,384.8 236.1,383.6 236.7,382.4 237.3,381.2 237.9,380.1 238.6,378.9 239.3,377.8 240.1,376.8 240.8,375.7 241.6,374.7 242.5,373.8 243.3,372.9 244.2,372.1 245.1,371.3 245.9,370.6 246.8,370 247.7,369.4 248.6,368.9 249.4,368.5 250.2,368.2 251.1,367.9 251.8,367.8 252.6,367.7 253.3,367.7 254.1,367.8 254.7,367.9 255.3,368.2 278.2,380.6 278.8,380.9 279.3,381.4 279.8,381.8 280.2,382.4 280.6,383 280.9,383.7 281.1,384.5 281.3,385.3 281.4,386.2 281.5,387.2 281.5,388.2 281.5,389.2 281.4,390.3 281.2,391.4 281,392.5 280.7,393.7 280.4,394.9 280,396.1 279.5,397.2 279,398.4 278.4,399.6 277.9,400.8 277.2,402 276.5,403.1 275.8,404.2 275.1,405.3 274.3,406.3 273.5,407.3 272.6,408.2 271.8,409.1 270.9,410 270.1,410.7 269.2,411.4 268.3,412.1 267.4,412.6 266.6,413.1 265.7,413.5 264.9,413.8 264,414.1 263.2,414.2 262.5,414.3 261.8,414.3 261.1,414.2 260.4,414.1 259.8,413.8 236.9,401.4 236.3,401.1 235.8,400.7 235.3,400.2 234.9,399.6 234.6,399 234.2,398.3 234,397.5 233.8,396.7 233.7,395.8 233.6,394.9Z" fill="#2b2b2b" stroke="#111" stroke-width="1.7" />
<clipPath id="cl31"><path d="M233.6,393.9 233.6,392.8 233.7,391.8 233.9,390.6 234.1,389.5 234.4,388.3 234.8,387.2 235.2,386 235.6,384.8 236.1,383.6 236.7,382.4 237.3,381.2 237.9,380.1 238.6,378.9 239.3,377.8 240.1,376.8 240.8,375.7 241.6,374.7 242.5,373.8 243.3,372.9 244.2,372.1 245.1,371.3 245.9,370.6 246.8,370 247.7,369.4 248.6,368.9 249.4,368.5 250.2,368.2 251.1,367.9 251.8,367.8 252.6,367.7 253.3,367.7 254.1,367.8 254.7,367.9 255.3,368.2 278.2,380.6 278.8,380.9 279.3,381.4 279.8,381.8 280.2,382.4 280.6,383 280.9,383.7 281.1,384.5 281.3,385.3 281.4,386.2 281.5,387.2 281.5,388.2 281.5,389.2 281.4,390.3 281.2,391.4 281,392.5 280.7,393.7 280.4,394.9 280,396.1 279.5,397.2 279,398.4 278.4,399.6 277.9,400.8 277.2,402 276.5,403.1 275.8,404.2 275.1,405.3 274.3,406.3 273.5,407.3 272.6,408.2 271.8,409.1 270.9,410 270.1,410.7 269.2,411.4 268.3,412.1 267.4,412.6 266.6,413.1 265.7,413.5 264.9,413.8 264,414.1 263.2,414.2 262.5,414.3 261.8,414.3 261.1,414.2 260.4,414.1 259.8,413.8 236.9,401.4 236.3,401.1 235.8,400.7 235.3,400.2 234.9,399.6 234.6,399 234.2,398.3 234,397.5 233.8,396.7 233.7,395.8 233.6,394.9Z"/></clipPath>
<g clip-path="url(#cl31)">
<path d="M276.9,401.8 254,389.4M272.1,408.2 249.3,395.8M266.8,412.4 243.9,400M261.8,413.6 239,401.2M258.3,411.6 235.5,399.2M256.9,406.7 234.1,394.3M257.9,400 235.1,387.6M261.1,392.7 238.2,380.3M265.8,386.3 243,373.9M271.2,382 248.3,369.6M276.1,380.8 253.3,368.4M279.6,382.8 256.8,370.4M281,387.7 258.2,375.3M280,394.5 257.2,382.1" fill="none" stroke="#d8d8d8" stroke-width="1.3" />
</g>
<ellipse cx="269" cy="397.2" rx="9.5" ry="19" transform="rotate(30 269 397.2)" fill="#2b2b2b" stroke="#111" stroke-width="1.7" />
<path d="M260.1,403.6 260.1,402.9 260.2,402.1 260.3,401.4 260.4,400.6 260.6,399.7 260.9,398.9 261.2,398 261.5,397.2 261.9,396.4 262.2,395.5 262.7,394.7 263.1,393.8 263.6,393 264.1,392.2 264.7,391.5 265.2,390.8 265.8,390.1 266.4,389.4 267,388.8 267.6,388.2 268.2,387.6 268.8,387.1 269.5,386.7 270.1,386.3 270.7,385.9 271.3,385.6 271.9,385.4 272.5,385.2 273.1,385.1 273.6,385.1 274.1,385.1 274.6,385.1 275.1,385.2 275.5,385.4 280.8,388.3 281.2,388.5 281.6,388.8 281.9,389.1 282.2,389.6 282.5,390 282.7,390.5 282.9,391.1 283,391.6 283.1,392.3 283.2,392.9 283.2,393.6 283.1,394.4 283.1,395.1 282.9,395.9 282.8,396.8 282.6,397.6 282.3,398.4 282.1,399.2 281.7,400.1 281.4,400.9 281,401.8 280.6,402.6 280.1,403.4 279.6,404.3 279.1,405.1 278.6,405.8 278,406.6 277.4,407.2 276.8,407.9 276.2,408.6 275.6,409.1 275,409.7 274.4,410.2 273.8,410.6 273.1,411 272.5,411.4 271.9,411.7 271.3,411.9 270.8,412.1 270.2,412.2 269.6,412.2 269.1,412.2 268.6,412.2 268.1,412.1 267.7,411.9 262.4,409 262,408.8 261.6,408.5 261.3,408.1 261,407.7 260.8,407.3 260.5,406.8 260.4,406.2 260.2,405.6 260.1,405 260.1,404.4Z" fill="#fff" stroke="#111" stroke-width="1.7" />
<ellipse cx="274.2" cy="400.1" rx="6.8" ry="13.5" transform="rotate(30 274.2 400.1)" fill="#fff" stroke="#111" stroke-width="1.7" />
<path d="M266.3,405.8 266.3,405.1 266.4,404.5 266.5,403.8 266.7,403 266.9,402.3 267.1,401.6 267.3,400.8 267.6,400.1 267.9,399.3 268.3,398.6 268.6,397.8 269.1,397.1 269.5,396.4 269.9,395.7 270.4,395 270.9,394.3 271.4,393.7 271.9,393.1 272.5,392.6 273,392 273.6,391.5 274.1,391.1 274.7,390.7 275.2,390.4 275.8,390 276.3,389.8 276.9,389.6 277.4,389.4 277.9,389.3 278.4,389.3 278.8,389.3 279.3,389.3 279.7,389.4 280.1,389.6 292.4,396.3 292.7,396.5 293.1,396.7 293.4,397 293.6,397.4 293.9,397.8 294.1,398.2 294.2,398.7 294.4,399.3 294.4,399.8 294.5,400.4 294.5,401 294.5,401.7 294.4,402.4 294.3,403.1 294.1,403.8 294,404.5 293.7,405.3 293.5,406 293.2,406.8 292.9,407.5 292.5,408.3 292.2,409 291.8,409.8 291.3,410.5 290.9,411.2 290.4,411.9 289.9,412.5 289.4,413.1 288.9,413.7 288.3,414.3 287.8,414.8 287.2,415.3 286.7,415.7 286.1,416.1 285.6,416.5 285,416.8 284.5,417.1 284,417.3 283.4,417.4 282.9,417.5 282.4,417.6 282,417.6 281.6,417.5 281.1,417.4 280.7,417.2 268.4,410.6 268.1,410.4 267.7,410.1 267.4,409.8 267.2,409.4 266.9,409 266.7,408.6 266.6,408.1 266.5,407.6 266.4,407 266.3,406.4Z" fill="#fff" stroke="#111" stroke-width="1.7" />
<ellipse cx="286.6" cy="406.8" rx="6" ry="12" transform="rotate(30 286.6 406.8)" fill="#fff" stroke="#111" stroke-width="1.7" />
<ellipse cx="287" cy="407" rx="2.7" ry="5.4" transform="rotate(30 287 407)" fill="#fff" stroke="#111" stroke-width="1.1" />
<path d="M285.8,392.1 286.6,392.7 287.2,393.6 287.6,394.7 287.8,396 287.8,397.5 287.6,399.1 287.2,400.8 286.6,402.6 285.9,404.3 285,406.1 283.9,407.7 282.8,409.2 281.5,410.6 280.3,411.8 279,412.8 277.7,413.5 276.4,414 275.3,414.2 274.2,414.1 273.3,413.8" fill="none" stroke="#555" stroke-width="1.0" />
<line x1="287" y1="407" x2="308.1" y2="423.6" stroke="#fff" stroke-width="1.8" opacity="0.6"/>
<line x1="287" y1="407" x2="308.1" y2="423.6" stroke="#a0a0a0" stroke-width="0.75" />
<ellipse cx="306.6" cy="422.6" rx="13.5" ry="21.4" transform="rotate(27 306.6 422.6)" fill="#fff" stroke="none" stroke-width="0" />
<ellipse cx="308.1" cy="423.6" rx="13.5" ry="21.4" transform="rotate(27 308.1 423.6)" fill="#fff" stroke="none" stroke-width="0" />
<ellipse cx="305.1" cy="421.6" rx="13.5" ry="21.4" transform="rotate(27 305.1 421.6)" fill="none" stroke="#111" stroke-width="2.6" />
<ellipse cx="308.1" cy="423.6" rx="13.5" ry="21.4" transform="rotate(27 308.1 423.6)" fill="none" stroke="#111" stroke-width="2.6" />
<ellipse cx="308.1" cy="423.6" rx="11.6" ry="18.4" transform="rotate(27 308.1 423.6)" fill="none" stroke="#111" stroke-width="1.8199999999999998" />
<line x1="308.1" y1="423.6" x2="343.3" y2="442.5" stroke="#fff" stroke-width="1.8" opacity="0.6"/>
<line x1="308.1" y1="423.6" x2="343.3" y2="442.5" stroke="#a0a0a0" stroke-width="0.75" />
<path d="M316.7,441.3 316.7,440 316.9,438.7 317.1,437.4 317.3,436.1 317.7,434.9 318.1,433.6 318.5,432.3 319.1,431.1 319.7,429.9 320.3,428.8 321,427.6 321.8,426.6 322.6,425.6 323.4,424.6 324.3,423.7 325.2,422.9 326.1,422.1 327.1,421.4 328.1,420.8 329.1,420.3 330.1,419.9 331.1,419.5 332.2,419.3 333.2,419.1 334.2,419 335.2,419 336.2,419.1 337.1,419.3 338.1,419.6 338.9,419.9 350.9,424.9 351.8,425.4 352.6,425.9 353.4,426.5 354.1,427.2 354.8,428 355.4,428.8 355.9,429.7 356.4,430.7 356.9,431.7 357.2,432.8 357.5,433.9 357.7,435 357.9,436.2 358,437.5 358,438.7 357.9,440 357.8,441.3 357.6,442.6 357.3,443.9 357,445.1 356.6,446.4 356.1,447.7 355.6,448.9 355,450.1 354.4,451.2 353.6,452.4 352.9,453.4 352.1,454.4 351.3,455.4 350.4,456.3 349.5,457.1 348.5,457.9 347.6,458.6 346.6,459.2 345.6,459.7 344.5,460.1 343.5,460.5 342.5,460.7 341.5,460.9 340.5,461 339.5,461 338.5,460.9 337.5,460.7 336.6,460.4 335.7,460.1 323.7,455.1 322.9,454.6 322.1,454.1 321.3,453.5 320.6,452.8 319.9,452 319.3,451.2 318.7,450.3 318.2,449.3 317.8,448.3 317.4,447.2 317.1,446.1 316.9,445 316.8,443.8 316.7,442.5Z" fill="#3a3a3a" stroke="#111" stroke-width="2.4" />
<clipPath id="cl32"><path d="M316.7,441.3 316.7,440 316.9,438.7 317.1,437.4 317.3,436.1 317.7,434.9 318.1,433.6 318.5,432.3 319.1,431.1 319.7,429.9 320.3,428.8 321,427.6 321.8,426.6 322.6,425.6 323.4,424.6 324.3,423.7 325.2,422.9 326.1,422.1 327.1,421.4 328.1,420.8 329.1,420.3 330.1,419.9 331.1,419.5 332.2,419.3 333.2,419.1 334.2,419 335.2,419 336.2,419.1 337.1,419.3 338.1,419.6 338.9,419.9 350.9,424.9 351.8,425.4 352.6,425.9 353.4,426.5 354.1,427.2 354.8,428 355.4,428.8 355.9,429.7 356.4,430.7 356.9,431.7 357.2,432.8 357.5,433.9 357.7,435 357.9,436.2 358,437.5 358,438.7 357.9,440 357.8,441.3 357.6,442.6 357.3,443.9 357,445.1 356.6,446.4 356.1,447.7 355.6,448.9 355,450.1 354.4,451.2 353.6,452.4 352.9,453.4 352.1,454.4 351.3,455.4 350.4,456.3 349.5,457.1 348.5,457.9 347.6,458.6 346.6,459.2 345.6,459.7 344.5,460.1 343.5,460.5 342.5,460.7 341.5,460.9 340.5,461 339.5,461 338.5,460.9 337.5,460.7 336.6,460.4 335.7,460.1 323.7,455.1 322.9,454.6 322.1,454.1 321.3,453.5 320.6,452.8 319.9,452 319.3,451.2 318.7,450.3 318.2,449.3 317.8,448.3 317.4,447.2 317.1,446.1 316.9,445 316.8,443.8 316.7,442.5Z"/></clipPath>
<g clip-path="url(#cl32)">
<path d="M356,447.6 344,442.6M354.1,451.4 342.1,446.4M351.7,454.7 339.7,449.7M348.8,457.5 336.8,452.5M345.7,459.4 333.7,454.4M342.4,460.6 330.4,455.6M339.2,460.8 327.2,455.8M336.2,460.1 324.2,455.1M333.6,458.5 321.6,453.5M331.4,456.1 319.4,451.1M329.9,453.1 317.9,448.1M329,449.5 317,444.5M328.8,445.5 316.8,440.5M329.4,441.4 317.4,436.4M330.7,437.4 318.7,432.4M332.6,433.6 320.6,428.6M335,430.3 323,425.3M337.9,427.5 325.9,422.5M341,425.6 329,420.6M344.2,424.4 332.2,419.4M347.4,424.2 335.4,419.2M350.4,424.9 338.4,419.9M353.1,426.5 341.1,421.5M355.2,428.9 343.2,423.9M356.8,431.9 344.8,426.9M357.7,435.5 345.7,430.5M357.8,439.5 345.8,434.5M357.3,443.6 345.3,438.6" fill="none" stroke="#c4c4c4" stroke-width="0.9" />
</g>
<ellipse cx="343.3" cy="442.5" rx="13.8" ry="19.2" transform="rotate(22 343.3 442.5)" fill="none" stroke="#111" stroke-width="2.2" />
<ellipse cx="343.3" cy="442.5" rx="11.6" ry="16.1" transform="rotate(22 343.3 442.5)" fill="#333" stroke="#111" stroke-width="2.0" />
<clipPath id="cl33"><ellipse cx="343.3" cy="442.5" rx="11.6" ry="16.1" transform="rotate(22 343.3 442.5)" /></clipPath>
<g clip-path="url(#cl33)">
<path d="M354.1,446.8 342.1,441.8M351,452.2 339,447.2M346.7,456.1 334.7,451.1M341.9,457.9 329.9,452.9M337.3,457.4 325.3,452.4M333.7,454.6 321.7,449.6M331.5,450 319.5,445M331.1,444.2 319.1,439.2M332.6,438.2 320.6,433.2M335.7,432.8 323.7,427.8M340,428.9 328,423.9M344.8,427.1 332.8,422.1M349.4,427.6 337.4,422.6M353,430.4 341,425.4M355.2,435 343.2,430M355.6,440.8 343.6,435.8" fill="none" stroke="#b0b0b0" stroke-width="0.8" />
<ellipse cx="327.1" cy="435.8" rx="11.6" ry="16.1" transform="rotate(22 327.1 435.8)" fill="#fff" stroke="#111" stroke-width="1.2" />
</g>
<line x1="343.3" y1="442.5" x2="390.8" y2="469.9" stroke="#fff" stroke-width="1.8" opacity="0.6"/>
<line x1="343.3" y1="442.5" x2="390.8" y2="469.9" stroke="#a0a0a0" stroke-width="0.75" />
<defs><path id="g34" d="M409,477.7 410,478.8 412,480.5 412.9,481.9 412.7,483.1 411.4,485.6 410.6,486.3 409.1,486.2 406.8,484.9 405.3,484.6 404.3,486.2 404.9,487.9 406.2,490.6 406.6,492.4 406.1,493.6 404.5,495.7 403.6,496 402.4,495.3 400.7,493 399.6,491.9 398.3,493.2 398.4,495.2 398.9,498.7 398.7,500.7 398.1,501.8 396.2,503.2 395.3,503.2 394.5,501.9 393.7,498.7 392.9,497.1 391.6,497.8 391.2,500 390.7,503.9 390.1,506 389.3,506.9 387.4,507.6 386.6,507.2 386.3,505.4 386.3,501.7 386.1,499.6 384.8,499.8 383.9,501.9 382.6,505.8 381.6,507.8 380.7,508.4 378.9,508.2 378.3,507.5 378.5,505.4 379.4,501.5 379.7,499.2 378.5,498.8 377.3,500.7 375.3,504.2 373.9,505.9 373,506.1 371.5,505.1 371.3,504.1 371.9,502 373.6,498.2 374.4,496 373.5,495 372,496.5 369.4,499.3 367.9,500.4 367.1,500.2 366.1,498.5 366.1,497.4 367.1,495.4 369.5,492.2 370.7,490.2 370.2,488.8 368.6,489.6 365.7,491.5 364.2,492 363.5,491.4 363.1,489.2 363.4,488 364.7,486.3 367.5,484 369,482.4 368.9,480.7 367.3,480.9 364.5,481.6 363,481.4 362.6,480.5 362.8,478 363.3,476.8 364.8,475.7 367.7,474.4 369.4,473.4 369.7,471.5 368.3,471 365.8,470.5 364.6,469.7 364.4,468.6 365.2,465.9 365.9,464.9 367.5,464.4 370.2,464.4 371.9,464.1 372.6,462.2 371.5,461.1 369.5,459.4 368.7,458 368.9,456.8 370.1,454.3 371,453.6 372.4,453.7 374.7,455 376.2,455.3 377.3,453.7 376.7,452 375.4,449.3 375,447.5 375.4,446.3 377.1,444.2 378,443.9 379.2,444.6 380.8,446.9 382,448 383.3,446.7 383.2,444.7 382.7,441.2 382.8,439.2 383.5,438.1 385.4,436.7 386.2,436.7 387.1,438 387.9,441.2 388.6,442.8 390,442.1 390.4,439.9 390.8,436 391.5,433.9 392.3,433 394.2,432.3 394.9,432.7 395.3,434.5 395.2,438.2 395.5,440.3 396.8,440.1 397.7,438 399,434.1 400,432.1 400.9,431.5 402.7,431.7 403.2,432.4 403.1,434.5 402.1,438.4 401.9,440.7 403,441.1 404.3,439.2 406.3,435.7 407.7,434 408.5,433.8 410,434.8 410.3,435.8 409.7,437.9 407.9,441.7 407.2,443.9 408.1,444.9 409.6,443.4 412.1,440.6 413.6,439.5 414.5,439.7 415.5,441.4 415.4,442.5 414.4,444.5 412.1,447.7 410.9,449.7 411.4,451.1 413,450.3 415.8,448.4 417.4,447.9 418,448.5 418.5,450.7 418.2,451.9 416.8,453.6 414.1,455.9 412.6,457.5 412.7,459.2 414.3,459 417.1,458.3 418.6,458.5 419,459.4 418.8,461.9 418.2,463.1 416.7,464.2 413.9,465.5 412.2,466.5 411.9,468.4 413.2,468.9 415.8,469.4 417,470.2 417.1,471.3 416.4,474 415.6,475 414.1,475.5 411.3,475.5 409.7,475.8Z"/></defs>
<use href="#g34" x="-15" y="-7" fill="#fff" stroke="#111" stroke-width="2.0"/>
<use href="#g34" x="-13.5" y="-6.3" fill="#fff"/>
<use href="#g34" x="-12" y="-5.6" fill="#fff"/>
<use href="#g34" x="-10.5" y="-4.9" fill="#fff"/>
<use href="#g34" x="-9" y="-4.2" fill="#fff"/>
<use href="#g34" x="-7.5" y="-3.5" fill="#fff"/>
<use href="#g34" x="-6" y="-2.8" fill="#fff"/>
<use href="#g34" x="-4.5" y="-2.1" fill="#fff"/>
<use href="#g34" x="-3" y="-1.4" fill="#fff"/>
<use href="#g34" x="-1.5" y="-0.7" fill="#fff"/>
<path d="M413.9,438.9 415.9,442.3 400.9,435.3 398.9,431.9ZM381.6,508.4 378,508 363,501 366.6,501.4ZM407.8,433.4 410.7,435.4 395.8,428.4 392.8,426.4ZM373.8,506.5 370.8,504.5 355.9,497.5 358.8,499.5ZM400,431.5 403.6,431.9 388.6,424.9 385,424.5ZM367.7,501 365.7,497.6 350.7,490.6 352.7,494ZM391.3,433.4 395.2,432.1 380.2,425.1 376.3,426.4ZM363.8,492.5 362.9,488 348,481 348.8,485.5ZM382.5,438.8 386.3,436 371.4,429 367.6,431.8ZM362.6,481.8 362.9,476.7 347.9,469.7 347.6,474.8ZM374.6,447.3 378,443.3 363,436.3 359.6,440.3ZM364.1,469.9 365.6,464.6 350.7,457.6 349.1,462.9ZM368.3,458 370.8,453.1 355.8,446.1 353.3,451Z" fill="#fff" stroke="#111" stroke-width="1.5" />
<use href="#g34" fill="#fff" stroke="#111" stroke-width="2.0"/>
<ellipse cx="390.8" cy="469.9" rx="20.3" ry="32.3" transform="rotate(23 390.8 469.9)" fill="none" stroke="#222" stroke-width="1.4" />
<ellipse cx="402.8" cy="483.9" rx="3.2" ry="4" transform="rotate(23 402.8 483.9)" fill="#fff" stroke="#111" stroke-width="1.8" />
<ellipse cx="383.9" cy="496.1" rx="3.2" ry="4" transform="rotate(23 383.9 496.1)" fill="#fff" stroke="#111" stroke-width="1.8" />
<ellipse cx="371.8" cy="482.2" rx="3.2" ry="4" transform="rotate(23 371.8 482.2)" fill="#fff" stroke="#111" stroke-width="1.8" />
<ellipse cx="378.7" cy="456" rx="3.2" ry="4" transform="rotate(23 378.7 456)" fill="#fff" stroke="#111" stroke-width="1.8" />
<ellipse cx="397.7" cy="443.8" rx="3.2" ry="4" transform="rotate(23 397.7 443.8)" fill="#fff" stroke="#111" stroke-width="1.8" />
<ellipse cx="409.7" cy="457.7" rx="3.2" ry="4" transform="rotate(23 409.7 457.7)" fill="#fff" stroke="#111" stroke-width="1.8" />
<ellipse cx="390.8" cy="469.9" rx="13.7" ry="21.8" transform="rotate(23 390.8 469.9)" fill="#fff" stroke="#111" stroke-width="2.6" />
<ellipse cx="387.8" cy="468.9" rx="11.2" ry="17.8" transform="rotate(23 387.8 468.9)" fill="none" stroke="#111" stroke-width="1.2" />
<line x1="390.8" y1="469.9" x2="427.6" y2="492" stroke="#fff" stroke-width="1.8" opacity="0.6"/>
<line x1="390.8" y1="469.9" x2="427.6" y2="492" stroke="#a0a0a0" stroke-width="0.75" />
<ellipse cx="426.1" cy="491" rx="13.5" ry="21.4" transform="rotate(27 426.1 491)" fill="#fff" stroke="none" stroke-width="0" />
<ellipse cx="427.6" cy="492" rx="13.5" ry="21.4" transform="rotate(27 427.6 492)" fill="#fff" stroke="none" stroke-width="0" />
<ellipse cx="424.6" cy="490" rx="13.5" ry="21.4" transform="rotate(27 424.6 490)" fill="none" stroke="#111" stroke-width="2.6" />
<ellipse cx="427.6" cy="492" rx="13.5" ry="21.4" transform="rotate(27 427.6 492)" fill="none" stroke="#111" stroke-width="2.6" />
<ellipse cx="427.6" cy="492" rx="11.6" ry="18.4" transform="rotate(27 427.6 492)" fill="none" stroke="#111" stroke-width="1.8199999999999998" />
<line x1="427.6" y1="492" x2="454.8" y2="508.1" stroke="#fff" stroke-width="1.8" opacity="0.6"/>
<line x1="427.6" y1="492" x2="454.8" y2="508.1" stroke="#a0a0a0" stroke-width="0.75" />
<ellipse cx="453.3" cy="507.1" rx="13" ry="20.7" transform="rotate(27 453.3 507.1)" fill="#fff" stroke="none" stroke-width="0" />
<ellipse cx="454.8" cy="508.1" rx="13" ry="20.7" transform="rotate(27 454.8 508.1)" fill="#fff" stroke="none" stroke-width="0" />
<ellipse cx="451.8" cy="506.1" rx="13" ry="20.7" transform="rotate(27 451.8 506.1)" fill="none" stroke="#111" stroke-width="2.6" />
<ellipse cx="454.8" cy="508.1" rx="13" ry="20.7" transform="rotate(27 454.8 508.1)" fill="none" stroke="#111" stroke-width="2.6" />
<ellipse cx="454.8" cy="508.1" rx="11.2" ry="17.8" transform="rotate(27 454.8 508.1)" fill="none" stroke="#111" stroke-width="1.8199999999999998" />
<line x1="454.8" y1="508.1" x2="517" y2="545" stroke="#fff" stroke-width="1.8" opacity="0.6"/>
<line x1="454.8" y1="508.1" x2="517" y2="545" stroke="#a0a0a0" stroke-width="0.75" />
<defs><path id="g35" d="M514.1,542.3 515,543.3 516.8,544.9 517.5,546.1 517.3,547.2 516.1,549.5 515.3,550.2 514,550 512,548.9 510.7,548.5 509.7,550 510.2,551.5 511.3,554 511.5,555.7 511.1,556.8 509.5,558.6 508.7,558.9 507.7,558.1 506.3,555.9 505.3,554.9 504.2,556 504.2,557.8 504.4,561 504.1,562.9 503.5,563.9 501.7,565 500.9,564.9 500.3,563.6 499.8,560.6 499.2,559 498,559.5 497.5,561.5 496.8,565 496.1,566.9 495.3,567.6 493.5,567.9 492.9,567.4 492.8,565.7 493.1,562.3 493.1,560.4 491.9,560.3 491,562.1 489.5,565.5 488.5,567.1 487.6,567.5 486.1,566.9 485.7,566.1 486,564.2 487.2,560.8 487.7,558.8 486.8,558.1 485.5,559.6 483.4,562.4 482.1,563.6 481.3,563.6 480.2,562.2 480.1,561.2 480.9,559.4 482.8,556.3 483.7,554.4 483.1,553.2 481.7,554.2 479.2,556.1 477.8,556.7 477.2,556.3 476.6,554.4 476.8,553.2 478,551.7 480.3,549.4 481.6,547.8 481.4,546.3 480,546.6 477.5,547.4 476.1,547.4 475.7,546.6 475.8,544.3 476.2,543.2 477.6,542.1 480.1,540.8 481.6,539.8 481.9,538.1 480.6,537.8 478.3,537.4 477.2,536.7 477.1,535.7 477.8,533.2 478.4,532.3 479.8,531.8 482.2,531.7 483.7,531.4 484.4,529.7 483.4,528.7 481.7,527.1 481,525.9 481.1,524.8 482.3,522.5 483.1,521.8 484.4,522 486.4,523.1 487.7,523.5 488.7,522 488.2,520.5 487.1,518 486.9,516.3 487.3,515.2 488.9,513.4 489.7,513.1 490.8,513.9 492.1,516.1 493.1,517.1 494.3,516 494.3,514.2 494.1,511 494.3,509.1 495,508.1 496.7,507 497.5,507.1 498.1,508.4 498.7,511.4 499.2,513 500.5,512.5 501,510.5 501.6,507 502.3,505.1 503.1,504.4 504.9,504.1 505.5,504.6 505.7,506.3 505.3,509.7 505.3,511.6 506.5,511.7 507.4,509.9 508.9,506.5 510,504.9 510.8,504.5 512.3,505.1 512.7,505.9 512.4,507.8 511.2,511.2 510.7,513.2 511.6,513.9 512.9,512.4 515,509.6 516.3,508.4 517.1,508.4 518.2,509.8 518.3,510.8 517.5,512.6 515.6,515.7 514.7,517.6 515.3,518.8 516.7,517.8 519.2,515.9 520.6,515.3 521.2,515.7 521.8,517.6 521.6,518.8 520.5,520.3 518.1,522.6 516.8,524.2 517,525.7 518.4,525.4 521,524.6 522.3,524.6 522.7,525.4 522.6,527.7 522.2,528.8 520.9,529.9 518.3,531.2 516.8,532.2 516.6,533.9 517.8,534.2 520.1,534.6 521.2,535.3 521.3,536.3 520.7,538.8 520,539.7 518.6,540.2 516.2,540.3 514.7,540.6Z"/></defs>
<use href="#g35" x="-11.2" y="-9" fill="#fff" stroke="#111" stroke-width="2.0"/>
<use href="#g35" x="-10.1" y="-8.1" fill="#fff"/>
<use href="#g35" x="-9" y="-7.2" fill="#fff"/>
<use href="#g35" x="-7.9" y="-6.3" fill="#fff"/>
<use href="#g35" x="-6.7" y="-5.4" fill="#fff"/>
<use href="#g35" x="-5.6" y="-4.5" fill="#fff"/>
<use href="#g35" x="-4.5" y="-3.6" fill="#fff"/>
<use href="#g35" x="-3.4" y="-2.7" fill="#fff"/>
<use href="#g35" x="-2.2" y="-1.8" fill="#fff"/>
<use href="#g35" x="-1.1" y="-0.9" fill="#fff"/>
<path d="M488.4,567.7 485.4,566.6 474.1,557.6 477.2,558.7ZM520.9,514.7 522,518.7 510.8,509.7 509.7,505.7ZM481.9,564.2 479.7,561.5 468.5,552.5 470.7,555.2ZM516.5,507.8 518.7,510.5 507.5,501.5 505.3,498.8ZM477.5,557.3 476.4,553.3 465.2,544.3 466.3,548.3ZM510,504.3 513.1,505.4 501.8,496.4 498.8,495.3ZM475.8,547.8 475.9,543.1 464.6,534.1 464.5,538.8ZM502.2,504.7 505.8,504 494.5,495 491,495.7ZM494.1,508.8 497.6,506.5 486.4,497.5 482.8,499.8ZM476.8,536.9 478.1,532 466.9,523 465.6,527.9ZM486.6,516.1 489.7,512.5 478.5,503.5 475.3,507.1ZM480.6,525.9 483,521.4 471.7,512.4 469.3,516.9Z" fill="#fff" stroke="#111" stroke-width="1.5" />
<use href="#g35" fill="#fff" stroke="#111" stroke-width="2.0"/>
<defs><path id="g36" d="M539.4,554.7 540.3,555.7 542.1,557.3 542.8,558.6 542.6,559.7 541.4,562.1 540.5,562.8 539.2,562.6 537.2,561.5 535.9,561.1 534.9,562.6 535.3,564.2 536.3,566.8 536.5,568.5 536.1,569.6 534.4,571.4 533.5,571.7 532.5,570.9 531.2,568.6 530.3,567.6 529,568.6 528.9,570.5 529,573.8 528.7,575.7 528,576.6 526.1,577.7 525.4,577.6 524.8,576.2 524.4,573.1 523.9,571.5 522.6,571.9 522,573.9 521.1,577.4 520.3,579.2 519.5,579.9 517.7,580 517.1,579.5 517,577.7 517.6,574.2 517.6,572.3 516.5,572 515.4,573.8 513.8,577.1 512.6,578.6 511.8,578.8 510.3,578.1 509.9,577.2 510.4,575.3 511.8,571.9 512.4,569.8 511.5,569 510.2,570.3 507.9,572.9 506.5,573.9 505.8,573.7 504.8,572.1 504.8,571 505.6,569.2 507.7,566.4 508.8,564.5 508.3,563.2 506.9,563.9 504.3,565.4 502.9,565.8 502.4,565.2 502,563 502.3,561.8 503.5,560.4 506,558.5 507.4,557.1 507.4,555.4 506,555.4 503.5,555.7 502.3,555.3 502,554.4 502.3,551.9 502.9,550.8 504.3,549.9 506.8,549.2 508.3,548.4 508.8,546.7 507.7,546 505.6,545 504.7,544 504.7,542.9 505.7,540.4 506.5,539.5 507.8,539.3 510.1,539.8 511.5,539.8 512.4,538.2 511.7,536.9 510.3,534.7 509.8,533.2 510.2,532 511.7,529.9 512.5,529.4 513.7,529.9 515.4,531.7 516.5,532.4 517.7,531.1 517.5,529.3 516.9,526.4 517,524.5 517.6,523.5 519.4,522 520.2,521.9 521.1,523 521.9,525.7 522.6,527.1 523.9,526.4 524.3,524.4 524.7,521 525.3,519.1 526,518.2 527.9,517.6 528.6,518 528.9,519.6 528.9,522.9 529.1,524.7 530.3,524.6 531.2,522.7 532.4,519.3 533.4,517.6 534.3,517.1 536,517.4 536.4,518.2 536.3,520 535.3,523.5 534.9,525.6 536,526.1 537.2,524.5 539.2,521.6 540.5,520.3 541.3,520.2 542.6,521.5 542.7,522.5 542.1,524.4 540.3,527.5 539.4,529.5 540.1,530.6 541.5,529.6 544,527.5 545.4,526.8 546.1,527.2 546.7,529.1 546.6,530.3 545.5,531.9 543.2,534.3 542,536 542.2,537.5 543.7,537.2 546.2,536.2 547.5,536.2 548,537 548,539.4 547.5,540.5 546.2,541.7 543.7,543.1 542.2,544.2 542,545.9 543.2,546.3 545.6,546.6 546.6,547.3 546.8,548.3 546.1,550.9 545.4,551.9 544,552.5 541.6,552.6 540.1,552.9Z"/></defs>
<use href="#g36" x="-15.8" y="-9" fill="#fff" stroke="#111" stroke-width="2.0"/>
<use href="#g36" x="-14.2" y="-8.1" fill="#fff"/>
<use href="#g36" x="-12.6" y="-7.2" fill="#fff"/>
<use href="#g36" x="-11" y="-6.3" fill="#fff"/>
<use href="#g36" x="-9.5" y="-5.4" fill="#fff"/>
<use href="#g36" x="-7.9" y="-4.5" fill="#fff"/>
<use href="#g36" x="-6.3" y="-3.6" fill="#fff"/>
<use href="#g36" x="-4.7" y="-2.7" fill="#fff"/>
<use href="#g36" x="-3.2" y="-1.8" fill="#fff"/>
<use href="#g36" x="-1.6" y="-0.9" fill="#fff"/>
<path d="M545.7,526.2 547,530.1 531.3,521.1 529.9,517.2ZM512.5,579.2 509.5,577.6 493.8,568.6 496.8,570.2ZM540.6,519.7 543.1,522.1 527.4,513.1 524.8,510.7ZM506.3,574.5 504.3,571.2 488.6,562.2 490.5,565.5ZM533.4,517 536.8,517.7 521,508.7 517.7,508ZM502.6,566.3 501.9,561.8 486.1,552.8 486.8,557.3ZM525.1,518.6 528.8,517.4 513.1,508.4 509.3,509.6ZM516.7,524.3 520.3,521.3 504.6,512.3 501,515.3ZM501.9,555.7 502.6,550.6 486.8,541.6 486.1,546.7ZM509.5,533.2 512.5,528.9 496.7,519.9 493.7,524.2ZM504.3,544.1 506.3,539.1 490.5,530.1 488.5,535.1Z" fill="#fff" stroke="#111" stroke-width="1.5" />
<use href="#g36" fill="#fff" stroke="#111" stroke-width="2.0"/>
<ellipse cx="524.9" cy="548.5" rx="10" ry="15.9" transform="rotate(23 524.9 548.5)" fill="#333" stroke="#111" stroke-width="1.8" />
<clipPath id="cl37"><ellipse cx="524.9" cy="548.5" rx="10" ry="15.9" transform="rotate(23 524.9 548.5)" /></clipPath>
<g clip-path="url(#cl37)">
<path d="M534.1,552.4 522.1,547.4M531,557.7 519,552.7M527,561.6 515,556.6M522.7,563.5 510.7,558.5M518.7,563.1 506.7,558.1M515.6,560.5 503.6,555.5M514,556.1 502,551.1M514,550.5 502,545.5M515.7,544.6 503.7,539.6M518.8,539.3 506.8,534.3M522.8,535.4 510.8,530.4M527.1,533.5 515.1,528.5M531.1,533.9 519.1,528.9M534.1,536.5 522.1,531.5M535.8,540.9 523.8,535.9M535.8,546.5 523.8,541.5" fill="none" stroke="#bbb" stroke-width="0.8" />
<ellipse cx="512.9" cy="543.5" rx="10" ry="15.9" transform="rotate(23 512.9 543.5)" fill="#fff" stroke="#222" stroke-width="1" />
</g>
<line x1="517" y1="545" x2="557.1" y2="566.2" stroke="#fff" stroke-width="1.8" opacity="0.6"/>
<line x1="517" y1="545" x2="557.1" y2="566.2" stroke="#a0a0a0" stroke-width="0.75" />
<ellipse cx="555.6" cy="565.2" rx="11.3" ry="17.9" transform="rotate(27 555.6 565.2)" fill="#fff" stroke="none" stroke-width="0" />
<ellipse cx="557.1" cy="566.2" rx="11.3" ry="17.9" transform="rotate(27 557.1 566.2)" fill="#fff" stroke="none" stroke-width="0" />
<ellipse cx="554.1" cy="564.2" rx="11.3" ry="17.9" transform="rotate(27 554.1 564.2)" fill="none" stroke="#111" stroke-width="2.6" />
<ellipse cx="557.1" cy="566.2" rx="11.3" ry="17.9" transform="rotate(27 557.1 566.2)" fill="none" stroke="#111" stroke-width="2.6" />
<ellipse cx="557.1" cy="566.2" rx="9.7" ry="15.4" transform="rotate(27 557.1 566.2)" fill="none" stroke="#111" stroke-width="1.8199999999999998" />
<line x1="557.1" y1="566.2" x2="581" y2="579.7" stroke="#fff" stroke-width="1.8" opacity="0.6"/>
<line x1="557.1" y1="566.2" x2="581" y2="579.7" stroke="#a0a0a0" stroke-width="0.75" />
<ellipse cx="580" cy="579.2" rx="12.6" ry="20" transform="rotate(27 580 579.2)" fill="#fff" stroke="none" stroke-width="0" />
<ellipse cx="581" cy="579.7" rx="12.6" ry="20" transform="rotate(27 581 579.7)" fill="#fff" stroke="none" stroke-width="0" />
<ellipse cx="579" cy="578.7" rx="12.6" ry="20" transform="rotate(27 579 578.7)" fill="none" stroke="#111" stroke-width="2.0" />
<ellipse cx="581" cy="579.7" rx="12.6" ry="20" transform="rotate(27 581 579.7)" fill="none" stroke="#111" stroke-width="2.0" />
<ellipse cx="581" cy="579.7" rx="10.6" ry="16.8" transform="rotate(27 581 579.7)" fill="none" stroke="#111" stroke-width="1.4" />
<path d="M589.4,584 589.8,585.7 589.1,586.8 587.6,587 586.9,587.9 586.8,589.9 585.9,590.8 584.6,590.3 583.8,591 583.2,593.1 582.2,593.7 581.3,592.6 580.4,593 579.4,595 578.5,595.2 577.9,593.7 577.1,593.7 575.8,595.4 574.9,595.2 574.9,593.3 574.2,593.1 572.6,594.2 572,593.7 572.4,591.7 571.9,591.1 570.3,591.7 569.9,590.8 570.8,588.8 570.5,588 569.1,588 568.9,586.9 570.2,585.1 570.2,584.1 569,583.4 569.1,582.2 570.6,580.8 570.9,579.7 570,578.5 570.5,577.3 572.1,576.5 572.6,575.4 572.2,573.7 572.9,572.6 574.4,572.4 575.1,571.5 575.2,569.5 576,568.6 577.4,569.1 578.2,568.4 578.8,566.3 579.7,565.7 580.7,566.8 581.5,566.4 582.5,564.4 583.5,564.2 584,565.7 584.8,565.7 586.2,564 587,564.2 587.1,566.1 587.8,566.3 589.3,565.2 590,565.7 589.6,567.7 590,568.3 591.6,567.7 592,568.6 591.2,570.6 591.4,571.4 592.9,571.4 593,572.5 591.8,574.3 591.8,575.3 593,576 592.8,577.2 591.3,578.6 591.1,579.7 591.9,580.9 591.5,582.1 589.9,582.9Z" fill="none" stroke="#111" stroke-width="0.9" />
<line x1="581" y1="579.7" x2="609.7" y2="597.8" stroke="#fff" stroke-width="1.8" opacity="0.6"/>
<line x1="581" y1="579.7" x2="609.7" y2="597.8" stroke="#a0a0a0" stroke-width="0.75" />
<path d="M584,596.3 584.1,595.1 584.2,593.9 584.4,592.7 584.7,591.5 585,590.3 585.4,589.1 585.8,587.9 586.3,586.8 586.9,585.7 587.5,584.6 588.1,583.5 588.8,582.6 589.5,581.6 590.3,580.7 591.2,579.9 592,579.1 592.9,578.4 593.8,577.8 594.7,577.2 595.7,576.7 596.6,576.3 597.6,576 598.5,575.8 599.5,575.6 600.4,575.5 601.3,575.5 602.2,575.6 603.1,575.8 604,576 604.8,576.4 616.8,581.4 617.6,581.8 618.4,582.3 619.1,582.8 619.8,583.5 620.4,584.2 621,585 621.5,585.8 621.9,586.7 622.3,587.7 622.7,588.7 623,589.7 623.2,590.8 623.3,591.9 623.4,593.1 623.4,594.2 623.3,595.4 623.2,596.6 623,597.8 622.8,599 622.5,600.2 622.1,601.4 621.6,602.6 621.1,603.7 620.6,604.8 620,605.9 619.3,607 618.6,607.9 617.9,608.9 617.1,609.8 616.3,610.6 615.4,611.4 614.6,612.1 613.6,612.7 612.7,613.3 611.8,613.8 610.9,614.2 609.9,614.5 608.9,614.8 608,614.9 607,615 606.1,615 605.2,614.9 604.3,614.7 603.5,614.5 602.6,614.1 590.6,609.1 589.8,608.7 589.1,608.2 588.4,607.7 587.7,607 587,606.3 586.5,605.5 586,604.7 585.5,603.8 585.1,602.8 584.8,601.8 584.5,600.8 584.3,599.7 584.1,598.6 584.1,597.4Z" fill="#3a3a3a" stroke="#111" stroke-width="2.4" />
<clipPath id="cl38"><path d="M584,596.3 584.1,595.1 584.2,593.9 584.4,592.7 584.7,591.5 585,590.3 585.4,589.1 585.8,587.9 586.3,586.8 586.9,585.7 587.5,584.6 588.1,583.5 588.8,582.6 589.5,581.6 590.3,580.7 591.2,579.9 592,579.1 592.9,578.4 593.8,577.8 594.7,577.2 595.7,576.7 596.6,576.3 597.6,576 598.5,575.8 599.5,575.6 600.4,575.5 601.3,575.5 602.2,575.6 603.1,575.8 604,576 604.8,576.4 616.8,581.4 617.6,581.8 618.4,582.3 619.1,582.8 619.8,583.5 620.4,584.2 621,585 621.5,585.8 621.9,586.7 622.3,587.7 622.7,588.7 623,589.7 623.2,590.8 623.3,591.9 623.4,593.1 623.4,594.2 623.3,595.4 623.2,596.6 623,597.8 622.8,599 622.5,600.2 622.1,601.4 621.6,602.6 621.1,603.7 620.6,604.8 620,605.9 619.3,607 618.6,607.9 617.9,608.9 617.1,609.8 616.3,610.6 615.4,611.4 614.6,612.1 613.6,612.7 612.7,613.3 611.8,613.8 610.9,614.2 609.9,614.5 608.9,614.8 608,614.9 607,615 606.1,615 605.2,614.9 604.3,614.7 603.5,614.5 602.6,614.1 590.6,609.1 589.8,608.7 589.1,608.2 588.4,607.7 587.7,607 587,606.3 586.5,605.5 586,604.7 585.5,603.8 585.1,602.8 584.8,601.8 584.5,600.8 584.3,599.7 584.1,598.6 584.1,597.4Z"/></clipPath>
<g clip-path="url(#cl38)">
<path d="M621.5,602.5 609.5,597.5M619.8,606 607.8,601M617.5,609.2 605.5,604.2M614.8,611.7 602.8,606.7M611.9,613.5 599.9,608.5M608.9,614.6 596.9,609.6M605.9,614.8 593.9,609.8M603.1,614.1 591.1,609.1M600.6,612.7 588.6,607.7M598.6,610.5 586.6,605.5M597.2,607.6 585.2,602.6M596.4,604.2 584.4,599.2M596.2,600.6 584.2,595.6M596.7,596.7 584.7,591.7M597.9,593 585.9,588M599.7,589.5 587.7,584.5M602,586.3 590,581.3M604.6,583.8 592.6,578.8M607.5,582 595.5,577M610.6,580.9 598.6,575.9M613.6,580.7 601.6,575.7M616.4,581.4 604.4,576.4M618.8,582.8 606.8,577.8M620.8,585 608.8,580M622.3,587.9 610.3,582.9M623.1,591.3 611.1,586.3M623.2,594.9 611.2,589.9M622.7,598.8 610.7,593.8" fill="none" stroke="#c4c4c4" stroke-width="0.9" />
</g>
<ellipse cx="609.7" cy="597.8" rx="12.9" ry="17.9" transform="rotate(22 609.7 597.8)" fill="none" stroke="#111" stroke-width="2.2" />
<ellipse cx="609.7" cy="597.8" rx="10.8" ry="15" transform="rotate(22 609.7 597.8)" fill="#333" stroke="#111" stroke-width="2.0" />
<clipPath id="cl39"><ellipse cx="609.7" cy="597.8" rx="10.8" ry="15" transform="rotate(22 609.7 597.8)" /></clipPath>
<g clip-path="url(#cl39)">
<path d="M619.7,601.8 607.7,596.8M616.8,606.8 604.8,601.8M612.8,610.5 600.8,605.5M608.4,612.2 596.4,607.2M604.1,611.7 592.1,606.7M600.7,609.1 588.7,604.1M598.7,604.7 586.7,599.7M598.3,599.3 586.3,594.3M599.7,593.7 587.7,588.7M602.6,588.7 590.6,583.7M606.6,585 594.6,580M611.1,583.3 599.1,578.3M615.3,583.8 603.3,578.8M618.8,586.4 606.8,581.4M620.8,590.8 608.8,585.8M621.1,596.2 609.1,591.2" fill="none" stroke="#b0b0b0" stroke-width="0.8" />
<ellipse cx="593.5" cy="591" rx="10.8" ry="15" transform="rotate(22 593.5 591)" fill="#fff" stroke="#111" stroke-width="1.2" />
</g>
<line x1="609.7" y1="597.8" x2="656.1" y2="620.4" stroke="#fff" stroke-width="1.8" opacity="0.6"/>
<line x1="609.7" y1="597.8" x2="656.1" y2="620.4" stroke="#a0a0a0" stroke-width="0.75" />
<defs><path id="g40" d="M676.6,629.1 677.4,630 679,631.3 679.6,632.4 679.5,633.4 678.5,635.4 677.8,636 676.6,636 674.8,635.3 673.6,635.1 672.7,636.6 673.2,637.8 674.4,639.8 674.7,641.2 674.4,642.1 673.2,643.9 672.5,644.3 671.4,643.9 669.9,642.5 668.9,642 667.8,643.2 668.1,644.7 668.7,647.1 668.8,648.7 668.3,649.6 666.9,651.1 666.2,651.3 665.3,650.5 664.3,648.4 663.4,647.5 662.3,648.4 662.2,650.1 662.3,652.9 662.1,654.6 661.5,655.4 660,656.4 659.3,656.4 658.7,655.3 658.1,652.8 657.6,651.5 656.4,652.1 656,653.8 655.6,656.8 655.1,658.5 654.4,659.2 652.8,659.7 652.3,659.4 651.9,658.1 651.9,655.2 651.6,653.7 650.4,653.9 649.8,655.6 648.9,658.6 648.1,660.2 647.4,660.7 645.9,660.7 645.4,660.2 645.4,658.6 645.9,655.6 645.9,653.9 644.8,653.7 644,655.3 642.6,658.1 641.6,659.5 640.9,659.8 639.5,659.3 639.2,658.6 639.5,657 640.5,654 640.8,652.2 639.9,651.6 638.8,653 637.1,655.5 635.9,656.6 635.2,656.7 634.1,655.7 634,654.9 634.5,653.2 636,650.4 636.6,648.6 635.9,647.7 634.7,648.7 632.6,650.8 631.4,651.6 630.8,651.4 630,650 630,649.1 630.8,647.5 632.6,645 633.5,643.4 633.1,642.2 631.8,642.9 629.6,644.4 628.4,644.8 627.9,644.4 627.4,642.6 627.6,641.6 628.6,640.3 630.7,638.3 631.8,636.9 631.6,635.4 630.3,635.7 628.1,636.5 626.9,636.5 626.5,635.9 626.5,633.9 626.8,632.9 628,631.8 630.2,630.4 631.4,629.3 631.5,627.8 630.3,627.6 628.2,627.7 627.2,627.3 626.9,626.6 627.3,624.4 627.7,623.5 629,622.7 631.2,622 632.5,621.3 632.9,619.7 631.9,619.1 630,618.5 629.1,617.7 629,616.8 629.7,614.7 630.3,613.9 631.5,613.5 633.6,613.5 634.9,613.2 635.6,611.6 634.8,610.7 633.2,609.4 632.6,608.3 632.7,607.3 633.7,605.3 634.4,604.7 635.5,604.7 637.4,605.4 638.6,605.6 639.5,604.1 638.9,602.9 637.8,600.9 637.5,599.5 637.7,598.6 639,596.8 639.7,596.4 640.7,596.8 642.3,598.2 643.3,598.7 644.4,597.5 644.1,596 643.5,593.6 643.4,592 643.8,591.1 645.3,589.6 646,589.4 646.8,590.2 647.9,592.3 648.8,593.2 649.9,592.3 650,590.6 649.8,587.8 650.1,586.1 650.6,585.3 652.2,584.3 652.9,584.3 653.5,585.4 654,587.9 654.6,589.2 655.8,588.6 656.2,586.9 656.6,583.9 657.1,582.2 657.8,581.5 659.3,581 659.9,581.3 660.2,582.6 660.3,585.5 660.6,587 661.7,586.8 662.4,585.1 663.3,582.1 664.1,580.5 664.8,580 666.3,580 666.8,580.5 666.8,582.1 666.3,585.1 666.3,586.8 667.3,587 668.2,585.4 669.6,582.6 670.6,581.2 671.3,580.9 672.6,581.4 673,582.1 672.7,583.7 671.7,586.7 671.3,588.5 672.3,589.1 673.4,587.7 675.1,585.2 676.2,584.1 676.9,584 678,585 678.2,585.8 677.7,587.5 676.2,590.3 675.6,592.1 676.3,593 677.5,592 679.5,589.9 680.7,589.1 681.4,589.3 682.2,590.7 682.1,591.6 681.4,593.2 679.5,595.7 678.6,597.3 679.1,598.5 680.4,597.8 682.6,596.3 683.8,595.9 684.3,596.3 684.8,598.1 684.6,599.1 683.6,600.4 681.5,602.4 680.4,603.8 680.6,605.3 681.8,605 684.1,604.2 685.2,604.2 685.6,604.8 685.7,606.8 685.4,607.8 684.2,608.9 682,610.3 680.8,611.4 680.7,612.9 681.8,613.1 684,613 685,613.4 685.2,614.1 684.9,616.3 684.4,617.2 683.2,618 681,618.7 679.7,619.4 679.3,621 680.3,621.6 682.2,622.2 683.1,623 683.1,623.9 682.5,626 681.9,626.8 680.6,627.2 678.5,627.2 677.2,627.5Z"/></defs>
<use href="#g40" x="-15.8" y="-6" fill="#fff" stroke="#111" stroke-width="2.0"/>
<use href="#g40" x="-14.2" y="-5.4" fill="#fff"/>
<use href="#g40" x="-12.6" y="-4.8" fill="#fff"/>
<use href="#g40" x="-11" y="-4.2" fill="#fff"/>
<use href="#g40" x="-9.5" y="-3.6" fill="#fff"/>
<use href="#g40" x="-7.9" y="-3" fill="#fff"/>
<use href="#g40" x="-6.3" y="-2.4" fill="#fff"/>
<use href="#g40" x="-4.7" y="-1.8" fill="#fff"/>
<use href="#g40" x="-3.2" y="-1.2" fill="#fff"/>
<use href="#g40" x="-1.6" y="-0.6" fill="#fff"/>
<path d="M655.2,658.9 652.1,659.9 636.3,653.9 639.4,652.9ZM676.4,583.6 678.6,585.5 662.8,579.5 660.6,577.6ZM648.1,660.6 645.2,660.7 629.4,654.7 632.4,654.6ZM670.6,580.7 673.3,581.7 657.5,575.7 654.8,574.7ZM641.6,660 638.9,659 623.1,653 625.8,654ZM664,580.1 667,580 651.2,574 648.3,574.1ZM635.8,657.1 633.6,655.2 617.8,649.2 620,651.1ZM657,581.8 660.1,580.8 644.3,574.8 641.2,575.8ZM631.2,652.1 629.7,649.3 613.9,643.3 615.5,646.1ZM649.9,585.8 653,583.8 637.2,577.8 634.1,579.8ZM628.1,645.2 627.2,641.7 611.5,635.7 612.3,639.2ZM643.1,591.8 646,588.9 630.2,582.9 627.3,585.8ZM626.6,636.9 626.5,632.9 610.7,626.9 610.8,630.9ZM637.1,599.5 639.6,595.9 623.9,589.9 621.3,593.5ZM626.8,627.6 627.4,623.4 611.7,617.4 611,621.6ZM628.7,617.9 630.1,613.6 614.3,607.6 612.9,611.9ZM632.2,608.3 634.2,604.3 618.5,598.3 616.5,602.3Z" fill="#fff" stroke="#111" stroke-width="1.5" />
<use href="#g40" fill="#fff" stroke="#111" stroke-width="2.0"/>
<ellipse cx="656.1" cy="620.4" rx="21.3" ry="33.9" transform="rotate(23 656.1 620.4)" fill="none" stroke="#222" stroke-width="1.2" />
<ellipse cx="656.1" cy="620.4" rx="13.9" ry="22" transform="rotate(23 656.1 620.4)" fill="#2a2a2a" stroke="#111" stroke-width="2.4" />
<clipPath id="cl41"><ellipse cx="656.1" cy="620.4" rx="13.9" ry="22" transform="rotate(23 656.1 620.4)" /></clipPath>
<g clip-path="url(#cl41)">
<ellipse cx="660.1" cy="621.9" rx="13.3" ry="21.2" transform="rotate(23 660.1 621.9)" fill="#fff" stroke="#111" stroke-width="1.4" />
</g>
<rect x="647.3" y="601.8" width="5" height="8" transform="rotate(27 649.8 605.8)" fill="#fff" stroke="#111" stroke-width="1.2"/>
<rect x="660.4" y="630.3" width="5" height="8" transform="rotate(27 662.9 634.3)" fill="#fff" stroke="#111" stroke-width="1.2"/>
<line x1="656.1" y1="620.4" x2="690.7" y2="643.5" stroke="#fff" stroke-width="1.8" opacity="0.6"/>
<line x1="656.1" y1="620.4" x2="690.7" y2="643.5" stroke="#a0a0a0" stroke-width="0.75" />
<ellipse cx="689.7" cy="643" rx="12.5" ry="19.8" transform="rotate(27 689.7 643)" fill="#fff" stroke="none" stroke-width="0" />
<ellipse cx="690.7" cy="643.5" rx="12.5" ry="19.8" transform="rotate(27 690.7 643.5)" fill="#fff" stroke="none" stroke-width="0" />
<ellipse cx="688.7" cy="642.5" rx="12.5" ry="19.8" transform="rotate(27 688.7 642.5)" fill="none" stroke="#111" stroke-width="2.0" />
<ellipse cx="690.7" cy="643.5" rx="12.5" ry="19.8" transform="rotate(27 690.7 643.5)" fill="none" stroke="#111" stroke-width="2.0" />
<ellipse cx="690.7" cy="643.5" rx="10.5" ry="16.6" transform="rotate(27 690.7 643.5)" fill="none" stroke="#111" stroke-width="1.4" />
<path d="M699,647.7 699.4,649.4 698.8,650.5 697.2,650.7 696.6,651.6 696.5,653.6 695.6,654.4 694.3,654 693.5,654.7 692.9,656.7 692,657.3 691,656.3 690.2,656.7 689.2,658.6 688.2,658.8 687.7,657.3 686.9,657.4 685.6,659 684.7,658.9 684.7,657 684,656.7 682.5,657.9 681.8,657.4 682.3,655.3 681.8,654.7 680.2,655.4 679.8,654.5 680.7,652.5 680.4,651.7 678.9,651.7 678.8,650.6 680,648.8 680.1,647.8 678.8,647.2 679,646 680.5,644.6 680.7,643.5 679.9,642.3 680.3,641.1 681.9,640.3 682.4,639.3 682,637.6 682.7,636.5 684.2,636.3 684.9,635.4 685,633.4 685.8,632.6 687.2,633 688,632.3 688.5,630.3 689.5,629.7 690.4,630.7 691.3,630.3 692.3,628.4 693.2,628.2 693.8,629.7 694.6,629.6 695.9,628 696.7,628.1 696.8,630 697.4,630.3 699,629.1 699.6,629.6 699.2,631.7 699.7,632.3 701.3,631.6 701.7,632.5 700.8,634.5 701.1,635.3 702.5,635.3 702.6,636.4 701.4,638.2 701.4,639.2 702.6,639.8 702.5,641 701,642.4 700.7,643.5 701.6,644.7 701.1,645.9 699.5,646.7Z" fill="none" stroke="#111" stroke-width="0.9" />
<line x1="690.7" y1="643.5" x2="715.7" y2="658.7" stroke="#fff" stroke-width="1.8" opacity="0.6"/>
<line x1="690.7" y1="643.5" x2="715.7" y2="658.7" stroke="#a0a0a0" stroke-width="0.75" />
<ellipse cx="714.2" cy="657.7" rx="11.6" ry="18.5" transform="rotate(27 714.2 657.7)" fill="#fff" stroke="none" stroke-width="0" />
<ellipse cx="715.7" cy="658.7" rx="11.6" ry="18.5" transform="rotate(27 715.7 658.7)" fill="#fff" stroke="none" stroke-width="0" />
<ellipse cx="712.7" cy="656.7" rx="11.6" ry="18.5" transform="rotate(27 712.7 656.7)" fill="none" stroke="#111" stroke-width="2.6" />
<ellipse cx="715.7" cy="658.7" rx="11.6" ry="18.5" transform="rotate(27 715.7 658.7)" fill="none" stroke="#111" stroke-width="2.6" />
<ellipse cx="715.7" cy="658.7" rx="10" ry="15.9" transform="rotate(27 715.7 658.7)" fill="none" stroke="#111" stroke-width="1.8199999999999998" />
<line x1="715.7" y1="658.7" x2="756.3" y2="679.2" stroke="#fff" stroke-width="1.8" opacity="0.6"/>
<line x1="715.7" y1="658.7" x2="756.3" y2="679.2" stroke="#a0a0a0" stroke-width="0.75" />
<defs><path id="g42" d="M769.7,685 770.5,686 772,687.5 772.5,688.7 772.3,689.9 771,692.3 770.2,693 769,693 767.2,691.9 766,691.7 764.9,693.1 765.2,694.6 765.9,697.1 765.9,698.7 765.3,699.8 763.5,701.6 762.7,701.9 761.8,701.1 760.7,699 759.9,698 758.6,698.9 758.3,700.7 758.1,703.7 757.6,705.4 756.8,706.2 754.8,707 754.1,706.8 753.6,705.5 753.5,702.7 753.2,701.1 751.8,701.3 751.1,703 750,706 749,707.5 748.2,707.9 746.4,707.6 745.9,707 746,705.3 746.7,702.3 747,700.5 745.9,699.9 744.8,701.2 743,703.7 741.7,704.8 740.9,704.7 739.7,703.4 739.5,702.4 740.1,700.7 741.6,697.9 742.4,696.1 741.7,694.9 740.5,695.6 738.3,697.2 737,697.6 736.4,697.1 735.8,694.9 736,693.8 737,692.3 739.1,690.3 740.2,688.9 740.1,687.2 738.9,687.2 736.7,687.6 735.6,687.3 735.3,686.4 735.5,683.8 736,682.6 737.2,681.7 739.5,680.8 740.8,680 741.3,678.1 740.3,677.4 738.5,676.5 737.7,675.5 737.8,674.4 738.8,671.8 739.5,670.9 740.8,670.6 742.8,671 744.1,670.9 745,669.2 744.5,668 743.4,665.9 743.1,664.5 743.5,663.3 745.1,661.2 746,660.6 747,661.1 748.5,662.7 749.5,663.3 750.8,662.1 750.7,660.4 750.5,657.7 750.8,655.9 751.4,655 753.4,653.6 754.2,653.6 754.9,654.7 755.5,657.2 756.1,658.5 757.4,657.9 757.9,656.2 758.6,653.1 759.4,651.4 760.2,650.8 762.1,650.5 762.8,651 763,652.5 762.6,655.5 762.7,657.2 763.9,657.4 764.9,655.9 766.4,653.1 767.5,651.8 768.3,651.6 769.9,652.4 770.2,653.2 769.9,655 768.7,658 768.2,659.8 769.1,660.7 770.3,659.7 772.4,657.6 773.6,656.8 774.3,657.1 775.3,658.9 775.3,660 774.5,661.6 772.6,664.1 771.6,665.7 772,667.2 773.3,666.8 775.6,665.8 776.8,665.8 777.2,666.5 777.4,668.9 777.1,670.1 775.9,671.3 773.7,672.8 772.4,674 772.3,675.8 773.4,676.1 775.4,676.4 776.4,677 776.5,678.1 775.9,680.7 775.2,681.8 774,682.4 771.8,682.7 770.4,683.1Z"/></defs>
<use href="#g42" x="-15.2" y="-6" fill="#fff" stroke="#111" stroke-width="2.0"/>
<use href="#g42" x="-13.7" y="-5.4" fill="#fff"/>
<use href="#g42" x="-12.2" y="-4.8" fill="#fff"/>
<use href="#g42" x="-10.6" y="-4.2" fill="#fff"/>
<use href="#g42" x="-9.1" y="-3.6" fill="#fff"/>
<use href="#g42" x="-7.6" y="-3" fill="#fff"/>
<use href="#g42" x="-6.1" y="-2.4" fill="#fff"/>
<use href="#g42" x="-4.6" y="-1.8" fill="#fff"/>
<use href="#g42" x="-3" y="-1.2" fill="#fff"/>
<use href="#g42" x="-1.5" y="-0.6" fill="#fff"/>
<path d="M749.1,708 745.6,707.4 730.4,701.4 733.9,702ZM767.5,651.2 770.6,652.9 755.4,646.9 752.3,645.2ZM741.6,705.3 739.1,702.6 723.9,696.6 726.4,699.3ZM759.3,651 763,650.5 747.8,644.5 744.1,645ZM736.7,698.1 735.6,693.8 720.4,687.8 721.5,692.1ZM750.5,655.7 754.3,653.1 739.1,647.1 735.3,649.7ZM735.2,687.6 735.7,682.4 720.5,676.4 720,681.6ZM742.8,664.4 745.9,660.2 730.7,654.2 727.6,658.4ZM737.3,675.7 739.4,670.6 724.2,664.6 722.1,669.7Z" fill="#fff" stroke="#111" stroke-width="1.5" />
<use href="#g42" fill="#fff" stroke="#111" stroke-width="2.0"/>
<ellipse cx="756.3" cy="679.2" rx="11.8" ry="18.7" transform="rotate(23 756.3 679.2)" fill="#333" stroke="#111" stroke-width="1.8" />
<clipPath id="cl43"><ellipse cx="756.3" cy="679.2" rx="11.8" ry="18.7" transform="rotate(23 756.3 679.2)" /></clipPath>
<g clip-path="url(#cl43)">
<path d="M767.1,683.9 755.1,678.9M763.5,690.1 751.5,685.1M758.8,694.7 746.8,689.7M753.7,696.9 741.7,691.9M749,696.5 737,691.5M745.4,693.4 733.4,688.4M743.5,688.2 731.5,683.2M743.5,681.6 731.5,676.6M745.5,674.6 733.5,669.6M749.1,668.4 737.1,663.4M753.8,663.8 741.8,658.8M758.9,661.6 746.9,656.6M763.6,662 751.6,657M767.2,665.1 755.2,660.1M769.1,670.3 757.1,665.3M769.1,676.9 757.1,671.9" fill="none" stroke="#bbb" stroke-width="0.8" />
<ellipse cx="744.3" cy="674.2" rx="11.8" ry="18.7" transform="rotate(23 744.3 674.2)" fill="#fff" stroke="#222" stroke-width="1" />
</g>
<line x1="756.3" y1="679.2" x2="786" y2="699.5" stroke="#fff" stroke-width="1.8" opacity="0.6"/>
<line x1="756.3" y1="679.2" x2="786" y2="699.5" stroke="#a0a0a0" stroke-width="0.75" />
<ellipse cx="785" cy="699" rx="12.5" ry="19.8" transform="rotate(27 785 699)" fill="#fff" stroke="none" stroke-width="0" />
<ellipse cx="786" cy="699.5" rx="12.5" ry="19.8" transform="rotate(27 786 699.5)" fill="#fff" stroke="none" stroke-width="0" />
<ellipse cx="784" cy="698.5" rx="12.5" ry="19.8" transform="rotate(27 784 698.5)" fill="none" stroke="#111" stroke-width="2.0" />
<ellipse cx="786" cy="699.5" rx="12.5" ry="19.8" transform="rotate(27 786 699.5)" fill="#fff" stroke="#111" stroke-width="2.0" />
<ellipse cx="786" cy="699.5" rx="7.2" ry="11.5" transform="rotate(27 786 699.5)" fill="none" stroke="#111" stroke-width="1.4" />
<line x1="786" y1="699.5" x2="814.7" y2="715.8" stroke="#fff" stroke-width="1.8" opacity="0.6"/>
<line x1="786" y1="699.5" x2="814.7" y2="715.8" stroke="#a0a0a0" stroke-width="0.75" />
<path d="M800.3,713.7 800.3,713.1 800.4,712.5 800.5,711.9 800.6,711.3 800.7,710.7 800.9,710.1 801.1,709.5 801.4,708.9 801.7,708.3 802,707.8 802.4,707.2 802.7,706.7 803.1,706.2 803.5,705.8 804,705.3 804.4,704.9 804.9,704.6 805.4,704.2 805.9,703.9 806.4,703.7 806.9,703.5 807.4,703.3 807.9,703.1 808.4,703.1 808.9,703 809.4,703 809.9,703 810.4,703.1 810.8,703.2 811.3,703.4 811.7,703.6 818.8,707.6 819.2,707.8 819.6,708.1 819.9,708.4 820.3,708.8 820.6,709.2 820.9,709.6 821.1,710.1 821.4,710.5 821.5,711 821.7,711.6 821.8,712.1 821.9,712.7 822,713.3 822,713.9 822,714.5 821.9,715.1 821.8,715.7 821.7,716.3 821.6,716.9 821.4,717.5 821.1,718.1 820.9,718.7 820.6,719.3 820.3,719.8 820,720.4 819.6,720.9 819.2,721.4 818.8,721.8 818.4,722.3 817.9,722.7 817.4,723 817,723.4 816.5,723.7 816,723.9 815.5,724.1 814.9,724.3 814.4,724.5 813.9,724.5 813.4,724.6 812.9,724.6 812.4,724.6 811.9,724.5 811.5,724.4 811,724.2 810.6,724 803.5,720 803.1,719.8 802.7,719.5 802.4,719.2 802,718.8 801.7,718.4 801.4,718 801.2,717.5 800.9,717.1 800.8,716.6 800.6,716 800.5,715.5 800.4,714.9 800.3,714.3Z" fill="#fff" stroke="#111" stroke-width="1.7" />
<ellipse cx="814.7" cy="715.8" rx="6.9" ry="9.2" transform="rotate(25 814.7 715.8)" fill="#fff" stroke="#111" stroke-width="1.7" />
<ellipse cx="814.7" cy="715.8" rx="3.8" ry="5" transform="rotate(25 814.7 715.8)" fill="#333" stroke="#111" stroke-width="1.2" />
<ellipse cx="814.7" cy="715.8" rx="2.1" ry="2.7" transform="rotate(25 814.7 715.8)" fill="#fff" stroke="#111" stroke-width="1" />
<path d="M997.8,463.3 997.8,460.9 998,458.4 998.3,455.9 998.7,453.4 999.3,450.8 1000,448.3 1000.9,445.8 1001.8,443.3 1002.9,440.9 1004,438.5 1005.3,436.2 1006.7,433.9 1008.2,431.7 1009.8,429.7 1011.5,427.7 1013.2,425.9 1015,424.2 1016.8,422.6 1018.7,421.1 1020.6,419.8 1022.6,418.7 1024.5,417.7 1026.5,416.9 1028.5,416.3 1030.4,415.8 1032.4,415.5 1034.3,415.4 1036.1,415.5 1038,415.7 1039.7,416.1 1041.4,416.7 1043,417.4 1058.5,425.4 1060,426.4 1061.5,427.5 1062.8,428.7 1064.1,430.1 1065.2,431.6 1066.2,433.3 1067.1,435.1 1067.9,437 1068.5,439.1 1069.1,441.2 1069.4,443.4 1069.7,445.7 1069.8,448.1 1069.8,450.5 1069.6,453 1069.3,455.5 1068.9,458 1068.3,460.6 1067.6,463.1 1066.8,465.6 1065.8,468.1 1064.7,470.5 1063.5,472.9 1062.3,475.2 1060.9,477.5 1059.4,479.7 1057.8,481.7 1056.2,483.7 1054.4,485.5 1052.6,487.2 1050.8,488.8 1048.9,490.3 1047,491.6 1045,492.7 1043.1,493.7 1041.1,494.5 1039.1,495.1 1037.2,495.6 1035.2,495.9 1033.3,496 1031.5,495.9 1029.6,495.7 1027.9,495.3 1026.2,494.7 1024.6,493.9 1009.1,485.9 1007.6,485 1006.1,483.9 1004.8,482.7 1003.5,481.3 1002.4,479.8 1001.4,478.1 1000.5,476.3 999.7,474.4 999.1,472.3 998.5,470.2 998.2,468 997.9,465.7Z" fill="#fff" stroke="#111" stroke-width="1.7" />
<ellipse cx="1041.5" cy="459.7" rx="25.6" ry="38.2" transform="rotate(25 1041.5 459.7)" fill="#fff" stroke="#111" stroke-width="1.7" />
<ellipse cx="1041.5" cy="459.7" rx="23.8" ry="35.6" transform="rotate(25 1041.5 459.7)" fill="none" stroke="#111" stroke-width="2.4" />
<ellipse cx="1041.5" cy="459.7" rx="21" ry="31.3" transform="rotate(25 1041.5 459.7)" fill="none" stroke="#111" stroke-width="2.6" />
<ellipse cx="1041.5" cy="459.7" rx="17.9" ry="26.8" transform="rotate(25 1041.5 459.7)" fill="none" stroke="#111" stroke-width="2.0" />
<ellipse cx="1041.5" cy="459.7" rx="15.4" ry="22.9" transform="rotate(25 1041.5 459.7)" fill="none" stroke="#111" stroke-width="2.2" />
<ellipse cx="1041.5" cy="459.7" rx="12.3" ry="18.4" transform="rotate(25 1041.5 459.7)" fill="#fff" stroke="#111" stroke-width="1.6" />
<line x1="1041.5" y1="459.7" x2="1077.7" y2="480.5" stroke="#fff" stroke-width="1.8" opacity="0.6"/>
<line x1="1041.5" y1="459.7" x2="1077.7" y2="480.5" stroke="#a0a0a0" stroke-width="0.75" />
<ellipse cx="1077.7" cy="480.5" rx="13.9" ry="20.5" transform="rotate(25 1077.7 480.5)" fill="#fff" stroke="none" stroke-width="0" />
<ellipse cx="1077.7" cy="480.5" rx="13.9" ry="20.5" transform="rotate(25 1077.7 480.5)" fill="#fff" stroke="none" stroke-width="0" />
<ellipse cx="1077.7" cy="480.5" rx="13.9" ry="20.5" transform="rotate(25 1077.7 480.5)" fill="none" stroke="#111" stroke-width="3.0" />
<ellipse cx="1077.7" cy="480.5" rx="13.9" ry="20.5" transform="rotate(25 1077.7 480.5)" fill="none" stroke="#111" stroke-width="3.0" />
<ellipse cx="1077.7" cy="480.5" rx="13.2" ry="19.5" transform="rotate(25 1077.7 480.5)" fill="none" stroke="#111" stroke-width="2.0999999999999996" />
<line x1="1077.7" y1="480.5" x2="1121.4" y2="505.1" stroke="#fff" stroke-width="1.8" opacity="0.6"/>
<line x1="1077.7" y1="480.5" x2="1121.4" y2="505.1" stroke="#a0a0a0" stroke-width="0.75" />
<path d="M1089.7,505.2 1089.7,503.5 1089.8,501.8 1090.1,500.1 1090.4,498.3 1090.8,496.6 1091.4,494.9 1092,493.3 1092.7,491.6 1093.5,490 1094.4,488.5 1095.3,487 1096.4,485.6 1097.5,484.2 1098.6,482.9 1099.9,481.7 1101.2,480.6 1102.5,479.6 1103.8,478.7 1105.3,477.9 1106.7,477.2 1108.1,476.6 1109.6,476.1 1111.1,475.8 1112.5,475.5 1114,475.4 1115.4,475.4 1116.9,475.5 1118.2,475.8 1119.6,476.1 1120.9,476.6 1131.6,481.6 1132.9,482.2 1134.1,482.9 1135.2,483.7 1136.3,484.6 1137.3,485.6 1138.2,486.7 1139.1,487.9 1139.8,489.2 1140.5,490.6 1141.1,492 1141.6,493.5 1142,495 1142.2,496.6 1142.4,498.2 1142.5,499.9 1142.5,501.6 1142.3,503.3 1142.1,505 1141.8,506.8 1141.4,508.5 1140.8,510.2 1140.2,511.8 1139.5,513.5 1138.7,515.1 1137.8,516.6 1136.9,518.1 1135.8,519.5 1134.7,520.9 1133.6,522.2 1132.3,523.4 1131,524.5 1129.7,525.5 1128.3,526.4 1126.9,527.2 1125.5,527.9 1124.1,528.5 1122.6,529 1121.1,529.3 1119.7,529.6 1118.2,529.7 1116.8,529.7 1115.3,529.6 1114,529.3 1112.6,529 1111.3,528.5 1100.6,523.5 1099.3,522.9 1098.1,522.2 1097,521.4 1095.9,520.5 1094.9,519.5 1094,518.4 1093.1,517.2 1092.4,515.9 1091.7,514.5 1091.1,513.1 1090.6,511.6 1090.2,510.1 1090,508.5 1089.8,506.9Z" fill="#fff" stroke="#111" stroke-width="1.7" />
<ellipse cx="1121.4" cy="505.1" rx="19.9" ry="25.6" transform="rotate(25 1121.4 505.1)" fill="#fff" stroke="#111" stroke-width="1.7" />
<ellipse cx="1121.4" cy="505.1" rx="15.9" ry="20.4" transform="rotate(25 1121.4 505.1)" fill="#fff" stroke="#111" stroke-width="1.3" />
<ellipse cx="1121.4" cy="505.1" rx="14" ry="17.9" transform="rotate(25 1121.4 505.1)" fill="#222" stroke="#111" stroke-width="1.6" />
<ellipse cx="1124.4" cy="506.1" rx="12.4" ry="15.8" transform="rotate(25 1124.4 506.1)" fill="#fff" stroke="none" stroke-width="0" />
<path d="M17,580 L24,576.5 L31,580 L31,589 L24,593 L17,589Z" fill="#444" stroke="#111" stroke-width="1.9" />
<path d="M28,582 L45.5,591.5 L42,598 L25,588.5Z" fill="#666" stroke="#111" stroke-width="1.6" />
<path d="M32.4,584.4 L28.9,590.9M35,585.8 L31.5,592.3M37.6,587.2 L34.1,593.7M40.2,588.6 L36.8,595.1M42.9,590.1 L39.4,596.6" fill="none" stroke="#ddd" stroke-width="1" />
<path d="M83.8,554.5 C84.8,551.6 86.1,551.3 88,550.5 C89.9,549.7 92.2,550.2 95,549.5 C97.8,548.8 100,548.2 104.5,546 C109,543.8 116.6,538 122,536.5 C127.4,535 133,535.8 137,537 C141,538.2 143.5,542.5 146,543.5 C148.5,544.5 150.1,542.4 152,543 C153.9,543.6 156.6,545 157.5,547 C158.4,549 158.4,552.7 157.5,555 C156.6,557.3 153.5,558.9 152,561 C150.5,563.1 150.5,563.2 148.7,567.8 C146.9,572.4 144.8,581.9 141.4,588.5 C138,595.1 134.2,602.5 128,607.7 C121.8,613 109.3,617.3 104.5,620 C99.7,622.7 100.6,622.3 99,624 C97.4,625.7 96.8,628.8 95,630 C93.2,631.2 90,631.5 88,631 C86,630.5 84,628.9 83,627 C82,625.1 82.4,625.4 82,619.5 C81.6,613.6 80.8,600 80.8,591.4 C80.8,582.8 81.8,573.9 82.3,567.8 C82.8,561.6 82.8,557.4 83.8,554.5Z" fill="#fff" stroke="#111" stroke-width="2.0" />
<path d="M86.3,556.6 C87.1,554 88.4,553.7 90.2,552.9 C91.9,552.1 94.1,552.7 96.7,552 C99.2,551.3 101.3,550.7 105.5,548.7 C109.7,546.7 116.8,541.3 121.8,539.9 C126.8,538.5 132,539.3 135.7,540.4 C139.5,541.4 141.8,545.5 144.1,546.4 C146.4,547.3 147.9,545.4 149.7,545.9 C151.5,546.5 154,547.8 154.8,549.7 C155.7,551.5 155.7,554.9 154.8,557.1 C154,559.3 151.1,560.7 149.7,562.7 C148.3,564.7 148.3,564.7 146.6,569 C145,573.3 143,582.1 139.8,588.3 C136.6,594.4 133.1,601.2 127.4,606.1 C121.7,611 110,615 105.5,617.6 C101,620.1 101.9,619.7 100.4,621.3 C98.9,622.8 98.4,625.8 96.7,626.9 C95,627.9 92,628.2 90.2,627.8 C88.3,627.3 86.4,625.8 85.5,624.1 C84.6,622.3 84.9,622.6 84.6,617.1 C84.2,611.6 83.4,599 83.5,591 C83.5,582.9 84.4,574.7 84.9,569 C85.3,563.3 85.4,559.3 86.3,556.6Z" fill="none" stroke="#666" stroke-width="0.9" />
<ellipse cx="114.4" cy="577.4" rx="23.2" ry="33.1" transform="rotate(25 114.4 577.4)" fill="none" stroke="#555" stroke-width="0.9" />
<ellipse cx="114.4" cy="577.4" rx="22" ry="31.5" transform="rotate(25 114.4 577.4)" fill="#fff" stroke="#111" stroke-width="2.0" />
<ellipse cx="92.7" cy="559.7" rx="2.6" ry="3.8" transform="rotate(25 92.7 559.7)" fill="#fff" stroke="#111" stroke-width="1.7"/>
<ellipse cx="151.7" cy="553.8" rx="2.6" ry="3.8" transform="rotate(25 151.7 553.8)" fill="#fff" stroke="#111" stroke-width="1.7"/>
<ellipse cx="92.7" cy="624" rx="2.6" ry="3.8" transform="rotate(25 92.7 624)" fill="#fff" stroke="#111" stroke-width="1.7"/>
<path d="M147.5,606 L150,604.5 L157.5,608.5 L155,611Z" fill="#333" stroke="#111" stroke-width="1.4" />
<path d="M159.9,631.9 159.9,629.5 160.1,627.1 160.4,624.6 160.8,622.2 161.3,619.7 162,617.2 162.8,614.8 163.7,612.4 164.8,610 165.9,607.7 167.2,605.4 168.5,603.2 170,601.1 171.5,599.1 173.2,597.2 174.8,595.4 176.6,593.8 178.4,592.2 180.2,590.8 182.1,589.6 184,588.5 186,587.5 187.9,586.8 189.8,586.2 191.8,585.7 193.7,585.4 195.6,585.3 197.4,585.4 199.2,585.6 200.9,586 202.6,586.6 216.6,592.6 218.2,593.4 219.7,594.3 221.2,595.4 222.5,596.6 223.7,597.9 224.9,599.5 225.9,601.1 226.8,602.9 227.6,604.7 228.2,606.7 228.7,608.8 229.1,611 229.4,613.2 229.5,615.5 229.5,617.9 229.3,620.3 229,622.8 228.6,625.2 228.1,627.7 227.4,630.1 226.6,632.6 225.7,635 224.6,637.4 223.5,639.7 222.2,642 220.9,644.2 219.4,646.3 217.9,648.3 216.2,650.2 214.6,652 212.8,653.6 211,655.2 209.2,656.6 207.3,657.8 205.4,658.9 203.4,659.9 201.5,660.6 199.6,661.2 197.6,661.7 195.7,662 193.8,662.1 192,662 190.2,661.8 188.5,661.4 186.8,660.8 172.8,654.8 171.2,654 169.7,653.1 168.2,652 166.9,650.8 165.7,649.5 164.5,648 163.5,646.3 162.6,644.5 161.8,642.7 161.2,640.7 160.7,638.6 160.3,636.4 160,634.2Z" fill="#fff" stroke="#111" stroke-width="1.9" />
<ellipse cx="201.7" cy="626.7" rx="25.3" ry="37.2" transform="rotate(25 201.7 626.7)" fill="#fff" stroke="#111" stroke-width="1.9" />
<ellipse cx="201.7" cy="626.7" rx="22.8" ry="33.5" transform="rotate(25 201.7 626.7)" fill="#fff" stroke="#111" stroke-width="1.4" />
<ellipse cx="201.7" cy="626.7" rx="21.2" ry="31.2" transform="rotate(25 201.7 626.7)" fill="#fff" stroke="#111" stroke-width="1.6" />
<ellipse cx="215.2" cy="638.7" rx="4.5" ry="5.6" transform="rotate(25 215.2 638.7)" fill="#fff" stroke="#111" stroke-width="1.6" />
<ellipse cx="201.4" cy="650.5" rx="4.5" ry="5.6" transform="rotate(25 201.4 650.5)" fill="#fff" stroke="#111" stroke-width="1.6" />
<ellipse cx="187.7" cy="648.3" rx="4.5" ry="5.6" transform="rotate(25 187.7 648.3)" fill="#fff" stroke="#111" stroke-width="1.6" />
<ellipse cx="182.2" cy="633.5" rx="4.5" ry="5.6" transform="rotate(25 182.2 633.5)" fill="#fff" stroke="#111" stroke-width="1.6" />
<ellipse cx="188.2" cy="614.7" rx="4.5" ry="5.6" transform="rotate(25 188.2 614.7)" fill="#fff" stroke="#111" stroke-width="1.6" />
<ellipse cx="202" cy="602.9" rx="4.5" ry="5.6" transform="rotate(25 202 602.9)" fill="#fff" stroke="#111" stroke-width="1.6" />
<ellipse cx="215.7" cy="605.1" rx="4.5" ry="5.6" transform="rotate(25 215.7 605.1)" fill="#fff" stroke="#111" stroke-width="1.6" />
<ellipse cx="221.2" cy="619.9" rx="4.5" ry="5.6" transform="rotate(25 221.2 619.9)" fill="#fff" stroke="#111" stroke-width="1.6" />
<ellipse cx="201.7" cy="626.7" rx="14.2" ry="20.8" transform="rotate(25 201.7 626.7)" fill="#fff" stroke="#111" stroke-width="1.8" />
<ellipse cx="201.7" cy="626.7" rx="12.1" ry="17.9" transform="rotate(25 201.7 626.7)" fill="none" stroke="#444" stroke-width="0.9" />
<ellipse cx="201.7" cy="626.7" rx="10.1" ry="14.9" transform="rotate(25 201.7 626.7)" fill="#fff" stroke="#111" stroke-width="1.9" />
<path d="M232,642 C232.6,639.6 234.6,637.4 235.8,636.7 C237,636 242.2,636.1 244,635.3 C245.8,634.5 251.5,630.3 254.3,628.6 C257.1,626.9 269.1,619.5 272,618.3 C274.9,617.1 282,616.4 283.8,616.8 C285.6,617.2 288.9,620.6 290.4,622 C291.9,623.4 297.2,629.8 298.6,630.8 C300,631.8 303.6,631 304.5,631.6 C305.4,632.2 307.2,635.8 307.4,636.7 C307.5,637.6 306.7,638.1 306,640.4 C305.3,642.7 301.6,654 300,660 C298.4,666 294,694.8 290,700 C286,705.2 263.6,711.2 260,712 C256.4,712.8 255.5,707.9 254.3,708 C253.1,708.1 249.9,712.6 248.4,713.5 C246.9,714.4 241.1,717.1 239.5,717 C237.9,716.9 232.9,714.3 232,712.7 C231.1,711.1 231.4,704 230.7,701 C230,698 226,685.3 224.8,683.2 C223.6,681.1 219.8,681.3 218.9,680.3 C218,679.3 216,674.6 216,673 C216,671.4 217.5,665.2 218.9,664 C220.3,662.8 228.7,663.2 230,661 C231.3,658.8 231.4,644.4 232,642Z" fill="#fff" stroke="#111" stroke-width="1.8" />
<ellipse cx="240.3" cy="644.9" rx="2.8" ry="4" transform="rotate(25 240.3 644.9)" fill="#fff" stroke="#111" stroke-width="1.7"/>
<ellipse cx="227" cy="673.6" rx="2.8" ry="4" transform="rotate(25 227 673.6)" fill="#fff" stroke="#111" stroke-width="1.7"/>
<ellipse cx="241.7" cy="709.8" rx="2.8" ry="4" transform="rotate(25 241.7 709.8)" fill="#fff" stroke="#111" stroke-width="1.7"/>
<path d="M233.8,672.5 233.9,669.7 234.2,667 234.7,664.1 235.3,661.3 236,658.5 236.9,655.8 237.9,653.1 239.1,650.4 240.4,647.8 241.8,645.3 243.3,642.8 244.9,640.5 246.6,638.3 248.4,636.2 250.3,634.2 252.3,632.4 254.3,630.8 256.4,629.3 258.5,628 260.6,626.8 262.8,625.8 265,625 267.2,624.5 269.4,624.1 271.5,623.9 273.6,623.8 275.7,624 277.7,624.4 279.7,625 281.6,625.7 283.4,626.7 297.4,635.7 299.1,636.8 300.7,638.1 302.2,639.6 303.6,641.2 304.9,643 306.1,645 307.1,647.1 308,649.3 308.7,651.6 309.3,654 309.8,656.5 310.1,659.1 310.2,661.8 310.2,664.5 310.1,667.3 309.8,670 309.3,672.9 308.7,675.7 308,678.5 307.1,681.2 306.1,683.9 304.9,686.6 303.6,689.2 302.2,691.7 300.7,694.2 299.1,696.5 297.4,698.7 295.6,700.8 293.7,702.8 291.7,704.6 289.7,706.2 287.6,707.7 285.5,709 283.4,710.2 281.2,711.2 279,712 276.8,712.5 274.6,712.9 272.5,713.1 270.4,713.2 268.3,713 266.3,712.6 264.3,712 262.4,711.3 260.6,710.3 246.6,701.3 244.9,700.2 243.3,698.9 241.8,697.4 240.4,695.8 239.1,694 237.9,692 236.9,689.9 236,687.7 235.3,685.4 234.7,683 234.2,680.5 233.9,677.9 233.8,675.2Z" fill="#fff" stroke="#111" stroke-width="1.8" />
<ellipse cx="279" cy="673" rx="29.2" ry="41.7" transform="rotate(22 279 673)" fill="#fff" stroke="#111" stroke-width="1.9" />
<ellipse cx="274" cy="670" rx="28" ry="40" transform="rotate(22 274 670)" fill="none" stroke="#555" stroke-width="0.9" />
<ellipse cx="279" cy="673" rx="23.4" ry="33.4" transform="rotate(22 279 673)" fill="#fff" stroke="#111" stroke-width="2.0" />
<clipPath id="cl44"><ellipse cx="279" cy="673" rx="23.4" ry="33.4" transform="rotate(22 279 673)" /></clipPath>
<g clip-path="url(#cl44)">
<ellipse cx="270" cy="667" rx="23.4" ry="33.4" transform="rotate(22 270 667)" fill="none" stroke="#222" stroke-width="1.3" />
</g>
<path d="M62,155.5 Q61,164 68,166.5 L509,419.8 Q512,421.8 511.6,427.3 L514.5,424.3 L996,698.3 Q1002,702.8 1005,696.8" fill="none" stroke="#111" stroke-width="3.5" />
<path d="M200.5,465.5 Q199,472 206,475 L443,612 Q446,614 445,619 L449.6,616.8 L729,777.5 Q735,780.5 739.5,775" fill="none" stroke="#111" stroke-width="3.5" />
<path d="M40.7,267 23.5,259 23.5,427 323.5,598 323.5,697" fill="none" stroke="#3a3a3a" stroke-width="1.6" stroke-dasharray="19.5 2 3.5 3" stroke-linecap="butt"/>
<path d="M1003,437.8 982,425 982,506 1141,595.5 1141,660" fill="none" stroke="#3a3a3a" stroke-width="1.6" stroke-dasharray="19.5 2 3.5 3" stroke-linecap="butt"/>
<path d="M45.4,597.3 83.8,618.7" fill="none" stroke="#3a3a3a" stroke-width="1.5" stroke-dasharray="19.5 2 3.5 3" stroke-linecap="butt"/>
<path d="M117.7,579.6 168,608" fill="none" stroke="#3a3a3a" stroke-width="1.0" stroke-dasharray="19.5 2 3.5 3" stroke-linecap="butt"/>
<path d="M1083,367 Q1083,362 1088,364 L1123.5,384 Q1125.5,385 1125,389 L1128,386 L1156,402 Q1160,405 1159,411" fill="none" stroke="#111" stroke-width="2.9" />
<path d="M153,701 Q151,705 155,706 L169.5,714 Q171.5,715 171,719.5 L174,717 L198,731 Q202,733 201,728" fill="none" stroke="#111" stroke-width="2.9" />
<line x1="1124" y1="649" x2="1142" y2="660" stroke="#fff" stroke-width="1.8" opacity="0.6"/>
<line x1="1124" y1="649" x2="1142" y2="660" stroke="#a0a0a0" stroke-width="0.75" />
<line x1="30" y1="262.5" x2="47" y2="272" stroke="#fff" stroke-width="1.8" opacity="0.6"/>
<line x1="30" y1="262.5" x2="47" y2="272" stroke="#a0a0a0" stroke-width="0.75" />
<line x1="201.7" y1="626.7" x2="232" y2="642" stroke="#fff" stroke-width="1.8" opacity="0.6"/>
<line x1="201.7" y1="626.7" x2="232" y2="642" stroke="#a0a0a0" stroke-width="0.75" />
<line x1="279" y1="673" x2="323" y2="696" stroke="#fff" stroke-width="1.8" opacity="0.6"/>
<line x1="279" y1="673" x2="323" y2="696" stroke="#a0a0a0" stroke-width="0.75" />
<line x1="71.2" y1="77.5" x2="33" y2="112" stroke="#444" stroke-width="1.3" />
<line x1="108.6" y1="88.8" x2="87.5" y2="142.7" stroke="#444" stroke-width="1.3" />
<line x1="134.9" y1="106.6" x2="118.8" y2="161.4" stroke="#444" stroke-width="1.3" />
<line x1="170" y1="121" x2="148.5" y2="178.3" stroke="#444" stroke-width="1.3" />
<line x1="203.6" y1="197" x2="199.3" y2="208" stroke="#444" stroke-width="1.3" />
<line x1="277" y1="190" x2="256" y2="240" stroke="#444" stroke-width="1.3" />
<line x1="308.8" y1="241" x2="297.8" y2="263" stroke="#444" stroke-width="1.3" />
<line x1="380" y1="247" x2="349.5" y2="293.6" stroke="#444" stroke-width="1.3" />
<line x1="406.3" y1="263" x2="382.5" y2="312.2" stroke="#444" stroke-width="1.3" />
<line x1="436.8" y1="278.3" x2="423.2" y2="336" stroke="#444" stroke-width="1.3" />
<line x1="470.7" y1="338" x2="461.8" y2="357.5" stroke="#444" stroke-width="1.3" />
<line x1="539" y1="337" x2="514" y2="388" stroke="#444" stroke-width="1.3" />
<line x1="565" y1="395" x2="558.5" y2="413.7" stroke="#444" stroke-width="1.3" />
<line x1="643" y1="397" x2="603" y2="440" stroke="#444" stroke-width="1.3" />
<line x1="670" y1="410" x2="644" y2="463" stroke="#444" stroke-width="1.3" />
<line x1="707" y1="469.6" x2="695.7" y2="492.5" stroke="#444" stroke-width="1.3" />
<line x1="768" y1="469.6" x2="741.5" y2="519" stroke="#444" stroke-width="1.3" />
<line x1="796" y1="486" x2="783.4" y2="544.6" stroke="#444" stroke-width="1.3" />
<line x1="829" y1="503.7" x2="829" y2="568" stroke="#444" stroke-width="1.3" />
<line x1="879" y1="574.6" x2="874" y2="597" stroke="#444" stroke-width="1.3" />
<line x1="1023" y1="617" x2="997.5" y2="666" stroke="#444" stroke-width="1.3" />
<line x1="1031.4" y1="364.5" x2="1036" y2="413.7" stroke="#444" stroke-width="1.3" />
<line x1="1089" y1="401" x2="1085.5" y2="461.6" stroke="#444" stroke-width="1.3" />
<line x1="1142" y1="404" x2="1129.8" y2="477.6" stroke="#444" stroke-width="1.3" />
<line x1="247" y1="409" x2="224" y2="453.7" stroke="#444" stroke-width="1.3" />
<line x1="295.5" y1="443.6" x2="276.5" y2="483" stroke="#444" stroke-width="1.3" />
<line x1="328.6" y1="459" x2="309.5" y2="502" stroke="#444" stroke-width="1.3" />
<line x1="365.4" y1="504.6" x2="347.6" y2="525" stroke="#444" stroke-width="1.3" />
<line x1="413.7" y1="511" x2="385.8" y2="545" stroke="#444" stroke-width="1.3" />
<line x1="443" y1="526" x2="417.6" y2="565.6" stroke="#444" stroke-width="1.3" />
<line x1="478.5" y1="566.6" x2="450.5" y2="584.4" stroke="#444" stroke-width="1.3" />
<line x1="544.6" y1="582" x2="487.4" y2="608.6" stroke="#444" stroke-width="1.3" />
<line x1="565" y1="594.6" x2="515" y2="623.8" stroke="#444" stroke-width="1.3" />
<line x1="592.9" y1="610" x2="544.6" y2="639" stroke="#444" stroke-width="1.3" />
<line x1="613" y1="645.4" x2="575" y2="658" stroke="#444" stroke-width="1.3" />
<line x1="675.7" y1="661" x2="613.4" y2="680" stroke="#444" stroke-width="1.3" />
<line x1="700" y1="672.5" x2="646.4" y2="699" stroke="#444" stroke-width="1.3" />
<line x1="720" y1="694" x2="679.5" y2="717" stroke="#444" stroke-width="1.3" />
<line x1="769.8" y1="714.4" x2="710" y2="736" stroke="#444" stroke-width="1.3" />
<line x1="804" y1="720.8" x2="739" y2="752.6" stroke="#444" stroke-width="1.3" />
<line x1="39.8" y1="598" x2="44.3" y2="656" stroke="#444" stroke-width="1.3" />
<line x1="88.5" y1="632" x2="85.6" y2="679.4" stroke="#444" stroke-width="1.3" />
<line x1="152" y1="610" x2="125.4" y2="691" stroke="#444" stroke-width="1.3" />
<line x1="154" y1="700.7" x2="177" y2="662" stroke="#444" stroke-width="1.3" />
<line x1="195" y1="724.7" x2="222" y2="683" stroke="#444" stroke-width="1.3" />
<text x="281.5" y="78.5" style="font-family:Liberation Serif,serif" font-style="italic" font-weight="bold" font-size="18.5" fill="#1a1a1a" stroke="#1a1a1a" stroke-width="0.5" text-anchor="middle">1</text>
<text x="290.8" y="71.1" style="font-family:Liberation Serif,serif" font-weight="bold" font-size="11.5" fill="#1a1a1a" text-anchor="middle">a</text>
<rect x="288" y="71.9" width="5.6" height="1.5" fill="#222"/>
<text x="370.7" y="145" style="font-family:Liberation Serif,serif" font-style="italic" font-weight="bold" font-size="18.5" fill="#1a1a1a" stroke="#1a1a1a" stroke-width="0.5" text-anchor="middle">5</text>
<text x="380" y="137.6" style="font-family:Liberation Serif,serif" font-weight="bold" font-size="11.5" fill="#1a1a1a" text-anchor="middle">a</text>
<rect x="377.2" y="138.4" width="5.6" height="1.5" fill="#222"/>
<text x="529.7" y="237.6" style="font-family:Liberation Serif,serif" font-style="italic" font-weight="bold" font-size="18.5" fill="#1a1a1a" stroke="#1a1a1a" stroke-width="0.5" text-anchor="middle">4</text>
<text x="539" y="230.2" style="font-family:Liberation Serif,serif" font-weight="bold" font-size="11.5" fill="#1a1a1a" text-anchor="middle">a</text>
<rect x="536.2" y="231" width="5.6" height="1.5" fill="#222"/>
<text x="633.7" y="291" style="font-family:Liberation Serif,serif" font-style="italic" font-weight="bold" font-size="18.5" fill="#1a1a1a" stroke="#1a1a1a" stroke-width="0.5" text-anchor="middle">3</text>
<text x="643" y="283.6" style="font-family:Liberation Serif,serif" font-weight="bold" font-size="11.5" fill="#1a1a1a" text-anchor="middle">a</text>
<rect x="640.2" y="284.4" width="5.6" height="1.5" fill="#222"/>
<text x="764.2" y="378" style="font-family:Liberation Serif,serif" font-style="italic" font-weight="bold" font-size="18.5" fill="#1a1a1a" stroke="#1a1a1a" stroke-width="0.5" text-anchor="middle">6</text>
<text x="773.5" y="370.6" style="font-family:Liberation Serif,serif" font-weight="bold" font-size="11.5" fill="#1a1a1a" text-anchor="middle">a</text>
<rect x="770.7" y="371.4" width="5.6" height="1.5" fill="#222"/>
<text x="925.5" y="455" style="font-family:Liberation Serif,serif" font-style="italic" font-weight="bold" font-size="18.5" fill="#1a1a1a" stroke="#1a1a1a" stroke-width="0.5" text-anchor="middle">2</text>
<text x="934.8" y="447.6" style="font-family:Liberation Serif,serif" font-weight="bold" font-size="11.5" fill="#1a1a1a" text-anchor="middle">a</text>
<rect x="932" y="448.4" width="5.6" height="1.5" fill="#222"/>
<text x="409.2" y="426.7" style="font-family:Liberation Serif,serif" font-style="italic" font-weight="bold" font-size="18.5" fill="#1a1a1a" stroke="#1a1a1a" stroke-width="0.5" text-anchor="middle">5</text>
<text x="418.5" y="419.3" style="font-family:Liberation Serif,serif" font-weight="bold" font-size="11.5" fill="#1a1a1a" text-anchor="middle">a</text>
<rect x="415.7" y="420.1" width="5.6" height="1.5" fill="#222"/>
<text x="513.3" y="491" style="font-family:Liberation Serif,serif" font-style="italic" font-weight="bold" font-size="18.5" fill="#1a1a1a" stroke="#1a1a1a" stroke-width="0.5" text-anchor="middle">4</text>
<text x="522.6" y="483.6" style="font-family:Liberation Serif,serif" font-weight="bold" font-size="11.5" fill="#1a1a1a" text-anchor="middle">a</text>
<rect x="519.8" y="484.4" width="5.6" height="1.5" fill="#222"/>
<text x="548.7" y="513" style="font-family:Liberation Serif,serif" font-style="italic" font-weight="bold" font-size="18.5" fill="#1a1a1a" stroke="#1a1a1a" stroke-width="0.5" text-anchor="middle">3</text>
<text x="558" y="505.6" style="font-family:Liberation Serif,serif" font-weight="bold" font-size="11.5" fill="#1a1a1a" text-anchor="middle">a</text>
<rect x="555.2" y="506.4" width="5.6" height="1.5" fill="#222"/>
<text x="677.3" y="581.5" style="font-family:Liberation Serif,serif" font-style="italic" font-weight="bold" font-size="18.5" fill="#1a1a1a" stroke="#1a1a1a" stroke-width="0.5" text-anchor="middle">6</text>
<text x="686.6" y="574.1" style="font-family:Liberation Serif,serif" font-weight="bold" font-size="11.5" fill="#1a1a1a" text-anchor="middle">a</text>
<rect x="683.8" y="574.9" width="5.6" height="1.5" fill="#222"/>
<text x="770.3" y="645.4" style="font-family:Liberation Serif,serif" font-style="italic" font-weight="bold" font-size="18.5" fill="#1a1a1a" stroke="#1a1a1a" stroke-width="0.5" text-anchor="middle">2</text>
<text x="779.6" y="638" style="font-family:Liberation Serif,serif" font-weight="bold" font-size="11.5" fill="#1a1a1a" text-anchor="middle">a</text>
<rect x="776.8" y="638.8" width="5.6" height="1.5" fill="#222"/>
<text transform="translate(25,129.1) scale(0.93,1)" font-size="18.5" fill="#2b2b2b" stroke="#2b2b2b" stroke-width="0.35" text-anchor="middle">25</text>
<text transform="translate(82.4,162.5) scale(0.93,1)" font-size="18.5" fill="#2b2b2b" stroke="#2b2b2b" stroke-width="0.35" text-anchor="middle">24</text>
<text transform="translate(117,182.1) scale(0.93,1)" font-size="18.5" fill="#2b2b2b" stroke="#2b2b2b" stroke-width="0.35" text-anchor="middle">18</text>
<text transform="translate(145,197.1) scale(0.93,1)" font-size="18.5" fill="#2b2b2b" stroke="#2b2b2b" stroke-width="0.35" text-anchor="middle">15</text>
<text transform="translate(194,227.8) scale(0.93,1)" font-size="18.5" fill="#2b2b2b" stroke="#2b2b2b" stroke-width="0.35" text-anchor="middle">6</text>
<text transform="translate(252,259.1) scale(0.93,1)" font-size="18.5" fill="#2b2b2b" stroke="#2b2b2b" stroke-width="0.35" text-anchor="middle">18</text>
<text transform="translate(291.9,282.9) scale(0.93,1)" font-size="18.5" fill="#2b2b2b" stroke="#2b2b2b" stroke-width="0.35" text-anchor="middle">10</text>
<text transform="translate(341.9,312.5) scale(0.93,1)" font-size="18.5" fill="#2b2b2b" stroke="#2b2b2b" stroke-width="0.35" text-anchor="middle">23</text>
<text transform="translate(374.9,332.1) scale(0.93,1)" font-size="18.5" fill="#2b2b2b" stroke="#2b2b2b" stroke-width="0.35" text-anchor="middle">21</text>
<text transform="translate(419.8,355.7) scale(0.93,1)" font-size="18.5" fill="#2b2b2b" stroke="#2b2b2b" stroke-width="0.35" text-anchor="middle">14</text>
<text transform="translate(456,377.6) scale(0.93,1)" font-size="18.5" fill="#2b2b2b" stroke="#2b2b2b" stroke-width="0.35" text-anchor="middle">9</text>
<text transform="translate(507.6,406.4) scale(0.93,1)" font-size="18.5" fill="#2b2b2b" stroke="#2b2b2b" stroke-width="0.35" text-anchor="middle">14</text>
<text transform="translate(504,444.6) scale(0.93,1)" font-size="18.5" fill="#2b2b2b" stroke="#2b2b2b" stroke-width="0.35" text-anchor="middle">34</text>
<text transform="translate(553.4,432.7) scale(0.93,1)" font-size="18.5" fill="#2b2b2b" stroke="#2b2b2b" stroke-width="0.35" text-anchor="middle">8</text>
<text transform="translate(592.6,457.6) scale(0.93,1)" font-size="18.5" fill="#2b2b2b" stroke="#2b2b2b" stroke-width="0.35" text-anchor="middle">21</text>
<text transform="translate(637.3,482.6) scale(0.93,1)" font-size="18.5" fill="#2b2b2b" stroke="#2b2b2b" stroke-width="0.35" text-anchor="middle">23</text>
<text transform="translate(689.3,511.1) scale(0.93,1)" font-size="18.5" fill="#2b2b2b" stroke="#2b2b2b" stroke-width="0.35" text-anchor="middle">11</text>
<text transform="translate(735,539.1) scale(0.93,1)" font-size="18.5" fill="#2b2b2b" stroke="#2b2b2b" stroke-width="0.35" text-anchor="middle">23</text>
<text transform="translate(779.6,565.7) scale(0.93,1)" font-size="18.5" fill="#2b2b2b" stroke="#2b2b2b" stroke-width="0.35" text-anchor="middle">21</text>
<text transform="translate(829,590.1) scale(0.93,1)" font-size="18.5" fill="#2b2b2b" stroke="#2b2b2b" stroke-width="0.35" text-anchor="middle">14</text>
<text transform="translate(874,616.6) scale(0.93,1)" font-size="18.5" fill="#2b2b2b" stroke="#2b2b2b" stroke-width="0.35" text-anchor="middle">7</text>
<text transform="translate(991,685.1) scale(0.93,1)" font-size="18.5" fill="#2b2b2b" stroke="#2b2b2b" stroke-width="0.35" text-anchor="middle">1</text>
<text transform="translate(1030,359.1) scale(0.93,1)" font-size="18.5" fill="#2b2b2b" stroke="#2b2b2b" stroke-width="0.35" text-anchor="middle">26</text>
<text transform="translate(1090.4,393.7) scale(0.93,1)" font-size="18.5" fill="#2b2b2b" stroke="#2b2b2b" stroke-width="0.35" text-anchor="middle">30</text>
<text transform="translate(1129.8,380.9) scale(0.93,1)" font-size="18.5" fill="#2b2b2b" stroke="#2b2b2b" stroke-width="0.35" text-anchor="middle">31</text>
<text transform="translate(218,472.1) scale(0.93,1)" font-size="18.5" fill="#2b2b2b" stroke="#2b2b2b" stroke-width="0.35" text-anchor="middle">2</text>
<text transform="translate(270,501.5) scale(0.93,1)" font-size="18.5" fill="#2b2b2b" stroke="#2b2b2b" stroke-width="0.35" text-anchor="middle">17</text>
<text transform="translate(303,520.6) scale(0.93,1)" font-size="18.5" fill="#2b2b2b" stroke="#2b2b2b" stroke-width="0.35" text-anchor="middle">14</text>
<text transform="translate(340,542.1) scale(0.93,1)" font-size="18.5" fill="#2b2b2b" stroke="#2b2b2b" stroke-width="0.35" text-anchor="middle">4</text>
<text transform="translate(377,562.5) scale(0.93,1)" font-size="18.5" fill="#2b2b2b" stroke="#2b2b2b" stroke-width="0.35" text-anchor="middle">17</text>
<text transform="translate(410,581.6) scale(0.93,1)" font-size="18.5" fill="#2b2b2b" stroke="#2b2b2b" stroke-width="0.35" text-anchor="middle">23</text>
<text transform="translate(437.8,599.1) scale(0.93,1)" font-size="18.5" fill="#2b2b2b" stroke="#2b2b2b" stroke-width="0.35" text-anchor="middle">3</text>
<text transform="translate(474.7,620.8) scale(0.93,1)" font-size="18.5" fill="#2b2b2b" stroke="#2b2b2b" stroke-width="0.35" text-anchor="middle">22</text>
<text transform="translate(504,637.1) scale(0.93,1)" font-size="18.5" fill="#2b2b2b" stroke="#2b2b2b" stroke-width="0.35" text-anchor="middle">20</text>
<text transform="translate(534.4,653.8) scale(0.93,1)" font-size="18.5" fill="#2b2b2b" stroke="#2b2b2b" stroke-width="0.35" text-anchor="middle">13</text>
<text transform="translate(562.4,670.1) scale(0.93,1)" font-size="18.5" fill="#2b2b2b" stroke="#2b2b2b" stroke-width="0.35" text-anchor="middle">5</text>
<text transform="translate(437.8,636.1) scale(0.93,1)" font-size="18.5" fill="#2b2b2b" stroke="#2b2b2b" stroke-width="0.35" text-anchor="middle">33</text>
<text transform="translate(599.4,691.1) scale(0.93,1)" font-size="18.5" fill="#2b2b2b" stroke="#2b2b2b" stroke-width="0.35" text-anchor="middle">20</text>
<text transform="translate(635,711.1) scale(0.93,1)" font-size="18.5" fill="#2b2b2b" stroke="#2b2b2b" stroke-width="0.35" text-anchor="middle">22</text>
<text transform="translate(668,731.7) scale(0.93,1)" font-size="18.5" fill="#2b2b2b" stroke="#2b2b2b" stroke-width="0.35" text-anchor="middle">12</text>
<text transform="translate(697.3,748.1) scale(0.93,1)" font-size="18.5" fill="#2b2b2b" stroke="#2b2b2b" stroke-width="0.35" text-anchor="middle">19</text>
<text transform="translate(727.8,766.1) scale(0.93,1)" font-size="18.5" fill="#2b2b2b" stroke="#2b2b2b" stroke-width="0.35" text-anchor="middle">16</text>
<text transform="translate(44.3,679.1) scale(0.93,1)" font-size="18.5" fill="#2b2b2b" stroke="#2b2b2b" stroke-width="0.35" text-anchor="middle">29</text>
<text transform="translate(85.6,702.7) scale(0.93,1)" font-size="18.5" fill="#2b2b2b" stroke="#2b2b2b" stroke-width="0.35" text-anchor="middle">28</text>
<text transform="translate(119.5,713.1) scale(0.93,1)" font-size="18.5" fill="#2b2b2b" stroke="#2b2b2b" stroke-width="0.35" text-anchor="middle">32</text>
<text transform="translate(163.8,739.6) scale(0.93,1)" font-size="18.5" fill="#2b2b2b" stroke="#2b2b2b" stroke-width="0.35" text-anchor="middle">27</text>
</svg></body></html>
